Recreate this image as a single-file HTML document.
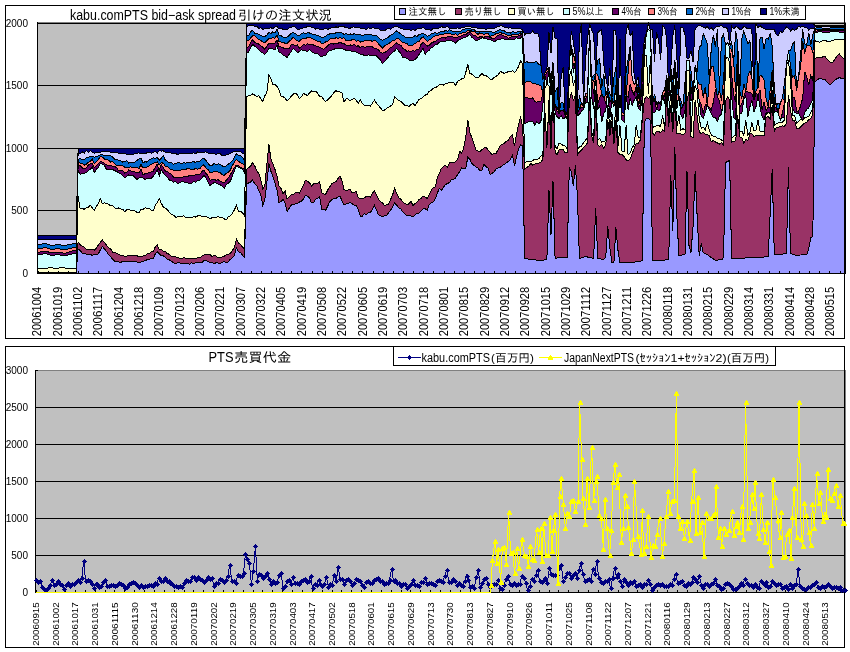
<!DOCTYPE html>
<html lang="ja">
<head>
<meta charset="utf-8">
<title>kabu.comPTS bid-ask spread / PTS売買代金</title>
<style>
html,body{margin:0;padding:0;background:#fff;}
body{width:850px;height:652px;overflow:hidden;font-family:"Liberation Sans","IPAGothic",sans-serif;}
svg{display:block;}
</style>
</head>
<body>
<svg width="850" height="652" viewBox="0 0 850 652" font-family="'Liberation Sans', 'IPAGothic', sans-serif" shape-rendering="crispEdges">
<rect width="850" height="652" fill="#fff"/>
<rect x="5.5" y="5.5" width="839" height="333" fill="#fff" stroke="#000"/>
<rect x="37.5" y="22.5" width="808" height="251" fill="#C0C0C0" stroke="#808080"/>
<line x1="37" x2="845" y1="210.5" y2="210.5" stroke="#000"/>
<line x1="37" x2="845" y1="148.5" y2="148.5" stroke="#000"/>
<line x1="37" x2="845" y1="85.5" y2="85.5" stroke="#000"/>
<line x1="37" x2="845" y1="23.5" y2="23.5" stroke="#000"/>
<path d="M37.5,273 39.5,273 41.6,273 43.6,273 45.6,273 47.6,273 49.7,273 51.7,273 53.7,273 55.8,273 57.8,273 59.8,273 61.9,273 63.9,273 65.9,273 67.9,273 70,273 72,273 74,273 76.1,273 78.1,249 80.1,250.3 82.2,253 84.2,253.4 86.2,254.2 88.2,254.3 90.3,254.4 92.3,255.5 94.3,254.4 96.4,254.9 98.4,253.8 100.4,249.7 102.4,246.6 104.5,249.1 106.5,251.3 108.5,254.7 110.6,256.6 112.6,259.3 114.6,261.3 116.7,261.9 118.7,261.8 120.7,262.7 122.7,261 124.8,261.5 126.8,261.7 128.8,261.6 130.9,261.2 132.9,261.5 134.9,262 137,261.9 139,262.5 141,261.9 143,261.2 145.1,260.7 147.1,259.7 149.1,259.6 151.2,258.3 153.2,258.5 155.2,254.1 157.2,251.6 159.3,254 161.3,255.6 163.3,255.9 165.4,257.5 167.4,259.3 169.4,259.9 171.5,261.2 173.5,262.9 175.5,263.9 177.5,262.7 179.6,262.8 181.6,263.3 183.6,263.6 185.7,263.2 187.7,263.8 189.7,264.1 191.8,262.7 193.8,264 195.8,262 197.8,262.7 199.9,262.3 201.9,262.7 203.9,260.8 206,260.6 208,261.5 210,262.4 212,262.5 214.1,263.9 216.1,262.6 218.1,263.1 220.2,263.3 222.2,262.4 224.2,261.7 226.3,262.6 228.3,261.7 230.3,259.3 232.3,258 234.4,255.2 236.4,247.9 238.4,251.7 240.5,252.7 242.5,255.2 244.5,257.4 246.6,184.4 248.6,183 250.6,182.1 252.6,180 254.7,183.7 256.7,185.7 258.7,190.2 260.8,195 262.8,205.4 264.8,200.3 266.9,182 268.9,163.5 270.9,171.2 272.9,176.9 275,183.2 277,190.1 279,202.6 281.1,201.6 283.1,199.2 285.1,203.5 287.1,211.3 289.2,208.3 291.2,205.1 293.2,204.2 295.3,204 297.3,203.6 299.3,202.1 301.4,201.2 303.4,198.9 305.4,195.5 307.4,196.3 309.5,197.7 311.5,203 313.5,202.9 315.6,199.2 317.6,198.4 319.6,196.5 321.7,209.3 323.7,209.7 325.7,210.1 327.7,206.1 329.8,201.6 331.8,199.9 333.8,198.2 335.9,198.4 337.9,196.9 339.9,196.1 341.9,200.4 344,204.9 346,204.1 348,203.7 350.1,202.1 352.1,203.8 354.1,205.3 356.2,205.5 358.2,209.6 360.2,216 362.2,216.1 364.3,213.8 366.3,214.6 368.3,213 370.4,212.5 372.4,209.4 374.4,205.3 376.5,210.1 378.5,214.8 380.5,215.7 382.5,216.5 384.6,215.7 386.6,215.3 388.6,212.8 390.7,210.1 392.7,206.6 394.7,202.9 396.7,205.1 398.8,208.1 400.8,209 402.8,211.8 404.9,214 406.9,215.7 408.9,215.6 411,216 413,216.6 415,215 417,213.4 419.1,213.1 421.1,210.9 423.1,208.8 425.2,208.8 427.2,210.3 429.2,204.6 431.3,202.6 433.3,201.8 435.3,198.6 437.3,193.1 439.4,188.4 441.4,190.5 443.4,187.2 445.5,184.6 447.5,183.3 449.5,182.7 451.5,179.5 453.6,179.2 455.6,178 457.6,174.4 459.7,171.5 461.7,167.9 463.7,169 465.8,168 467.8,157.3 469.8,159.1 471.8,163.6 473.9,165.2 475.9,167 477.9,168 480,170.8 482,170 484,164.4 486.1,166.6 488.1,168.2 490.1,174.2 492.1,173.5 494.2,171.7 496.2,169 498.2,168 500.3,167.3 502.3,165.7 504.3,164.3 506.3,162.8 508.4,161.4 510.4,159.4 512.4,155.2 514.5,165.6 516.5,157.4 518.5,149.3 520.6,144.6 522.6,145.7 524.6,258.5 526.6,258.8 528.7,259.2 530.7,259.5 532.7,259.7 534.8,259.9 536.8,260.1 538.8,260.3 540.9,260.5 542.9,260.2 544.9,259.8 546.9,259.5 549,190.5 551,234.5 553,181.5 555.1,258.5 557.1,258 559.1,257.5 561.1,257.5 563.2,257.5 565.2,257.5 567.2,257.5 569.3,167.5 571.3,171.5 573.3,185.5 575.4,165.5 577.4,195.5 579.4,258.5 581.4,257.8 583.5,257.2 585.5,256.5 587.5,257 589.6,257.5 591.6,258 593.6,258.5 595.7,208.5 597.7,258.5 599.7,258.8 601.7,259.2 603.8,259.5 605.8,256.5 607.8,226.5 609.9,248.5 611.9,262.5 613.9,262.5 615.9,227.5 618,250.5 620,262.5 622,262.5 624.1,262.5 626.1,262.5 628.1,262.5 630.2,262.5 632.2,262.3 634.2,262.1 636.2,261.9 638.3,261.7 640.3,261.5 642.3,260.5 644.4,122.5 646.4,118.5 648.4,118.5 650.5,120.5 652.5,260.5 654.5,260.5 656.5,260.5 658.6,260.5 660.6,260.5 662.6,260.2 664.7,260 666.7,259.8 668.7,259.5 670.8,175.5 672.8,230.5 674.8,147.5 676.8,215.5 678.9,255.5 680.9,255.2 682.9,254.8 685,254.5 687,171.5 689,245.5 691,252.5 693.1,225.5 695.1,171.5 697.1,215.5 699.2,255.5 701.2,243.5 703.2,252.5 705.3,253.5 707.3,254.5 709.3,256 711.3,257.5 713.4,259 715.4,260.5 717.4,260.2 719.5,259.8 721.5,259.5 723.5,258.5 725.6,162.5 727.6,161.5 729.6,160.5 731.6,258.5 733.7,258.5 735.7,258.5 737.7,258.5 739.8,258.5 741.8,258.3 743.8,258.1 745.8,257.9 747.9,257.7 749.9,257.5 751.9,257.5 754,257.5 756,257.5 758,257.5 760.1,257.5 762.1,257.2 764.1,257 766.1,256.8 768.2,256.5 770.2,213 772.2,169.5 774.3,254.5 776.3,254.5 778.3,254.5 780.4,254.5 782.4,254.2 784.4,253.8 786.4,253.5 788.5,167.5 790.5,253.5 792.5,254.2 794.6,254.8 796.6,255.5 798.6,255.2 800.6,255 802.7,254.8 804.7,254.5 806.7,254.5 808.8,248.5 810.8,237.5 812.8,236.5 814.9,81.8 816.9,80.2 818.9,78.6 820.9,78.8 823,79.2 825,79.5 827,81.9 829.1,84.4 831.1,84.1 833.1,81.6 835.2,79.8 837.2,78.6 839.2,77.6 841.2,78.2 843.3,78.9 845.3,79.5 845.3,273.5 843.3,273.5 841.2,273.5 839.2,273.5 837.2,273.5 835.2,273.5 833.1,273.5 831.1,273.5 829.1,273.5 827,273.5 825,273.5 823,273.5 820.9,273.5 818.9,273.5 816.9,273.5 814.9,273.5 812.8,273.5 810.8,273.5 808.8,273.5 806.7,273.5 804.7,273.5 802.7,273.5 800.6,273.5 798.6,273.5 796.6,273.5 794.6,273.5 792.5,273.5 790.5,273.5 788.5,273.5 786.4,273.5 784.4,273.5 782.4,273.5 780.4,273.5 778.3,273.5 776.3,273.5 774.3,273.5 772.2,273.5 770.2,273.5 768.2,273.5 766.1,273.5 764.1,273.5 762.1,273.5 760.1,273.5 758,273.5 756,273.5 754,273.5 751.9,273.5 749.9,273.5 747.9,273.5 745.8,273.5 743.8,273.5 741.8,273.5 739.8,273.5 737.7,273.5 735.7,273.5 733.7,273.5 731.6,273.5 729.6,273.5 727.6,273.5 725.6,273.5 723.5,273.5 721.5,273.5 719.5,273.5 717.4,273.5 715.4,273.5 713.4,273.5 711.3,273.5 709.3,273.5 707.3,273.5 705.3,273.5 703.2,273.5 701.2,273.5 699.2,273.5 697.1,273.5 695.1,273.5 693.1,273.5 691,273.5 689,273.5 687,273.5 685,273.5 682.9,273.5 680.9,273.5 678.9,273.5 676.8,273.5 674.8,273.5 672.8,273.5 670.8,273.5 668.7,273.5 666.7,273.5 664.7,273.5 662.6,273.5 660.6,273.5 658.6,273.5 656.5,273.5 654.5,273.5 652.5,273.5 650.5,273.5 648.4,273.5 646.4,273.5 644.4,273.5 642.3,273.5 640.3,273.5 638.3,273.5 636.2,273.5 634.2,273.5 632.2,273.5 630.2,273.5 628.1,273.5 626.1,273.5 624.1,273.5 622,273.5 620,273.5 618,273.5 615.9,273.5 613.9,273.5 611.9,273.5 609.9,273.5 607.8,273.5 605.8,273.5 603.8,273.5 601.7,273.5 599.7,273.5 597.7,273.5 595.7,273.5 593.6,273.5 591.6,273.5 589.6,273.5 587.5,273.5 585.5,273.5 583.5,273.5 581.4,273.5 579.4,273.5 577.4,273.5 575.4,273.5 573.3,273.5 571.3,273.5 569.3,273.5 567.2,273.5 565.2,273.5 563.2,273.5 561.1,273.5 559.1,273.5 557.1,273.5 555.1,273.5 553,273.5 551,273.5 549,273.5 546.9,273.5 544.9,273.5 542.9,273.5 540.9,273.5 538.8,273.5 536.8,273.5 534.8,273.5 532.7,273.5 530.7,273.5 528.7,273.5 526.6,273.5 524.6,273.5 522.6,273.5 520.6,273.5 518.5,273.5 516.5,273.5 514.5,273.5 512.4,273.5 510.4,273.5 508.4,273.5 506.3,273.5 504.3,273.5 502.3,273.5 500.3,273.5 498.2,273.5 496.2,273.5 494.2,273.5 492.1,273.5 490.1,273.5 488.1,273.5 486.1,273.5 484,273.5 482,273.5 480,273.5 477.9,273.5 475.9,273.5 473.9,273.5 471.8,273.5 469.8,273.5 467.8,273.5 465.8,273.5 463.7,273.5 461.7,273.5 459.7,273.5 457.6,273.5 455.6,273.5 453.6,273.5 451.5,273.5 449.5,273.5 447.5,273.5 445.5,273.5 443.4,273.5 441.4,273.5 439.4,273.5 437.3,273.5 435.3,273.5 433.3,273.5 431.3,273.5 429.2,273.5 427.2,273.5 425.2,273.5 423.1,273.5 421.1,273.5 419.1,273.5 417,273.5 415,273.5 413,273.5 411,273.5 408.9,273.5 406.9,273.5 404.9,273.5 402.8,273.5 400.8,273.5 398.8,273.5 396.7,273.5 394.7,273.5 392.7,273.5 390.7,273.5 388.6,273.5 386.6,273.5 384.6,273.5 382.5,273.5 380.5,273.5 378.5,273.5 376.5,273.5 374.4,273.5 372.4,273.5 370.4,273.5 368.3,273.5 366.3,273.5 364.3,273.5 362.2,273.5 360.2,273.5 358.2,273.5 356.2,273.5 354.1,273.5 352.1,273.5 350.1,273.5 348,273.5 346,273.5 344,273.5 341.9,273.5 339.9,273.5 337.9,273.5 335.9,273.5 333.8,273.5 331.8,273.5 329.8,273.5 327.7,273.5 325.7,273.5 323.7,273.5 321.7,273.5 319.6,273.5 317.6,273.5 315.6,273.5 313.5,273.5 311.5,273.5 309.5,273.5 307.4,273.5 305.4,273.5 303.4,273.5 301.4,273.5 299.3,273.5 297.3,273.5 295.3,273.5 293.2,273.5 291.2,273.5 289.2,273.5 287.1,273.5 285.1,273.5 283.1,273.5 281.1,273.5 279,273.5 277,273.5 275,273.5 272.9,273.5 270.9,273.5 268.9,273.5 266.9,273.5 264.8,273.5 262.8,273.5 260.8,273.5 258.7,273.5 256.7,273.5 254.7,273.5 252.6,273.5 250.6,273.5 248.6,273.5 246.6,273.5 244.5,273.5 242.5,273.5 240.5,273.5 238.4,273.5 236.4,273.5 234.4,273.5 232.3,273.5 230.3,273.5 228.3,273.5 226.3,273.5 224.2,273.5 222.2,273.5 220.2,273.5 218.1,273.5 216.1,273.5 214.1,273.5 212,273.5 210,273.5 208,273.5 206,273.5 203.9,273.5 201.9,273.5 199.9,273.5 197.8,273.5 195.8,273.5 193.8,273.5 191.8,273.5 189.7,273.5 187.7,273.5 185.7,273.5 183.6,273.5 181.6,273.5 179.6,273.5 177.5,273.5 175.5,273.5 173.5,273.5 171.5,273.5 169.4,273.5 167.4,273.5 165.4,273.5 163.3,273.5 161.3,273.5 159.3,273.5 157.2,273.5 155.2,273.5 153.2,273.5 151.2,273.5 149.1,273.5 147.1,273.5 145.1,273.5 143,273.5 141,273.5 139,273.5 137,273.5 134.9,273.5 132.9,273.5 130.9,273.5 128.8,273.5 126.8,273.5 124.8,273.5 122.7,273.5 120.7,273.5 118.7,273.5 116.7,273.5 114.6,273.5 112.6,273.5 110.6,273.5 108.5,273.5 106.5,273.5 104.5,273.5 102.4,273.5 100.4,273.5 98.4,273.5 96.4,273.5 94.3,273.5 92.3,273.5 90.3,273.5 88.2,273.5 86.2,273.5 84.2,273.5 82.2,273.5 80.1,273.5 78.1,273.5 76.1,273.5 74,273.5 72,273.5 70,273.5 67.9,273.5 65.9,273.5 63.9,273.5 61.9,273.5 59.8,273.5 57.8,273.5 55.8,273.5 53.7,273.5 51.7,273.5 49.7,273.5 47.6,273.5 45.6,273.5 43.6,273.5 41.6,273.5 39.5,273.5 37.5,273.5Z" fill="#9999FF" stroke="#000" stroke-width="1" stroke-linejoin="miter"/>
<path d="M37.5,272.5 39.5,272.5 41.6,272.5 43.6,272.5 45.6,272.5 47.6,272.5 49.7,272.5 51.7,272.5 53.7,272.5 55.8,272.5 57.8,272.5 59.8,272.5 61.9,272.5 63.9,272.5 65.9,272.5 67.9,272.5 70,272.5 72,272.5 74,272.5 76.1,272.5 78.1,241.8 80.1,244.7 82.2,246.1 84.2,247 86.2,249 88.2,249.2 90.3,249.2 92.3,249.2 94.3,250.3 96.4,247.9 98.4,245 100.4,242.3 102.4,240.1 104.5,242.4 106.5,245 108.5,247.9 110.6,248.8 112.6,252.1 114.6,252.2 116.7,253.7 118.7,254.3 120.7,255.5 122.7,255.8 124.8,256.1 126.8,256.1 128.8,255.1 130.9,255.2 132.9,255.8 134.9,256 137,255.6 139,257 141,256.1 143,256 145.1,255.6 147.1,254 149.1,253.7 151.2,252 153.2,251.8 155.2,247.1 157.2,244.9 159.3,249.5 161.3,249.2 163.3,251 165.4,251.2 167.4,253.9 169.4,254.1 171.5,256.5 173.5,256.9 175.5,256.5 177.5,257.7 179.6,258.1 181.6,259 183.6,257.6 185.7,258.4 187.7,258.2 189.7,258.6 191.8,258.4 193.8,258.3 195.8,258.3 197.8,257.6 199.9,257.9 201.9,256.2 203.9,255 206,254.3 208,254.7 210,254.5 212,256.7 214.1,255.6 216.1,256 218.1,258.1 220.2,257.5 222.2,257 224.2,256.2 226.3,254.7 228.3,254.4 230.3,253.5 232.3,250.5 234.4,247.6 236.4,239.2 238.4,242.9 240.5,244.5 242.5,247.3 244.5,248.6 246.6,169.4 248.6,167.6 250.6,166.2 252.6,162.5 254.7,165.7 256.7,170.8 258.7,173.4 260.8,179.7 262.8,188.7 264.8,186.3 266.9,164.1 268.9,144.5 270.9,158.8 272.9,163.9 275,169.4 277,176 279,186 281.1,188.5 283.1,194.2 285.1,190.8 287.1,199.2 289.2,197 291.2,194.6 293.2,194.5 295.3,192.8 297.3,192.2 299.3,193 301.4,189.3 303.4,185.6 305.4,180.2 307.4,181.2 309.5,182.6 311.5,186 313.5,183.8 315.6,183.4 317.6,183.1 319.6,181.6 321.7,192.6 323.7,194 325.7,194.3 327.7,190 329.8,186.9 331.8,183.9 333.8,182.2 335.9,181.8 337.9,178.8 339.9,175.9 341.9,180.5 344,189.4 346,191 348,189.8 350.1,189.5 352.1,192.7 354.1,192.7 356.2,191.3 358.2,197.7 360.2,198.9 362.2,199 364.3,197.6 366.3,196.7 368.3,196.5 370.4,197 372.4,193.3 374.4,190.6 376.5,194.7 378.5,199.4 380.5,201.7 382.5,203.1 384.6,205.4 386.6,204.9 388.6,204.2 390.7,199.3 392.7,194.6 394.7,188 396.7,193.8 398.8,197.6 400.8,199.4 402.8,202 404.9,203.4 406.9,204.8 408.9,203.8 411,201.5 413,205.6 415,203.4 417,202.2 419.1,199.3 421.1,198.4 423.1,196 425.2,197.1 427.2,198.4 429.2,194.4 431.3,190.1 433.3,187.8 435.3,186.7 437.3,178 439.4,173 441.4,168.5 443.4,166.3 445.5,165.2 447.5,167.4 449.5,162.5 451.5,162.3 453.6,162.5 455.6,161.8 457.6,159.1 459.7,151.4 461.7,153.3 463.7,147.9 465.8,137.2 467.8,120 469.8,132.3 471.8,137.5 473.9,143.2 475.9,150 477.9,151.1 480,151.9 482,149.4 484,148.2 486.1,147.2 488.1,149.8 490.1,152.4 492.1,154.5 494.2,153.1 496.2,153.1 498.2,149.3 500.3,145.8 502.3,144.2 504.3,143.3 506.3,141.4 508.4,140.4 510.4,136.6 512.4,134.9 514.5,146.4 516.5,134.5 518.5,124.6 520.6,116.4 522.6,127.2 524.6,169.5 526.6,167.5 528.7,166.4 530.7,163.4 532.7,165.3 534.8,164.1 536.8,163.1 538.8,163.1 540.9,162 542.9,159.3 544.9,110.5 546.9,147.6 549,100.5 551,148.7 553,95.5 555.1,152.5 557.1,155 559.1,149.7 561.1,149.3 563.2,149.9 565.2,152.9 567.2,152.7 569.3,100.5 571.3,92.5 573.3,100.5 575.4,95.5 577.4,155 579.4,151.8 581.4,150.4 583.5,147.5 585.5,145.4 587.5,142.7 589.6,98.5 591.6,135.5 593.6,143.3 595.7,105.5 597.7,144.7 599.7,146.4 601.7,144.1 603.8,148.2 605.8,144.8 607.8,120.5 609.9,135.7 611.9,121.2 613.9,144.3 615.9,120.5 618,152.6 620,154.4 622,154.4 624.1,156.7 626.1,159.8 628.1,161.1 630.2,159 632.2,153.5 634.2,148.5 636.2,143.3 638.3,143.2 640.3,139.9 642.3,119.7 644.4,99.4 646.4,96.6 648.4,98.7 650.5,95.8 652.5,133.3 654.5,134.9 656.5,131.3 658.6,131.2 660.6,132.9 662.6,129.8 664.7,131.7 666.7,94.6 668.7,126.5 670.8,105.5 672.8,131.9 674.8,100.5 676.8,133.8 678.9,134 680.9,133.9 682.9,135.1 685,133.3 687,100.5 689,92.3 691,136.7 693.1,137.7 695.1,100.5 697.1,115.5 699.2,131.7 701.2,133.6 703.2,132.5 705.3,134.1 707.3,134.5 709.3,135.6 711.3,142 713.4,140.4 715.4,142 717.4,142.9 719.5,144.1 721.5,142.5 723.5,145.5 725.6,100.5 727.6,96.5 729.6,100.5 731.6,142.2 733.7,141.3 735.7,140.9 737.7,115.5 739.8,137 741.8,137.6 743.8,142.9 745.8,139.5 747.9,140.2 749.9,133.8 751.9,133.8 754,136.7 756,135 758,135.2 760.1,135.7 762.1,135.7 764.1,135.3 766.1,117.6 768.2,116.5 770.2,118.9 772.2,105.5 774.3,131.5 776.3,127.3 778.3,127.3 780.4,126.2 782.4,125.9 784.4,126.5 786.4,123.3 788.5,95.5 790.5,110.5 792.5,120.7 794.6,120.1 796.6,128.2 798.6,128.8 800.6,126.9 802.7,124.7 804.7,123.1 806.7,122.2 808.8,119.6 810.8,118.4 812.8,114.1 814.9,58.9 816.9,57.3 818.9,57 820.9,58 823,56.8 825,56.4 827,59.2 829.1,61.3 831.1,62.8 833.1,61.8 835.2,58.8 837.2,55.9 839.2,53.8 841.2,56.3 843.3,58.4 845.3,57.5 845.3,79.5 843.3,78.9 841.2,78.2 839.2,77.6 837.2,78.6 835.2,79.8 833.1,81.6 831.1,84.1 829.1,84.4 827,81.9 825,79.5 823,79.2 820.9,78.8 818.9,78.6 816.9,80.2 814.9,81.8 812.8,236.5 810.8,237.5 808.8,248.5 806.7,254.5 804.7,254.5 802.7,254.8 800.6,255 798.6,255.2 796.6,255.5 794.6,254.8 792.5,254.2 790.5,253.5 788.5,167.5 786.4,253.5 784.4,253.8 782.4,254.2 780.4,254.5 778.3,254.5 776.3,254.5 774.3,254.5 772.2,169.5 770.2,213 768.2,256.5 766.1,256.8 764.1,257 762.1,257.2 760.1,257.5 758,257.5 756,257.5 754,257.5 751.9,257.5 749.9,257.5 747.9,257.7 745.8,257.9 743.8,258.1 741.8,258.3 739.8,258.5 737.7,258.5 735.7,258.5 733.7,258.5 731.6,258.5 729.6,160.5 727.6,161.5 725.6,162.5 723.5,258.5 721.5,259.5 719.5,259.8 717.4,260.2 715.4,260.5 713.4,259 711.3,257.5 709.3,256 707.3,254.5 705.3,253.5 703.2,252.5 701.2,243.5 699.2,255.5 697.1,215.5 695.1,171.5 693.1,225.5 691,252.5 689,245.5 687,171.5 685,254.5 682.9,254.8 680.9,255.2 678.9,255.5 676.8,215.5 674.8,147.5 672.8,230.5 670.8,175.5 668.7,259.5 666.7,259.8 664.7,260 662.6,260.2 660.6,260.5 658.6,260.5 656.5,260.5 654.5,260.5 652.5,260.5 650.5,120.5 648.4,118.5 646.4,118.5 644.4,122.5 642.3,260.5 640.3,261.5 638.3,261.7 636.2,261.9 634.2,262.1 632.2,262.3 630.2,262.5 628.1,262.5 626.1,262.5 624.1,262.5 622,262.5 620,262.5 618,250.5 615.9,227.5 613.9,262.5 611.9,262.5 609.9,248.5 607.8,226.5 605.8,256.5 603.8,259.5 601.7,259.2 599.7,258.8 597.7,258.5 595.7,208.5 593.6,258.5 591.6,258 589.6,257.5 587.5,257 585.5,256.5 583.5,257.2 581.4,257.8 579.4,258.5 577.4,195.5 575.4,165.5 573.3,185.5 571.3,171.5 569.3,167.5 567.2,257.5 565.2,257.5 563.2,257.5 561.1,257.5 559.1,257.5 557.1,258 555.1,258.5 553,181.5 551,234.5 549,190.5 546.9,259.5 544.9,259.8 542.9,260.2 540.9,260.5 538.8,260.3 536.8,260.1 534.8,259.9 532.7,259.7 530.7,259.5 528.7,259.2 526.6,258.8 524.6,258.5 522.6,145.7 520.6,144.6 518.5,149.3 516.5,157.4 514.5,165.6 512.4,155.2 510.4,159.4 508.4,161.4 506.3,162.8 504.3,164.3 502.3,165.7 500.3,167.3 498.2,168 496.2,169 494.2,171.7 492.1,173.5 490.1,174.2 488.1,168.2 486.1,166.6 484,164.4 482,170 480,170.8 477.9,168 475.9,167 473.9,165.2 471.8,163.6 469.8,159.1 467.8,157.3 465.8,168 463.7,169 461.7,167.9 459.7,171.5 457.6,174.4 455.6,178 453.6,179.2 451.5,179.5 449.5,182.7 447.5,183.3 445.5,184.6 443.4,187.2 441.4,190.5 439.4,188.4 437.3,193.1 435.3,198.6 433.3,201.8 431.3,202.6 429.2,204.6 427.2,210.3 425.2,208.8 423.1,208.8 421.1,210.9 419.1,213.1 417,213.4 415,215 413,216.6 411,216 408.9,215.6 406.9,215.7 404.9,214 402.8,211.8 400.8,209 398.8,208.1 396.7,205.1 394.7,202.9 392.7,206.6 390.7,210.1 388.6,212.8 386.6,215.3 384.6,215.7 382.5,216.5 380.5,215.7 378.5,214.8 376.5,210.1 374.4,205.3 372.4,209.4 370.4,212.5 368.3,213 366.3,214.6 364.3,213.8 362.2,216.1 360.2,216 358.2,209.6 356.2,205.5 354.1,205.3 352.1,203.8 350.1,202.1 348,203.7 346,204.1 344,204.9 341.9,200.4 339.9,196.1 337.9,196.9 335.9,198.4 333.8,198.2 331.8,199.9 329.8,201.6 327.7,206.1 325.7,210.1 323.7,209.7 321.7,209.3 319.6,196.5 317.6,198.4 315.6,199.2 313.5,202.9 311.5,203 309.5,197.7 307.4,196.3 305.4,195.5 303.4,198.9 301.4,201.2 299.3,202.1 297.3,203.6 295.3,204 293.2,204.2 291.2,205.1 289.2,208.3 287.1,211.3 285.1,203.5 283.1,199.2 281.1,201.6 279,202.6 277,190.1 275,183.2 272.9,176.9 270.9,171.2 268.9,163.5 266.9,182 264.8,200.3 262.8,205.4 260.8,195 258.7,190.2 256.7,185.7 254.7,183.7 252.6,180 250.6,182.1 248.6,183 246.6,184.4 244.5,257.4 242.5,255.2 240.5,252.7 238.4,251.7 236.4,247.9 234.4,255.2 232.3,258 230.3,259.3 228.3,261.7 226.3,262.6 224.2,261.7 222.2,262.4 220.2,263.3 218.1,263.1 216.1,262.6 214.1,263.9 212,262.5 210,262.4 208,261.5 206,260.6 203.9,260.8 201.9,262.7 199.9,262.3 197.8,262.7 195.8,262 193.8,264 191.8,262.7 189.7,264.1 187.7,263.8 185.7,263.2 183.6,263.6 181.6,263.3 179.6,262.8 177.5,262.7 175.5,263.9 173.5,262.9 171.5,261.2 169.4,259.9 167.4,259.3 165.4,257.5 163.3,255.9 161.3,255.6 159.3,254 157.2,251.6 155.2,254.1 153.2,258.5 151.2,258.3 149.1,259.6 147.1,259.7 145.1,260.7 143,261.2 141,261.9 139,262.5 137,261.9 134.9,262 132.9,261.5 130.9,261.2 128.8,261.6 126.8,261.7 124.8,261.5 122.7,261 120.7,262.7 118.7,261.8 116.7,261.9 114.6,261.3 112.6,259.3 110.6,256.6 108.5,254.7 106.5,251.3 104.5,249.1 102.4,246.6 100.4,249.7 98.4,253.8 96.4,254.9 94.3,254.4 92.3,255.5 90.3,254.4 88.2,254.3 86.2,254.2 84.2,253.4 82.2,253 80.1,250.3 78.1,249 76.1,273 74,273 72,273 70,273 67.9,273 65.9,273 63.9,273 61.9,273 59.8,273 57.8,273 55.8,273 53.7,273 51.7,273 49.7,273 47.6,273 45.6,273 43.6,273 41.6,273 39.5,273 37.5,273Z" fill="#993366" stroke="#000" stroke-width="1" stroke-linejoin="miter"/>
<path d="M37.5,268 39.5,268.1 41.6,268.3 43.6,268.4 45.6,268.4 47.6,268 49.7,267.6 51.7,267.8 53.7,268.1 55.8,268.5 57.8,268.2 59.8,267.9 61.9,267.5 63.9,267.8 65.9,268.2 67.9,268.5 70,268.4 72,268.2 74,268.1 76.1,268 78.1,196 80.1,208.3 82.2,208.6 84.2,209.2 86.2,207.8 88.2,207.5 90.3,205.1 92.3,208 94.3,210.7 96.4,206.4 98.4,203.4 100.4,198.6 102.4,203.6 104.5,202.9 106.5,203.8 108.5,204.1 110.6,205.9 112.6,205.6 114.6,207.8 116.7,208.7 118.7,207.9 120.7,208.9 122.7,209.2 124.8,211.8 126.8,209.8 128.8,209.1 130.9,210.4 132.9,210.1 134.9,211.1 137,212.2 139,212.5 141,209.3 143,209.3 145.1,207.9 147.1,208.1 149.1,208.1 151.2,210 153.2,210.9 155.2,205.6 157.2,202.4 159.3,198.7 161.3,203.3 163.3,207 165.4,208.2 167.4,209.6 169.4,212.2 171.5,214.2 173.5,215.1 175.5,217.2 177.5,216.9 179.6,216.8 181.6,216.2 183.6,215.9 185.7,217.4 187.7,217.2 189.7,217.9 191.8,218 193.8,216.1 195.8,217.2 197.8,215.7 199.9,215.6 201.9,216.4 203.9,216.2 206,216.4 208,217.6 210,218.7 212,217.8 214.1,218 216.1,217.3 218.1,216.8 220.2,217.4 222.2,217.4 224.2,218.8 226.3,219.9 228.3,216.7 230.3,216 232.3,213.4 234.4,210 236.4,205.2 238.4,211 240.5,211.3 242.5,212.6 244.5,215.7 246.6,96.2 248.6,95.9 250.6,95.3 252.6,94 254.7,95.1 256.7,96.3 258.7,95.7 260.8,98.5 262.8,101.8 264.8,95.8 266.9,92.4 268.9,75.3 270.9,78.3 272.9,84.8 275,84.7 277,86.5 279,89.8 281.1,96.3 283.1,96.8 285.1,98 287.1,101 289.2,99 291.2,96.4 293.2,94.1 295.3,93.3 297.3,94.4 299.3,98.5 301.4,96.7 303.4,93.6 305.4,94.4 307.4,95.4 309.5,93.1 311.5,91 313.5,91.4 315.6,91.2 317.6,93.3 319.6,96.3 321.7,96.9 323.7,99.5 325.7,101.4 327.7,99.9 329.8,97.5 331.8,95.6 333.8,92.6 335.9,90.7 337.9,91.7 339.9,92 341.9,92.9 344,102.1 346,98.8 348,98.8 350.1,100.8 352.1,99.4 354.1,98.3 356.2,100.3 358.2,103.3 360.2,99.8 362.2,103 364.3,105.4 366.3,106 368.3,105.3 370.4,106.3 372.4,103.1 374.4,100.2 376.5,103.3 378.5,105.7 380.5,108.1 382.5,110.4 384.6,110.1 386.6,108.3 388.6,107.1 390.7,105.9 392.7,104.4 394.7,96.9 396.7,98.4 398.8,100.8 400.8,101.2 402.8,103.4 404.9,105.4 406.9,105.2 408.9,107 411,104.5 413,103.7 415,105.6 417,102.4 419.1,99.3 421.1,98.5 423.1,97.1 425.2,95.1 427.2,94.4 429.2,91.2 431.3,90.3 433.3,88.2 435.3,87.6 437.3,86.6 439.4,84.9 441.4,84.4 443.4,85.2 445.5,83.4 447.5,83.4 449.5,82.5 451.5,82.8 453.6,82.8 455.6,85.2 457.6,81.4 459.7,80.2 461.7,78.8 463.7,79 465.8,72.3 467.8,64.3 469.8,73.3 471.8,74.1 473.9,76.1 475.9,77.4 477.9,78.1 480,75.6 482,73.6 484,75.3 486.1,75.7 488.1,77.2 490.1,79 492.1,79.3 494.2,77.4 496.2,76.3 498.2,74.9 500.3,71.4 502.3,72.5 504.3,73.4 506.3,72.5 508.4,71.7 510.4,71.6 512.4,70.7 514.5,72.7 516.5,70.1 518.5,66.5 520.6,60.9 522.6,64.2 524.6,162.9 526.6,161.4 528.7,161.2 530.7,161.6 532.7,160.5 534.8,159 536.8,159.2 538.8,158.8 540.9,155.9 542.9,154.8 544.9,88.5 546.9,84.3 549,85.5 551,143.6 553,80.5 555.1,147.5 557.1,148.2 559.1,143 561.1,143.9 563.2,145.7 565.2,146.1 567.2,148.7 569.3,75.5 571.3,70.5 573.3,85.5 575.4,78.5 577.4,150.2 579.4,147 581.4,146.5 583.5,142.7 585.5,140.2 587.5,137.6 589.6,88.5 591.6,131.1 593.6,138.4 595.7,90.5 597.7,139.6 599.7,138.6 601.7,142.1 603.8,141.7 605.8,140.2 607.8,105.5 609.9,129.3 611.9,112.5 613.9,138.2 615.9,100.5 618,146.3 620,125.5 622,151 624.1,151.2 626.1,125.5 628.1,155 630.2,152.9 632.2,147.6 634.2,144.6 636.2,125.5 638.3,137.3 640.3,137.3 642.3,116.6 644.4,55.9 646.4,55.1 648.4,93.6 650.5,56.1 652.5,127.5 654.5,126.5 656.5,125.8 658.6,125.6 660.6,126.5 662.6,115.5 664.7,128.7 666.7,85.5 668.7,119.1 670.8,90.5 672.8,126.2 674.8,85.5 676.8,127.6 678.9,115.5 680.9,130 682.9,128.8 685,129.5 687,70.8 689,70.5 691,132.4 693.1,98.1 695.1,85.5 697.1,90.5 699.2,118.5 701.2,128.4 703.2,127.3 705.3,129.9 707.3,122.5 709.3,129.9 711.3,135.1 713.4,136.2 715.4,136.3 717.4,138.6 719.5,138.4 721.5,140.1 723.5,140.6 725.6,58.6 727.6,57.3 729.6,62.5 731.6,138 733.7,136.2 735.7,135.5 737.7,59.6 739.8,132.1 741.8,131 743.8,135.2 745.8,120.5 747.9,134.7 749.9,132.4 751.9,122.5 754,130.6 756,129.9 758,120.5 760.1,131.8 762.1,131.5 764.1,130.9 766.1,114.2 768.2,112.6 770.2,113.5 772.2,90.5 774.3,125.7 776.3,123.4 778.3,122.9 780.4,122.8 782.4,122.2 784.4,120.2 786.4,64.7 788.5,60.9 790.5,80.5 792.5,115.3 794.6,115.2 796.6,123 798.6,121.8 800.6,119.3 802.7,120 804.7,117.8 806.7,117 808.8,116.9 810.8,112.3 812.8,109.3 814.9,40.8 816.9,41.5 818.9,42.1 820.9,41.9 823,40.6 825,40.4 827,41.2 829.1,42 831.1,41.1 833.1,40.2 835.2,39.4 837.2,39.1 839.2,39.4 841.2,39.6 843.3,39.8 845.3,40 845.3,57.5 843.3,58.4 841.2,56.3 839.2,53.8 837.2,55.9 835.2,58.8 833.1,61.8 831.1,62.8 829.1,61.3 827,59.2 825,56.4 823,56.8 820.9,58 818.9,57 816.9,57.3 814.9,58.9 812.8,114.1 810.8,118.4 808.8,119.6 806.7,122.2 804.7,123.1 802.7,124.7 800.6,126.9 798.6,128.8 796.6,128.2 794.6,120.1 792.5,120.7 790.5,110.5 788.5,95.5 786.4,123.3 784.4,126.5 782.4,125.9 780.4,126.2 778.3,127.3 776.3,127.3 774.3,131.5 772.2,105.5 770.2,118.9 768.2,116.5 766.1,117.6 764.1,135.3 762.1,135.7 760.1,135.7 758,135.2 756,135 754,136.7 751.9,133.8 749.9,133.8 747.9,140.2 745.8,139.5 743.8,142.9 741.8,137.6 739.8,137 737.7,115.5 735.7,140.9 733.7,141.3 731.6,142.2 729.6,100.5 727.6,96.5 725.6,100.5 723.5,145.5 721.5,142.5 719.5,144.1 717.4,142.9 715.4,142 713.4,140.4 711.3,142 709.3,135.6 707.3,134.5 705.3,134.1 703.2,132.5 701.2,133.6 699.2,131.7 697.1,115.5 695.1,100.5 693.1,137.7 691,136.7 689,92.3 687,100.5 685,133.3 682.9,135.1 680.9,133.9 678.9,134 676.8,133.8 674.8,100.5 672.8,131.9 670.8,105.5 668.7,126.5 666.7,94.6 664.7,131.7 662.6,129.8 660.6,132.9 658.6,131.2 656.5,131.3 654.5,134.9 652.5,133.3 650.5,95.8 648.4,98.7 646.4,96.6 644.4,99.4 642.3,119.7 640.3,139.9 638.3,143.2 636.2,143.3 634.2,148.5 632.2,153.5 630.2,159 628.1,161.1 626.1,159.8 624.1,156.7 622,154.4 620,154.4 618,152.6 615.9,120.5 613.9,144.3 611.9,121.2 609.9,135.7 607.8,120.5 605.8,144.8 603.8,148.2 601.7,144.1 599.7,146.4 597.7,144.7 595.7,105.5 593.6,143.3 591.6,135.5 589.6,98.5 587.5,142.7 585.5,145.4 583.5,147.5 581.4,150.4 579.4,151.8 577.4,155 575.4,95.5 573.3,100.5 571.3,92.5 569.3,100.5 567.2,152.7 565.2,152.9 563.2,149.9 561.1,149.3 559.1,149.7 557.1,155 555.1,152.5 553,95.5 551,148.7 549,100.5 546.9,147.6 544.9,110.5 542.9,159.3 540.9,162 538.8,163.1 536.8,163.1 534.8,164.1 532.7,165.3 530.7,163.4 528.7,166.4 526.6,167.5 524.6,169.5 522.6,127.2 520.6,116.4 518.5,124.6 516.5,134.5 514.5,146.4 512.4,134.9 510.4,136.6 508.4,140.4 506.3,141.4 504.3,143.3 502.3,144.2 500.3,145.8 498.2,149.3 496.2,153.1 494.2,153.1 492.1,154.5 490.1,152.4 488.1,149.8 486.1,147.2 484,148.2 482,149.4 480,151.9 477.9,151.1 475.9,150 473.9,143.2 471.8,137.5 469.8,132.3 467.8,120 465.8,137.2 463.7,147.9 461.7,153.3 459.7,151.4 457.6,159.1 455.6,161.8 453.6,162.5 451.5,162.3 449.5,162.5 447.5,167.4 445.5,165.2 443.4,166.3 441.4,168.5 439.4,173 437.3,178 435.3,186.7 433.3,187.8 431.3,190.1 429.2,194.4 427.2,198.4 425.2,197.1 423.1,196 421.1,198.4 419.1,199.3 417,202.2 415,203.4 413,205.6 411,201.5 408.9,203.8 406.9,204.8 404.9,203.4 402.8,202 400.8,199.4 398.8,197.6 396.7,193.8 394.7,188 392.7,194.6 390.7,199.3 388.6,204.2 386.6,204.9 384.6,205.4 382.5,203.1 380.5,201.7 378.5,199.4 376.5,194.7 374.4,190.6 372.4,193.3 370.4,197 368.3,196.5 366.3,196.7 364.3,197.6 362.2,199 360.2,198.9 358.2,197.7 356.2,191.3 354.1,192.7 352.1,192.7 350.1,189.5 348,189.8 346,191 344,189.4 341.9,180.5 339.9,175.9 337.9,178.8 335.9,181.8 333.8,182.2 331.8,183.9 329.8,186.9 327.7,190 325.7,194.3 323.7,194 321.7,192.6 319.6,181.6 317.6,183.1 315.6,183.4 313.5,183.8 311.5,186 309.5,182.6 307.4,181.2 305.4,180.2 303.4,185.6 301.4,189.3 299.3,193 297.3,192.2 295.3,192.8 293.2,194.5 291.2,194.6 289.2,197 287.1,199.2 285.1,190.8 283.1,194.2 281.1,188.5 279,186 277,176 275,169.4 272.9,163.9 270.9,158.8 268.9,144.5 266.9,164.1 264.8,186.3 262.8,188.7 260.8,179.7 258.7,173.4 256.7,170.8 254.7,165.7 252.6,162.5 250.6,166.2 248.6,167.6 246.6,169.4 244.5,248.6 242.5,247.3 240.5,244.5 238.4,242.9 236.4,239.2 234.4,247.6 232.3,250.5 230.3,253.5 228.3,254.4 226.3,254.7 224.2,256.2 222.2,257 220.2,257.5 218.1,258.1 216.1,256 214.1,255.6 212,256.7 210,254.5 208,254.7 206,254.3 203.9,255 201.9,256.2 199.9,257.9 197.8,257.6 195.8,258.3 193.8,258.3 191.8,258.4 189.7,258.6 187.7,258.2 185.7,258.4 183.6,257.6 181.6,259 179.6,258.1 177.5,257.7 175.5,256.5 173.5,256.9 171.5,256.5 169.4,254.1 167.4,253.9 165.4,251.2 163.3,251 161.3,249.2 159.3,249.5 157.2,244.9 155.2,247.1 153.2,251.8 151.2,252 149.1,253.7 147.1,254 145.1,255.6 143,256 141,256.1 139,257 137,255.6 134.9,256 132.9,255.8 130.9,255.2 128.8,255.1 126.8,256.1 124.8,256.1 122.7,255.8 120.7,255.5 118.7,254.3 116.7,253.7 114.6,252.2 112.6,252.1 110.6,248.8 108.5,247.9 106.5,245 104.5,242.4 102.4,240.1 100.4,242.3 98.4,245 96.4,247.9 94.3,250.3 92.3,249.2 90.3,249.2 88.2,249.2 86.2,249 84.2,247 82.2,246.1 80.1,244.7 78.1,241.8 76.1,272.5 74,272.5 72,272.5 70,272.5 67.9,272.5 65.9,272.5 63.9,272.5 61.9,272.5 59.8,272.5 57.8,272.5 55.8,272.5 53.7,272.5 51.7,272.5 49.7,272.5 47.6,272.5 45.6,272.5 43.6,272.5 41.6,272.5 39.5,272.5 37.5,272.5Z" fill="#FFFFCC" stroke="#000" stroke-width="1" stroke-linejoin="miter"/>
<path d="M37.5,255 39.5,254.7 41.6,254.2 43.6,253.8 45.6,253.7 47.6,254.3 49.7,254.8 51.7,255.4 53.7,255.2 55.8,254.9 57.8,254.5 59.8,254.9 61.9,255.3 63.9,255.8 65.9,255.7 67.9,255.1 70,254.5 72,254.1 74,253.7 76.1,253.5 78.1,169.8 80.1,174.1 82.2,173.9 84.2,173.5 86.2,172.6 88.2,170.6 90.3,169.2 92.3,166.9 94.3,172.7 96.4,169.2 98.4,167.6 100.4,163.1 102.4,164.1 104.5,165.3 106.5,169.6 108.5,169.4 110.6,169.7 112.6,169.3 114.6,170.7 116.7,171.4 118.7,172.7 120.7,174 122.7,175.4 124.8,177.6 126.8,176.4 128.8,174.7 130.9,175.9 132.9,175 134.9,177.5 137,179.4 139,177.9 141,176.9 143,178.1 145.1,179.5 147.1,178.7 149.1,178 151.2,178.4 153.2,176.2 155.2,173.5 157.2,169.6 159.3,175.8 161.3,169.4 163.3,172.9 165.4,175.3 167.4,177.4 169.4,180 171.5,180.8 173.5,182.2 175.5,181.7 177.5,183.6 179.6,182.7 181.6,181.4 183.6,181.7 185.7,182.7 187.7,183 189.7,184 191.8,183.2 193.8,181.3 195.8,182.2 197.8,180.4 199.9,180.4 201.9,178 203.9,175.3 206,177.7 208,182.1 210,185.5 212,183.8 214.1,182.6 216.1,183 218.1,184.1 220.2,184.8 222.2,186.4 224.2,188.2 226.3,184.4 228.3,183.1 230.3,181.3 232.3,176 234.4,170.7 236.4,166 238.4,167.1 240.5,168.4 242.5,168.3 244.5,173.6 246.6,52.3 248.6,52 250.6,48.1 252.6,44.3 254.7,46.2 256.7,47.4 258.7,49.9 260.8,51.7 262.8,52.8 264.8,54.6 266.9,51.9 268.9,48.7 270.9,48.3 272.9,49.1 275,49.9 277,45 279,52.1 281.1,53.1 283.1,55.1 285.1,55.9 287.1,57.5 289.2,54.3 291.2,51.5 293.2,48.4 295.3,50.1 297.3,52.5 299.3,51.7 301.4,49.7 303.4,50.5 305.4,50.7 307.4,51.6 309.5,49.3 311.5,51.8 313.5,52.7 315.6,53.7 317.6,53.7 319.6,55.8 321.7,56.6 323.7,55.9 325.7,55.5 327.7,52.2 329.8,50.4 331.8,50.1 333.8,49.5 335.9,47.9 337.9,48.3 339.9,48.1 341.9,48.9 344,49.1 346,50.3 348,50.4 350.1,50.9 352.1,51.2 354.1,51.9 356.2,52 358.2,53.3 360.2,54 362.2,54.3 364.3,55.5 366.3,55.8 368.3,54.7 370.4,55.6 372.4,55.4 374.4,55.7 376.5,56 378.5,58.2 380.5,60.2 382.5,63.5 384.6,61.7 386.6,59.1 388.6,56.7 390.7,54.3 392.7,52.1 394.7,50.9 396.7,48.4 398.8,51.1 400.8,53.4 402.8,57.3 404.9,57.5 406.9,58.2 408.9,60 411,60.1 413,60.7 415,59.4 417,57.6 419.1,54.3 421.1,51.3 423.1,48.5 425.2,54.2 427.2,51.6 429.2,50.2 431.3,47.9 433.3,46.9 435.3,44.9 437.3,44.1 439.4,42.4 441.4,41.3 443.4,41.5 445.5,41.2 447.5,40.1 449.5,40.9 451.5,40.6 453.6,41.6 455.6,43.2 457.6,40.9 459.7,39.4 461.7,38.9 463.7,37.2 465.8,37.3 467.8,35.9 469.8,34.7 471.8,37.2 473.9,38.7 475.9,40.8 477.9,40 480,39.2 482,37.4 484,38.5 486.1,38.9 488.1,39.3 490.1,39.8 492.1,40.6 494.2,42 496.2,40.6 498.2,39.2 500.3,39.2 502.3,38.5 504.3,39.1 506.3,39.7 508.4,39.5 510.4,39.8 512.4,39.3 514.5,39.8 516.5,37.6 518.5,38.7 520.6,38.1 522.6,35.5 524.6,123.7 526.6,122.4 528.7,121.8 530.7,121.9 532.7,121.1 534.8,125.1 536.8,121.9 538.8,123.6 540.9,121.6 542.9,104.4 544.9,75.5 546.9,84.3 549,70.5 551,95.3 553,62.5 555.1,113.4 557.1,116.8 559.1,118.5 561.1,115.7 563.2,118.8 565.2,117.5 567.2,118.3 569.3,62.5 571.3,45.5 573.3,72.5 575.4,62.5 577.4,115.6 579.4,114.5 581.4,111 583.5,109.4 585.5,101.8 587.5,102.4 589.6,30.5 591.6,96.4 593.6,108.8 595.7,75.5 597.7,109 599.7,105.5 601.7,122.1 603.8,113.1 605.8,110.6 607.8,90.5 609.9,118.1 611.9,100.5 613.9,106.7 615.9,85.5 618,121.6 620,95.5 622,119.9 624.1,121.8 626.1,95.5 628.1,109.7 630.2,97.9 632.2,105.7 634.2,99.9 636.2,97.1 638.3,108 640.3,110.3 642.3,98.6 644.4,55.9 646.4,33 648.4,29.7 650.5,30.7 652.5,112.8 654.5,112.6 656.5,109.4 658.6,110.5 660.6,109.3 662.6,95.5 664.7,104.2 666.7,75.5 668.7,100.6 670.8,70.5 672.8,107.7 674.8,60.5 676.8,109 678.9,95.5 680.9,114.6 682.9,118.9 685,110.3 687,60.5 689,60.5 691,101 693.1,98.1 695.1,65.5 697.1,80.5 699.2,100.5 701.2,116.2 703.2,118.3 705.3,112.6 707.3,105.5 709.3,109.8 711.3,113.3 713.4,117.5 715.4,117.2 717.4,121.3 719.5,115.9 721.5,114 723.5,102.4 725.6,45.5 727.6,42.5 729.6,47.5 731.6,95.8 733.7,117.7 735.7,119.3 737.7,50.5 739.8,113.7 741.8,113.3 743.8,99.4 745.8,95.5 747.9,116.7 749.9,106.8 751.9,100.5 754,111.7 756,106.6 758,95.5 760.1,107.4 762.1,116.7 764.1,119.5 766.1,112.7 768.2,112.6 770.2,112.5 772.2,70.5 774.3,112.6 776.3,111.1 778.3,113.7 780.4,119.7 782.4,117.4 784.4,118 786.4,64.7 788.5,50.5 790.5,65.5 792.5,108.6 794.6,112 796.6,113.6 798.6,113 800.6,116.9 802.7,120 804.7,112.8 806.7,109.2 808.8,107.8 810.8,103.6 812.8,99.2 814.9,33.2 816.9,32.3 818.9,31.5 820.9,31.8 823,32.1 825,32.4 827,32.4 829.1,32.1 831.1,31.9 833.1,31.6 835.2,31.6 837.2,31.8 839.2,32 841.2,32.2 843.3,32.3 845.3,32.5 845.3,40 843.3,39.8 841.2,39.6 839.2,39.4 837.2,39.1 835.2,39.4 833.1,40.2 831.1,41.1 829.1,42 827,41.2 825,40.4 823,40.6 820.9,41.9 818.9,42.1 816.9,41.5 814.9,40.8 812.8,109.3 810.8,112.3 808.8,116.9 806.7,117 804.7,117.8 802.7,120 800.6,119.3 798.6,121.8 796.6,123 794.6,115.2 792.5,115.3 790.5,80.5 788.5,60.9 786.4,64.7 784.4,120.2 782.4,122.2 780.4,122.8 778.3,122.9 776.3,123.4 774.3,125.7 772.2,90.5 770.2,113.5 768.2,112.6 766.1,114.2 764.1,130.9 762.1,131.5 760.1,131.8 758,120.5 756,129.9 754,130.6 751.9,122.5 749.9,132.4 747.9,134.7 745.8,120.5 743.8,135.2 741.8,131 739.8,132.1 737.7,59.6 735.7,135.5 733.7,136.2 731.6,138 729.6,62.5 727.6,57.3 725.6,58.6 723.5,140.6 721.5,140.1 719.5,138.4 717.4,138.6 715.4,136.3 713.4,136.2 711.3,135.1 709.3,129.9 707.3,122.5 705.3,129.9 703.2,127.3 701.2,128.4 699.2,118.5 697.1,90.5 695.1,85.5 693.1,98.1 691,132.4 689,70.5 687,70.8 685,129.5 682.9,128.8 680.9,130 678.9,115.5 676.8,127.6 674.8,85.5 672.8,126.2 670.8,90.5 668.7,119.1 666.7,85.5 664.7,128.7 662.6,115.5 660.6,126.5 658.6,125.6 656.5,125.8 654.5,126.5 652.5,127.5 650.5,56.1 648.4,93.6 646.4,55.1 644.4,55.9 642.3,116.6 640.3,137.3 638.3,137.3 636.2,125.5 634.2,144.6 632.2,147.6 630.2,152.9 628.1,155 626.1,125.5 624.1,151.2 622,151 620,125.5 618,146.3 615.9,100.5 613.9,138.2 611.9,112.5 609.9,129.3 607.8,105.5 605.8,140.2 603.8,141.7 601.7,142.1 599.7,138.6 597.7,139.6 595.7,90.5 593.6,138.4 591.6,131.1 589.6,88.5 587.5,137.6 585.5,140.2 583.5,142.7 581.4,146.5 579.4,147 577.4,150.2 575.4,78.5 573.3,85.5 571.3,70.5 569.3,75.5 567.2,148.7 565.2,146.1 563.2,145.7 561.1,143.9 559.1,143 557.1,148.2 555.1,147.5 553,80.5 551,143.6 549,85.5 546.9,84.3 544.9,88.5 542.9,154.8 540.9,155.9 538.8,158.8 536.8,159.2 534.8,159 532.7,160.5 530.7,161.6 528.7,161.2 526.6,161.4 524.6,162.9 522.6,64.2 520.6,60.9 518.5,66.5 516.5,70.1 514.5,72.7 512.4,70.7 510.4,71.6 508.4,71.7 506.3,72.5 504.3,73.4 502.3,72.5 500.3,71.4 498.2,74.9 496.2,76.3 494.2,77.4 492.1,79.3 490.1,79 488.1,77.2 486.1,75.7 484,75.3 482,73.6 480,75.6 477.9,78.1 475.9,77.4 473.9,76.1 471.8,74.1 469.8,73.3 467.8,64.3 465.8,72.3 463.7,79 461.7,78.8 459.7,80.2 457.6,81.4 455.6,85.2 453.6,82.8 451.5,82.8 449.5,82.5 447.5,83.4 445.5,83.4 443.4,85.2 441.4,84.4 439.4,84.9 437.3,86.6 435.3,87.6 433.3,88.2 431.3,90.3 429.2,91.2 427.2,94.4 425.2,95.1 423.1,97.1 421.1,98.5 419.1,99.3 417,102.4 415,105.6 413,103.7 411,104.5 408.9,107 406.9,105.2 404.9,105.4 402.8,103.4 400.8,101.2 398.8,100.8 396.7,98.4 394.7,96.9 392.7,104.4 390.7,105.9 388.6,107.1 386.6,108.3 384.6,110.1 382.5,110.4 380.5,108.1 378.5,105.7 376.5,103.3 374.4,100.2 372.4,103.1 370.4,106.3 368.3,105.3 366.3,106 364.3,105.4 362.2,103 360.2,99.8 358.2,103.3 356.2,100.3 354.1,98.3 352.1,99.4 350.1,100.8 348,98.8 346,98.8 344,102.1 341.9,92.9 339.9,92 337.9,91.7 335.9,90.7 333.8,92.6 331.8,95.6 329.8,97.5 327.7,99.9 325.7,101.4 323.7,99.5 321.7,96.9 319.6,96.3 317.6,93.3 315.6,91.2 313.5,91.4 311.5,91 309.5,93.1 307.4,95.4 305.4,94.4 303.4,93.6 301.4,96.7 299.3,98.5 297.3,94.4 295.3,93.3 293.2,94.1 291.2,96.4 289.2,99 287.1,101 285.1,98 283.1,96.8 281.1,96.3 279,89.8 277,86.5 275,84.7 272.9,84.8 270.9,78.3 268.9,75.3 266.9,92.4 264.8,95.8 262.8,101.8 260.8,98.5 258.7,95.7 256.7,96.3 254.7,95.1 252.6,94 250.6,95.3 248.6,95.9 246.6,96.2 244.5,215.7 242.5,212.6 240.5,211.3 238.4,211 236.4,205.2 234.4,210 232.3,213.4 230.3,216 228.3,216.7 226.3,219.9 224.2,218.8 222.2,217.4 220.2,217.4 218.1,216.8 216.1,217.3 214.1,218 212,217.8 210,218.7 208,217.6 206,216.4 203.9,216.2 201.9,216.4 199.9,215.6 197.8,215.7 195.8,217.2 193.8,216.1 191.8,218 189.7,217.9 187.7,217.2 185.7,217.4 183.6,215.9 181.6,216.2 179.6,216.8 177.5,216.9 175.5,217.2 173.5,215.1 171.5,214.2 169.4,212.2 167.4,209.6 165.4,208.2 163.3,207 161.3,203.3 159.3,198.7 157.2,202.4 155.2,205.6 153.2,210.9 151.2,210 149.1,208.1 147.1,208.1 145.1,207.9 143,209.3 141,209.3 139,212.5 137,212.2 134.9,211.1 132.9,210.1 130.9,210.4 128.8,209.1 126.8,209.8 124.8,211.8 122.7,209.2 120.7,208.9 118.7,207.9 116.7,208.7 114.6,207.8 112.6,205.6 110.6,205.9 108.5,204.1 106.5,203.8 104.5,202.9 102.4,203.6 100.4,198.6 98.4,203.4 96.4,206.4 94.3,210.7 92.3,208 90.3,205.1 88.2,207.5 86.2,207.8 84.2,209.2 82.2,208.6 80.1,208.3 78.1,196 76.1,268 74,268.1 72,268.2 70,268.4 67.9,268.5 65.9,268.2 63.9,267.8 61.9,267.5 59.8,267.9 57.8,268.2 55.8,268.5 53.7,268.1 51.7,267.8 49.7,267.6 47.6,268 45.6,268.4 43.6,268.4 41.6,268.3 39.5,268.1 37.5,268Z" fill="#CCFFFF" stroke="#000" stroke-width="1" stroke-linejoin="miter"/>
<path d="M37.5,252.5 39.5,252.2 41.6,251.7 43.6,251.3 45.6,251.2 47.6,251.8 49.7,252.3 51.7,252.9 53.7,252.7 55.8,252.4 57.8,252 59.8,252.4 61.9,252.8 63.9,253.3 65.9,253.1 67.9,252.3 70,251.5 72,251.1 74,250.7 76.1,250.5 78.1,165.8 80.1,165.3 82.2,167.8 84.2,168.9 86.2,167.9 88.2,165.3 90.3,163.8 92.3,163.2 94.3,167.9 96.4,165.3 98.4,163.9 100.4,161.5 102.4,162 104.5,163.5 106.5,165 108.5,165.4 110.6,165.4 112.6,166.5 114.6,166.5 116.7,167.8 118.7,170.9 120.7,170.2 122.7,170.6 124.8,173.2 126.8,172.5 128.8,169.8 130.9,171 132.9,171.4 134.9,172 137,172.4 139,173 141,169.2 143,174.8 145.1,173.7 147.1,173.3 149.1,172.6 151.2,171.9 153.2,171.1 155.2,167.5 157.2,164.3 159.3,170.5 161.3,164.7 163.3,167.6 165.4,171 167.4,171.6 169.4,173.6 171.5,174.2 173.5,177.2 175.5,177.5 177.5,177.1 179.6,177.3 181.6,177.8 183.6,176.9 185.7,176.1 187.7,176.5 189.7,175.1 191.8,175.5 193.8,175.8 195.8,174.2 197.8,174.6 199.9,174.5 201.9,171.3 203.9,170.2 206,173.5 208,175.8 210,180.1 212,179.9 214.1,179.3 216.1,180.3 218.1,179.7 220.2,181.2 222.2,182.2 224.2,182.8 226.3,180.3 228.3,177.9 230.3,174.5 232.3,171.5 234.4,167.5 236.4,165.1 238.4,165.2 240.5,167.3 242.5,168.3 244.5,169.1 246.6,47.1 248.6,47 250.6,42.7 252.6,39.4 254.7,42.5 256.7,43.1 258.7,44.1 260.8,45.8 262.8,47.1 264.8,49.4 266.9,46 268.9,43.3 270.9,43.5 272.9,43.8 275,42.9 277,40.5 279,46.4 281.1,46.9 283.1,47.8 285.1,48.7 287.1,48.9 289.2,48.2 291.2,44.7 293.2,44.6 295.3,45.8 297.3,45.1 299.3,48.2 301.4,46.5 303.4,44.7 305.4,45.2 307.4,43.9 309.5,44.2 311.5,44.1 313.5,45 315.6,46 317.6,46.1 319.6,47.6 321.7,48.3 323.7,49.2 325.7,47.6 327.7,45.8 329.8,44.1 331.8,43.5 333.8,44.1 335.9,43.6 337.9,43.2 339.9,42.6 341.9,43.1 344,43.4 346,45.2 348,45.9 350.1,44.8 352.1,45.7 354.1,43.8 356.2,46.2 358.2,45.9 360.2,47.4 362.2,46.1 364.3,47.3 366.3,47 368.3,46 370.4,46.2 372.4,46.9 374.4,48.5 376.5,48.8 378.5,50 380.5,52.4 382.5,53.1 384.6,52.7 386.6,51.2 388.6,49.5 390.7,47.4 392.7,46.6 394.7,44.1 396.7,42.8 398.8,44.6 400.8,45.3 402.8,48.5 404.9,49.4 406.9,51.3 408.9,50.9 411,51.5 413,50.6 415,51.2 417,49.1 419.1,49.2 421.1,44.2 423.1,42.3 425.2,44.1 427.2,46.1 429.2,45.4 431.3,43 433.3,42.1 435.3,41.4 437.3,39.7 439.4,38.7 441.4,38 443.4,37.4 445.5,38 447.5,36.5 449.5,36.8 451.5,36.2 453.6,37.3 455.6,37.3 457.6,37.2 459.7,36.2 461.7,35.8 463.7,34.6 465.8,34.9 467.8,32.9 469.8,31.8 471.8,33.9 473.9,35.5 475.9,36 477.9,37.7 480,36.8 482,36.5 484,37.4 486.1,36.1 488.1,36.6 490.1,37.2 492.1,38.3 494.2,38.8 496.2,36.5 498.2,35.6 500.3,34.2 502.3,35.1 504.3,36.2 506.3,36.4 508.4,38.1 510.4,37.5 512.4,36.4 514.5,36.1 516.5,36.2 518.5,36 520.6,34.9 522.6,34.2 524.6,98.1 526.6,97.3 528.7,98.4 530.7,98.3 532.7,97.9 534.8,101.1 536.8,102.3 538.8,101.1 540.9,101.9 542.9,92.4 544.9,75.5 546.9,72.4 549,69.4 551,87.1 553,62.5 555.1,105.8 557.1,111.3 559.1,113.4 561.1,110.5 563.2,110 565.2,115.1 567.2,118.3 569.3,62.5 571.3,45.5 573.3,65.5 575.4,62.5 577.4,113.4 579.4,109.3 581.4,107.8 583.5,107.4 585.5,98.7 587.5,95.7 589.6,30.5 591.6,78.8 593.6,93.7 595.7,75.5 597.7,103.5 599.7,97.8 601.7,94.4 603.8,97.7 605.8,103.5 607.8,90.5 609.9,102 611.9,100.5 613.9,106.7 615.9,85.5 618,119.5 620,95.5 622,115.8 624.1,115.8 626.1,95.5 628.1,97.1 630.2,83.9 632.2,91.1 634.2,94.8 636.2,86.8 638.3,103.2 640.3,107.6 642.3,77.7 644.4,55.9 646.4,33 648.4,29.7 650.5,30.7 652.5,103.2 654.5,98.8 656.5,109.4 658.6,101.7 660.6,104.5 662.6,95.5 664.7,96.9 666.7,75.5 668.7,90.9 670.8,70.5 672.8,101.1 674.8,60.5 676.8,106.6 678.9,95.5 680.9,109.2 682.9,106.6 685,102.4 687,60.5 689,60.5 691,90.4 693.1,97.8 695.1,65.5 697.1,80.5 699.2,100.5 701.2,104.7 703.2,113.8 705.3,104.4 707.3,105.5 709.3,107.2 711.3,110 713.4,102.1 715.4,89.3 717.4,96.4 719.5,101.1 721.5,111.3 723.5,102.4 725.6,45.5 727.6,42.5 729.6,47.5 731.6,74.2 733.7,94.7 735.7,102.2 737.7,50.5 739.8,106.7 741.8,103.9 743.8,97 745.8,91.1 747.9,91.8 749.9,92.6 751.9,93.6 754,100.3 756,93 758,95.5 760.1,89.9 762.1,110.1 764.1,101.8 766.1,110.5 768.2,106.9 770.2,108.1 772.2,70.5 774.3,106.8 776.3,108 778.3,113.7 780.4,119.7 782.4,113.3 784.4,103.1 786.4,64.7 788.5,50.5 790.5,65.5 792.5,97.2 794.6,97.5 796.6,111.1 798.6,111.4 800.6,106 802.7,97.9 804.7,71.7 806.7,77.1 808.8,84.7 810.8,75.3 812.8,80.5 814.9,31.7 816.9,31.1 818.9,30.5 820.9,30.6 823,30.8 825,30.9 827,30.9 829.1,30.8 831.1,30.7 833.1,30.6 835.2,30.6 837.2,30.6 839.2,30.7 841.2,30.8 843.3,30.9 845.3,31 845.3,32.5 843.3,32.3 841.2,32.2 839.2,32 837.2,31.8 835.2,31.6 833.1,31.6 831.1,31.9 829.1,32.1 827,32.4 825,32.4 823,32.1 820.9,31.8 818.9,31.5 816.9,32.3 814.9,33.2 812.8,99.2 810.8,103.6 808.8,107.8 806.7,109.2 804.7,112.8 802.7,120 800.6,116.9 798.6,113 796.6,113.6 794.6,112 792.5,108.6 790.5,65.5 788.5,50.5 786.4,64.7 784.4,118 782.4,117.4 780.4,119.7 778.3,113.7 776.3,111.1 774.3,112.6 772.2,70.5 770.2,112.5 768.2,112.6 766.1,112.7 764.1,119.5 762.1,116.7 760.1,107.4 758,95.5 756,106.6 754,111.7 751.9,100.5 749.9,106.8 747.9,116.7 745.8,95.5 743.8,99.4 741.8,113.3 739.8,113.7 737.7,50.5 735.7,119.3 733.7,117.7 731.6,95.8 729.6,47.5 727.6,42.5 725.6,45.5 723.5,102.4 721.5,114 719.5,115.9 717.4,121.3 715.4,117.2 713.4,117.5 711.3,113.3 709.3,109.8 707.3,105.5 705.3,112.6 703.2,118.3 701.2,116.2 699.2,100.5 697.1,80.5 695.1,65.5 693.1,98.1 691,101 689,60.5 687,60.5 685,110.3 682.9,118.9 680.9,114.6 678.9,95.5 676.8,109 674.8,60.5 672.8,107.7 670.8,70.5 668.7,100.6 666.7,75.5 664.7,104.2 662.6,95.5 660.6,109.3 658.6,110.5 656.5,109.4 654.5,112.6 652.5,112.8 650.5,30.7 648.4,29.7 646.4,33 644.4,55.9 642.3,98.6 640.3,110.3 638.3,108 636.2,97.1 634.2,99.9 632.2,105.7 630.2,97.9 628.1,109.7 626.1,95.5 624.1,121.8 622,119.9 620,95.5 618,121.6 615.9,85.5 613.9,106.7 611.9,100.5 609.9,118.1 607.8,90.5 605.8,110.6 603.8,113.1 601.7,122.1 599.7,105.5 597.7,109 595.7,75.5 593.6,108.8 591.6,96.4 589.6,30.5 587.5,102.4 585.5,101.8 583.5,109.4 581.4,111 579.4,114.5 577.4,115.6 575.4,62.5 573.3,72.5 571.3,45.5 569.3,62.5 567.2,118.3 565.2,117.5 563.2,118.8 561.1,115.7 559.1,118.5 557.1,116.8 555.1,113.4 553,62.5 551,95.3 549,70.5 546.9,84.3 544.9,75.5 542.9,104.4 540.9,121.6 538.8,123.6 536.8,121.9 534.8,125.1 532.7,121.1 530.7,121.9 528.7,121.8 526.6,122.4 524.6,123.7 522.6,35.5 520.6,38.1 518.5,38.7 516.5,37.6 514.5,39.8 512.4,39.3 510.4,39.8 508.4,39.5 506.3,39.7 504.3,39.1 502.3,38.5 500.3,39.2 498.2,39.2 496.2,40.6 494.2,42 492.1,40.6 490.1,39.8 488.1,39.3 486.1,38.9 484,38.5 482,37.4 480,39.2 477.9,40 475.9,40.8 473.9,38.7 471.8,37.2 469.8,34.7 467.8,35.9 465.8,37.3 463.7,37.2 461.7,38.9 459.7,39.4 457.6,40.9 455.6,43.2 453.6,41.6 451.5,40.6 449.5,40.9 447.5,40.1 445.5,41.2 443.4,41.5 441.4,41.3 439.4,42.4 437.3,44.1 435.3,44.9 433.3,46.9 431.3,47.9 429.2,50.2 427.2,51.6 425.2,54.2 423.1,48.5 421.1,51.3 419.1,54.3 417,57.6 415,59.4 413,60.7 411,60.1 408.9,60 406.9,58.2 404.9,57.5 402.8,57.3 400.8,53.4 398.8,51.1 396.7,48.4 394.7,50.9 392.7,52.1 390.7,54.3 388.6,56.7 386.6,59.1 384.6,61.7 382.5,63.5 380.5,60.2 378.5,58.2 376.5,56 374.4,55.7 372.4,55.4 370.4,55.6 368.3,54.7 366.3,55.8 364.3,55.5 362.2,54.3 360.2,54 358.2,53.3 356.2,52 354.1,51.9 352.1,51.2 350.1,50.9 348,50.4 346,50.3 344,49.1 341.9,48.9 339.9,48.1 337.9,48.3 335.9,47.9 333.8,49.5 331.8,50.1 329.8,50.4 327.7,52.2 325.7,55.5 323.7,55.9 321.7,56.6 319.6,55.8 317.6,53.7 315.6,53.7 313.5,52.7 311.5,51.8 309.5,49.3 307.4,51.6 305.4,50.7 303.4,50.5 301.4,49.7 299.3,51.7 297.3,52.5 295.3,50.1 293.2,48.4 291.2,51.5 289.2,54.3 287.1,57.5 285.1,55.9 283.1,55.1 281.1,53.1 279,52.1 277,45 275,49.9 272.9,49.1 270.9,48.3 268.9,48.7 266.9,51.9 264.8,54.6 262.8,52.8 260.8,51.7 258.7,49.9 256.7,47.4 254.7,46.2 252.6,44.3 250.6,48.1 248.6,52 246.6,52.3 244.5,173.6 242.5,168.3 240.5,168.4 238.4,167.1 236.4,166 234.4,170.7 232.3,176 230.3,181.3 228.3,183.1 226.3,184.4 224.2,188.2 222.2,186.4 220.2,184.8 218.1,184.1 216.1,183 214.1,182.6 212,183.8 210,185.5 208,182.1 206,177.7 203.9,175.3 201.9,178 199.9,180.4 197.8,180.4 195.8,182.2 193.8,181.3 191.8,183.2 189.7,184 187.7,183 185.7,182.7 183.6,181.7 181.6,181.4 179.6,182.7 177.5,183.6 175.5,181.7 173.5,182.2 171.5,180.8 169.4,180 167.4,177.4 165.4,175.3 163.3,172.9 161.3,169.4 159.3,175.8 157.2,169.6 155.2,173.5 153.2,176.2 151.2,178.4 149.1,178 147.1,178.7 145.1,179.5 143,178.1 141,176.9 139,177.9 137,179.4 134.9,177.5 132.9,175 130.9,175.9 128.8,174.7 126.8,176.4 124.8,177.6 122.7,175.4 120.7,174 118.7,172.7 116.7,171.4 114.6,170.7 112.6,169.3 110.6,169.7 108.5,169.4 106.5,169.6 104.5,165.3 102.4,164.1 100.4,163.1 98.4,167.6 96.4,169.2 94.3,172.7 92.3,166.9 90.3,169.2 88.2,170.6 86.2,172.6 84.2,173.5 82.2,173.9 80.1,174.1 78.1,169.8 76.1,253.5 74,253.7 72,254.1 70,254.5 67.9,255.1 65.9,255.7 63.9,255.8 61.9,255.3 59.8,254.9 57.8,254.5 55.8,254.9 53.7,255.2 51.7,255.4 49.7,254.8 47.6,254.3 45.6,253.7 43.6,253.8 41.6,254.2 39.5,254.7 37.5,255Z" fill="#660066" stroke="#000" stroke-width="1" stroke-linejoin="miter"/>
<path d="M37.5,249 39.5,248.7 41.6,248.2 43.6,247.8 45.6,247.7 47.6,248.3 49.7,248.8 51.7,249.4 53.7,249.2 55.8,248.9 57.8,248.5 59.8,248.9 61.9,249.3 63.9,249.8 65.9,249.7 67.9,249.1 70,248.5 72,248.1 74,247.7 76.1,247.5 78.1,162 80.1,162.9 82.2,163.6 84.2,165.1 86.2,164.2 88.2,162.3 90.3,161.4 92.3,159.1 94.3,163.4 96.4,161.7 98.4,159.2 100.4,156.6 102.4,157.1 104.5,159.2 106.5,159.6 108.5,160.2 110.6,162.3 112.6,161.5 114.6,163.4 116.7,165.4 118.7,165.7 120.7,165.9 122.7,166 124.8,167.1 126.8,167.2 128.8,167.6 130.9,166.7 132.9,168.1 134.9,167.3 137,167.5 139,168.5 141,164.5 143,168.2 145.1,167 147.1,167 149.1,165.9 151.2,164.3 153.2,163.3 155.2,162.3 157.2,161.9 159.3,164.9 161.3,162.5 163.3,163.3 165.4,166.3 167.4,166.2 169.4,168.6 171.5,169.6 173.5,170.3 175.5,170.3 177.5,170.5 179.6,170.6 181.6,169.5 183.6,169.6 185.7,169.5 187.7,168.2 189.7,168.7 191.8,169.7 193.8,169.3 195.8,168.4 197.8,169.2 199.9,168.5 201.9,166 203.9,164.8 206,167.9 208,169.6 210,172.9 212,172.2 214.1,171.7 216.1,171.5 218.1,172.1 220.2,172.9 222.2,174.7 224.2,175.5 226.3,173.4 228.3,172.2 230.3,170.3 232.3,165.5 234.4,162.3 236.4,159.2 238.4,161.2 240.5,162.8 242.5,163.9 244.5,164.3 246.6,40.1 248.6,40.3 250.6,38.1 252.6,35.9 254.7,35.9 256.7,37.7 258.7,39.3 260.8,40.5 262.8,41.9 264.8,43 266.9,40.5 268.9,38.5 270.9,38.7 272.9,37.6 275,38.4 277,34.8 279,41.6 281.1,42 283.1,42.3 285.1,43.3 287.1,43.5 289.2,41.4 291.2,39.7 293.2,37.1 295.3,39.4 297.3,40.6 299.3,41.5 301.4,39.1 303.4,38.9 305.4,38.7 307.4,37.5 309.5,37.1 311.5,38.2 313.5,39.1 315.6,40.2 317.6,41.6 319.6,41.1 321.7,43.5 323.7,43.2 325.7,41.9 327.7,41.2 329.8,39.1 331.8,38.8 333.8,39 335.9,37.7 337.9,38.2 339.9,37.8 341.9,38.2 344,37.8 346,40.7 348,40.3 350.1,40.9 352.1,39.5 354.1,38.9 356.2,41.5 358.2,40.1 360.2,42.2 362.2,41.2 364.3,41 366.3,40.7 368.3,41 370.4,40.2 372.4,41.7 374.4,40.2 376.5,41.2 378.5,43.8 380.5,46.2 382.5,48.1 384.6,45.8 386.6,44.7 388.6,43.7 390.7,42.2 392.7,40.4 394.7,40.3 396.7,38.4 398.8,38.5 400.8,41.1 402.8,42.7 404.9,43 406.9,43.5 408.9,45.8 411,46 413,45 415,43.5 417,42.1 419.1,41.4 421.1,38.4 423.1,36.8 425.2,39.5 427.2,41.3 429.2,40.1 431.3,38.6 433.3,36.5 435.3,35.9 437.3,35.8 439.4,34.9 441.4,34.5 443.4,34.1 445.5,33.7 447.5,33.3 449.5,33.6 451.5,34.3 453.6,34.9 455.6,33.9 457.6,35.2 459.7,33.6 461.7,33.3 463.7,32.2 465.8,32.2 467.8,30.6 469.8,30.8 471.8,31.4 473.9,31.3 475.9,32.8 477.9,34.2 480,33.5 482,33.6 484,34.4 486.1,33.7 488.1,33.8 490.1,36.3 492.1,35.5 494.2,34.9 496.2,33.6 498.2,33.6 500.3,32 502.3,33.6 504.3,33.8 506.3,34.5 508.4,35.5 510.4,35.9 512.4,34.1 514.5,34.4 516.5,34.2 518.5,34.5 520.6,33.1 522.6,33.7 524.6,83.2 526.6,81.6 528.7,81 530.7,81.4 532.7,83.7 534.8,83 536.8,84.6 538.8,84.8 540.9,85.8 542.9,92.4 544.9,73 546.9,69.1 549,68.8 551,79 553,62.5 555.1,105.8 557.1,107.4 559.1,113.4 561.1,110.4 563.2,110 565.2,115.1 567.2,113.3 569.3,62.5 571.3,45.5 573.3,54.7 575.4,62.5 577.4,113.4 579.4,109.3 581.4,103.3 583.5,106.8 585.5,93.9 587.5,92.5 589.6,30.5 591.6,78.8 593.6,81.6 595.7,73 597.7,74.9 599.7,82 601.7,93.8 603.8,97.7 605.8,95.1 607.8,90.5 609.9,102 611.9,98.1 613.9,103.1 615.9,85.5 618,119.5 620,95.5 622,112.2 624.1,114.2 626.1,95.5 628.1,72.6 630.2,46.3 632.2,78.9 634.2,84.6 636.2,82.4 638.3,95.7 640.3,104.8 642.3,77.7 644.4,49.3 646.4,33 648.4,29.7 650.5,30.7 652.5,102.8 654.5,98.8 656.5,104 658.6,101.7 660.6,104.3 662.6,92.3 664.7,90.6 666.7,75.5 668.7,90.9 670.8,70.5 672.8,89.8 674.8,60.5 676.8,94.6 678.9,95.5 680.9,108.9 682.9,106.6 685,102.4 687,60.5 689,60.5 691,87.1 693.1,94.5 695.1,65.5 697.1,80.5 699.2,84.1 701.2,84.4 703.2,97.7 705.3,86.9 707.3,105.5 709.3,80.4 711.3,66.9 713.4,66.7 715.4,83.8 717.4,96.4 719.5,89.9 721.5,100.6 723.5,80.4 725.6,44.6 727.6,42.5 729.6,47.5 731.6,49.9 733.7,62.3 735.7,91.7 737.7,50.5 739.8,91.5 741.8,98.9 743.8,83.6 745.8,91.1 747.9,76.3 749.9,71 751.9,77.7 754,100.3 756,90.7 758,87.8 760.1,75.2 762.1,76.4 764.1,80.2 766.1,98.5 768.2,106.9 770.2,89.2 772.2,70.5 774.3,101 776.3,105.6 778.3,111.3 780.4,102.9 782.4,98.2 784.4,100.2 786.4,64.7 788.5,50.5 790.5,65.5 792.5,77.5 794.6,75.6 796.6,90.6 798.6,76.4 800.6,67.5 802.7,41.2 804.7,53.8 806.7,45.2 808.8,45.6 810.8,46.3 812.8,52.7 814.9,30.2 816.9,29.6 818.9,29 820.9,29.3 823,29.6 825,29.9 827,29.9 829.1,29.8 831.1,29.7 833.1,29.6 835.2,29.5 837.2,29.5 839.2,29.5 841.2,29.5 843.3,29.5 845.3,29.5 845.3,31 843.3,30.9 841.2,30.8 839.2,30.7 837.2,30.6 835.2,30.6 833.1,30.6 831.1,30.7 829.1,30.8 827,30.9 825,30.9 823,30.8 820.9,30.6 818.9,30.5 816.9,31.1 814.9,31.7 812.8,80.5 810.8,75.3 808.8,84.7 806.7,77.1 804.7,71.7 802.7,97.9 800.6,106 798.6,111.4 796.6,111.1 794.6,97.5 792.5,97.2 790.5,65.5 788.5,50.5 786.4,64.7 784.4,103.1 782.4,113.3 780.4,119.7 778.3,113.7 776.3,108 774.3,106.8 772.2,70.5 770.2,108.1 768.2,106.9 766.1,110.5 764.1,101.8 762.1,110.1 760.1,89.9 758,95.5 756,93 754,100.3 751.9,93.6 749.9,92.6 747.9,91.8 745.8,91.1 743.8,97 741.8,103.9 739.8,106.7 737.7,50.5 735.7,102.2 733.7,94.7 731.6,74.2 729.6,47.5 727.6,42.5 725.6,45.5 723.5,102.4 721.5,111.3 719.5,101.1 717.4,96.4 715.4,89.3 713.4,102.1 711.3,110 709.3,107.2 707.3,105.5 705.3,104.4 703.2,113.8 701.2,104.7 699.2,100.5 697.1,80.5 695.1,65.5 693.1,97.8 691,90.4 689,60.5 687,60.5 685,102.4 682.9,106.6 680.9,109.2 678.9,95.5 676.8,106.6 674.8,60.5 672.8,101.1 670.8,70.5 668.7,90.9 666.7,75.5 664.7,96.9 662.6,95.5 660.6,104.5 658.6,101.7 656.5,109.4 654.5,98.8 652.5,103.2 650.5,30.7 648.4,29.7 646.4,33 644.4,55.9 642.3,77.7 640.3,107.6 638.3,103.2 636.2,86.8 634.2,94.8 632.2,91.1 630.2,83.9 628.1,97.1 626.1,95.5 624.1,115.8 622,115.8 620,95.5 618,119.5 615.9,85.5 613.9,106.7 611.9,100.5 609.9,102 607.8,90.5 605.8,103.5 603.8,97.7 601.7,94.4 599.7,97.8 597.7,103.5 595.7,75.5 593.6,93.7 591.6,78.8 589.6,30.5 587.5,95.7 585.5,98.7 583.5,107.4 581.4,107.8 579.4,109.3 577.4,113.4 575.4,62.5 573.3,65.5 571.3,45.5 569.3,62.5 567.2,118.3 565.2,115.1 563.2,110 561.1,110.5 559.1,113.4 557.1,111.3 555.1,105.8 553,62.5 551,87.1 549,69.4 546.9,72.4 544.9,75.5 542.9,92.4 540.9,101.9 538.8,101.1 536.8,102.3 534.8,101.1 532.7,97.9 530.7,98.3 528.7,98.4 526.6,97.3 524.6,98.1 522.6,34.2 520.6,34.9 518.5,36 516.5,36.2 514.5,36.1 512.4,36.4 510.4,37.5 508.4,38.1 506.3,36.4 504.3,36.2 502.3,35.1 500.3,34.2 498.2,35.6 496.2,36.5 494.2,38.8 492.1,38.3 490.1,37.2 488.1,36.6 486.1,36.1 484,37.4 482,36.5 480,36.8 477.9,37.7 475.9,36 473.9,35.5 471.8,33.9 469.8,31.8 467.8,32.9 465.8,34.9 463.7,34.6 461.7,35.8 459.7,36.2 457.6,37.2 455.6,37.3 453.6,37.3 451.5,36.2 449.5,36.8 447.5,36.5 445.5,38 443.4,37.4 441.4,38 439.4,38.7 437.3,39.7 435.3,41.4 433.3,42.1 431.3,43 429.2,45.4 427.2,46.1 425.2,44.1 423.1,42.3 421.1,44.2 419.1,49.2 417,49.1 415,51.2 413,50.6 411,51.5 408.9,50.9 406.9,51.3 404.9,49.4 402.8,48.5 400.8,45.3 398.8,44.6 396.7,42.8 394.7,44.1 392.7,46.6 390.7,47.4 388.6,49.5 386.6,51.2 384.6,52.7 382.5,53.1 380.5,52.4 378.5,50 376.5,48.8 374.4,48.5 372.4,46.9 370.4,46.2 368.3,46 366.3,47 364.3,47.3 362.2,46.1 360.2,47.4 358.2,45.9 356.2,46.2 354.1,43.8 352.1,45.7 350.1,44.8 348,45.9 346,45.2 344,43.4 341.9,43.1 339.9,42.6 337.9,43.2 335.9,43.6 333.8,44.1 331.8,43.5 329.8,44.1 327.7,45.8 325.7,47.6 323.7,49.2 321.7,48.3 319.6,47.6 317.6,46.1 315.6,46 313.5,45 311.5,44.1 309.5,44.2 307.4,43.9 305.4,45.2 303.4,44.7 301.4,46.5 299.3,48.2 297.3,45.1 295.3,45.8 293.2,44.6 291.2,44.7 289.2,48.2 287.1,48.9 285.1,48.7 283.1,47.8 281.1,46.9 279,46.4 277,40.5 275,42.9 272.9,43.8 270.9,43.5 268.9,43.3 266.9,46 264.8,49.4 262.8,47.1 260.8,45.8 258.7,44.1 256.7,43.1 254.7,42.5 252.6,39.4 250.6,42.7 248.6,47 246.6,47.1 244.5,169.1 242.5,168.3 240.5,167.3 238.4,165.2 236.4,165.1 234.4,167.5 232.3,171.5 230.3,174.5 228.3,177.9 226.3,180.3 224.2,182.8 222.2,182.2 220.2,181.2 218.1,179.7 216.1,180.3 214.1,179.3 212,179.9 210,180.1 208,175.8 206,173.5 203.9,170.2 201.9,171.3 199.9,174.5 197.8,174.6 195.8,174.2 193.8,175.8 191.8,175.5 189.7,175.1 187.7,176.5 185.7,176.1 183.6,176.9 181.6,177.8 179.6,177.3 177.5,177.1 175.5,177.5 173.5,177.2 171.5,174.2 169.4,173.6 167.4,171.6 165.4,171 163.3,167.6 161.3,164.7 159.3,170.5 157.2,164.3 155.2,167.5 153.2,171.1 151.2,171.9 149.1,172.6 147.1,173.3 145.1,173.7 143,174.8 141,169.2 139,173 137,172.4 134.9,172 132.9,171.4 130.9,171 128.8,169.8 126.8,172.5 124.8,173.2 122.7,170.6 120.7,170.2 118.7,170.9 116.7,167.8 114.6,166.5 112.6,166.5 110.6,165.4 108.5,165.4 106.5,165 104.5,163.5 102.4,162 100.4,161.5 98.4,163.9 96.4,165.3 94.3,167.9 92.3,163.2 90.3,163.8 88.2,165.3 86.2,167.9 84.2,168.9 82.2,167.8 80.1,165.3 78.1,165.8 76.1,250.5 74,250.7 72,251.1 70,251.5 67.9,252.3 65.9,253.1 63.9,253.3 61.9,252.8 59.8,252.4 57.8,252 55.8,252.4 53.7,252.7 51.7,252.9 49.7,252.3 47.6,251.8 45.6,251.2 43.6,251.3 41.6,251.7 39.5,252.2 37.5,252.5Z" fill="#FF8080" stroke="#000" stroke-width="1" stroke-linejoin="miter"/>
<path d="M37.5,244.5 39.5,244.3 41.6,244 43.6,243.7 45.6,243.7 47.6,244.3 49.7,244.8 51.7,245.4 53.7,245.2 55.8,244.9 57.8,244.5 59.8,244.8 61.9,245.1 63.9,245.3 65.9,245.3 67.9,244.9 70,244.5 72,244.1 74,243.7 76.1,243.5 78.1,159.5 80.1,158.4 82.2,159.4 84.2,159.5 86.2,158 88.2,157.4 90.3,156.2 92.3,156.2 94.3,157.1 96.4,156.8 98.4,156 100.4,154.7 102.4,154.9 104.5,155.5 106.5,155.7 108.5,155.6 110.6,155.7 112.6,157.1 114.6,159.2 116.7,159.1 118.7,160.6 120.7,160.9 122.7,162.2 124.8,161.5 126.8,160.5 128.8,163.1 130.9,162.3 132.9,162.4 134.9,162.3 137,160.3 139,158.9 141,158.3 143,162.8 145.1,161.6 147.1,162.2 149.1,160 151.2,159.1 153.2,157.7 155.2,158.6 157.2,157.5 159.3,160.3 161.3,158 163.3,155.5 165.4,160.3 167.4,161.3 169.4,162.9 171.5,162.8 173.5,164.2 175.5,163.5 177.5,162.8 179.6,163 181.6,163.6 183.6,162.5 185.7,163.3 187.7,162.2 189.7,162.2 191.8,162 193.8,161.9 195.8,162.2 197.8,161 199.9,161.1 201.9,159.2 203.9,158.2 206,160.3 208,163.2 210,165.7 212,165.6 214.1,163.2 216.1,164.6 218.1,163.9 220.2,164.1 222.2,165.8 224.2,167.1 226.3,165.8 228.3,164.1 230.3,162.6 232.3,161 234.4,157.2 236.4,154 238.4,155.1 240.5,155.8 242.5,157.6 244.5,160.4 246.6,35.7 248.6,35.5 250.6,31.7 252.6,30.3 254.7,33 256.7,33 258.7,34.4 260.8,35.6 262.8,36.2 264.8,36.7 266.9,35 268.9,32.2 270.9,33.7 272.9,31.7 275,33.2 277,29.5 279,35.1 281.1,35.8 283.1,37.2 285.1,37.5 287.1,37 289.2,35.4 291.2,33.2 293.2,32.5 295.3,33.7 297.3,35.1 299.3,35.7 301.4,33.8 303.4,32.7 305.4,33.5 307.4,32.9 309.5,33 311.5,33.5 313.5,34.7 315.6,34.9 317.6,35.6 319.6,36.1 321.7,37.2 323.7,37.1 325.7,36 327.7,34.8 329.8,33.9 331.8,33.1 333.8,33.8 335.9,32.8 337.9,32.8 339.9,32.1 341.9,32.9 344,34.4 346,33.4 348,35.1 350.1,33.9 352.1,34.5 354.1,33.8 356.2,34.6 358.2,35 360.2,34.8 362.2,35.8 364.3,34.8 366.3,34.2 368.3,34.6 370.4,34.1 372.4,35.3 374.4,35.6 376.5,35.6 378.5,37.8 380.5,39.3 382.5,40.2 384.6,39.5 386.6,38.1 388.6,36.9 390.7,35 392.7,34.3 394.7,32.4 396.7,30.7 398.8,32.6 400.8,34 402.8,35.3 404.9,36.9 406.9,37.3 408.9,37.6 411,37.8 413,37 415,35.6 417,36.7 419.1,34.4 421.1,34 423.1,33.4 425.2,34.4 427.2,36.3 429.2,35.8 431.3,33.5 433.3,33.1 435.3,32.9 437.3,33.2 439.4,32.5 441.4,31.3 443.4,31.5 445.5,30.5 447.5,31.3 449.5,29.7 451.5,30.7 453.6,31.6 455.6,31.4 457.6,31.6 459.7,32 461.7,30.1 463.7,29.5 465.8,28.8 467.8,28.4 469.8,28 471.8,30.1 473.9,29.5 475.9,31.2 477.9,31.4 480,32.2 482,31.2 484,32 486.1,31.3 488.1,31.1 490.1,31.5 492.1,31.9 494.2,32.8 496.2,31.2 498.2,30.3 500.3,29.7 502.3,30.8 504.3,30.9 506.3,32.1 508.4,32.4 510.4,33 512.4,31.7 514.5,32.1 516.5,32.4 518.5,31.2 520.6,32.1 522.6,31.3 524.6,62.8 526.6,61.5 528.7,62.8 530.7,62.9 532.7,63 534.8,62.1 536.8,61.4 538.8,64.8 540.9,64.9 542.9,79.6 544.9,73 546.9,69.1 549,66.9 551,79 553,62.5 555.1,91.4 557.1,87.9 559.1,113.4 561.1,102.2 563.2,103.1 565.2,115.1 567.2,112 569.3,62.5 571.3,45.5 573.3,54.7 575.4,60 577.4,113.4 579.4,95.5 581.4,103.3 583.5,102.8 585.5,93.9 587.5,92.5 589.6,30.5 591.6,78.8 593.6,75.3 595.7,73 597.7,60.4 599.7,58.9 601.7,87.9 603.8,74.3 605.8,95.1 607.8,88 609.9,93.5 611.9,98 613.9,77.4 615.9,67 618,119.5 620,94.8 622,112.2 624.1,114.2 626.1,71.2 628.1,59.3 630.2,46.3 632.2,78.6 634.2,84.6 636.2,82.2 638.3,86.8 640.3,104.8 642.3,77.7 644.4,49.3 646.4,33 648.4,29.7 650.5,30.7 652.5,102.8 654.5,93.8 656.5,104 658.6,101.7 660.6,102.8 662.6,92.3 664.7,89.7 666.7,75.5 668.7,90.9 670.8,68 672.8,79.7 674.8,60.5 676.8,79.5 678.9,95.5 680.9,100.9 682.9,106.6 685,82.1 687,60.5 689,60.5 691,70.6 693.1,92.6 695.1,65.5 697.1,72.2 699.2,47.5 701.2,45.2 703.2,33.5 705.3,38.6 707.3,43.5 709.3,80.4 711.3,47.8 713.4,34.9 715.4,46.8 717.4,29.3 719.5,89.9 721.5,38.5 723.5,34.2 725.6,44.6 727.6,42.5 729.6,47.5 731.6,40.7 733.7,62.3 735.7,31 737.7,43.7 739.8,91.5 741.8,38.5 743.8,31.3 745.8,37.7 747.9,43.7 749.9,40.5 751.9,77.7 754,100.3 756,32.3 758,87.8 760.1,37.2 762.1,37.6 764.1,49 766.1,38.5 768.2,39.1 770.2,33 772.2,46.2 774.3,87.9 776.3,105.6 778.3,103.3 780.4,102.9 782.4,98.2 784.4,83.6 786.4,64.7 788.5,50.5 790.5,50.8 792.5,44 794.6,42 796.6,90.6 798.6,76.4 800.6,54.6 802.7,29.4 804.7,44 806.7,45.2 808.8,32.6 810.8,45.3 812.8,35.1 814.9,28.3 816.9,27.9 818.9,27.5 820.9,27.8 823,28.1 825,28.4 827,28.4 829.1,28.1 831.1,27.9 833.1,27.6 835.2,27.6 837.2,27.6 839.2,27.7 841.2,27.8 843.3,27.9 845.3,28 845.3,29.5 843.3,29.5 841.2,29.5 839.2,29.5 837.2,29.5 835.2,29.5 833.1,29.6 831.1,29.7 829.1,29.8 827,29.9 825,29.9 823,29.6 820.9,29.3 818.9,29 816.9,29.6 814.9,30.2 812.8,52.7 810.8,46.3 808.8,45.6 806.7,45.2 804.7,53.8 802.7,41.2 800.6,67.5 798.6,76.4 796.6,90.6 794.6,75.6 792.5,77.5 790.5,65.5 788.5,50.5 786.4,64.7 784.4,100.2 782.4,98.2 780.4,102.9 778.3,111.3 776.3,105.6 774.3,101 772.2,70.5 770.2,89.2 768.2,106.9 766.1,98.5 764.1,80.2 762.1,76.4 760.1,75.2 758,87.8 756,90.7 754,100.3 751.9,77.7 749.9,71 747.9,76.3 745.8,91.1 743.8,83.6 741.8,98.9 739.8,91.5 737.7,50.5 735.7,91.7 733.7,62.3 731.6,49.9 729.6,47.5 727.6,42.5 725.6,44.6 723.5,80.4 721.5,100.6 719.5,89.9 717.4,96.4 715.4,83.8 713.4,66.7 711.3,66.9 709.3,80.4 707.3,105.5 705.3,86.9 703.2,97.7 701.2,84.4 699.2,84.1 697.1,80.5 695.1,65.5 693.1,94.5 691,87.1 689,60.5 687,60.5 685,102.4 682.9,106.6 680.9,108.9 678.9,95.5 676.8,94.6 674.8,60.5 672.8,89.8 670.8,70.5 668.7,90.9 666.7,75.5 664.7,90.6 662.6,92.3 660.6,104.3 658.6,101.7 656.5,104 654.5,98.8 652.5,102.8 650.5,30.7 648.4,29.7 646.4,33 644.4,49.3 642.3,77.7 640.3,104.8 638.3,95.7 636.2,82.4 634.2,84.6 632.2,78.9 630.2,46.3 628.1,72.6 626.1,95.5 624.1,114.2 622,112.2 620,95.5 618,119.5 615.9,85.5 613.9,103.1 611.9,98.1 609.9,102 607.8,90.5 605.8,95.1 603.8,97.7 601.7,93.8 599.7,82 597.7,74.9 595.7,73 593.6,81.6 591.6,78.8 589.6,30.5 587.5,92.5 585.5,93.9 583.5,106.8 581.4,103.3 579.4,109.3 577.4,113.4 575.4,62.5 573.3,54.7 571.3,45.5 569.3,62.5 567.2,113.3 565.2,115.1 563.2,110 561.1,110.4 559.1,113.4 557.1,107.4 555.1,105.8 553,62.5 551,79 549,68.8 546.9,69.1 544.9,73 542.9,92.4 540.9,85.8 538.8,84.8 536.8,84.6 534.8,83 532.7,83.7 530.7,81.4 528.7,81 526.6,81.6 524.6,83.2 522.6,33.7 520.6,33.1 518.5,34.5 516.5,34.2 514.5,34.4 512.4,34.1 510.4,35.9 508.4,35.5 506.3,34.5 504.3,33.8 502.3,33.6 500.3,32 498.2,33.6 496.2,33.6 494.2,34.9 492.1,35.5 490.1,36.3 488.1,33.8 486.1,33.7 484,34.4 482,33.6 480,33.5 477.9,34.2 475.9,32.8 473.9,31.3 471.8,31.4 469.8,30.8 467.8,30.6 465.8,32.2 463.7,32.2 461.7,33.3 459.7,33.6 457.6,35.2 455.6,33.9 453.6,34.9 451.5,34.3 449.5,33.6 447.5,33.3 445.5,33.7 443.4,34.1 441.4,34.5 439.4,34.9 437.3,35.8 435.3,35.9 433.3,36.5 431.3,38.6 429.2,40.1 427.2,41.3 425.2,39.5 423.1,36.8 421.1,38.4 419.1,41.4 417,42.1 415,43.5 413,45 411,46 408.9,45.8 406.9,43.5 404.9,43 402.8,42.7 400.8,41.1 398.8,38.5 396.7,38.4 394.7,40.3 392.7,40.4 390.7,42.2 388.6,43.7 386.6,44.7 384.6,45.8 382.5,48.1 380.5,46.2 378.5,43.8 376.5,41.2 374.4,40.2 372.4,41.7 370.4,40.2 368.3,41 366.3,40.7 364.3,41 362.2,41.2 360.2,42.2 358.2,40.1 356.2,41.5 354.1,38.9 352.1,39.5 350.1,40.9 348,40.3 346,40.7 344,37.8 341.9,38.2 339.9,37.8 337.9,38.2 335.9,37.7 333.8,39 331.8,38.8 329.8,39.1 327.7,41.2 325.7,41.9 323.7,43.2 321.7,43.5 319.6,41.1 317.6,41.6 315.6,40.2 313.5,39.1 311.5,38.2 309.5,37.1 307.4,37.5 305.4,38.7 303.4,38.9 301.4,39.1 299.3,41.5 297.3,40.6 295.3,39.4 293.2,37.1 291.2,39.7 289.2,41.4 287.1,43.5 285.1,43.3 283.1,42.3 281.1,42 279,41.6 277,34.8 275,38.4 272.9,37.6 270.9,38.7 268.9,38.5 266.9,40.5 264.8,43 262.8,41.9 260.8,40.5 258.7,39.3 256.7,37.7 254.7,35.9 252.6,35.9 250.6,38.1 248.6,40.3 246.6,40.1 244.5,164.3 242.5,163.9 240.5,162.8 238.4,161.2 236.4,159.2 234.4,162.3 232.3,165.5 230.3,170.3 228.3,172.2 226.3,173.4 224.2,175.5 222.2,174.7 220.2,172.9 218.1,172.1 216.1,171.5 214.1,171.7 212,172.2 210,172.9 208,169.6 206,167.9 203.9,164.8 201.9,166 199.9,168.5 197.8,169.2 195.8,168.4 193.8,169.3 191.8,169.7 189.7,168.7 187.7,168.2 185.7,169.5 183.6,169.6 181.6,169.5 179.6,170.6 177.5,170.5 175.5,170.3 173.5,170.3 171.5,169.6 169.4,168.6 167.4,166.2 165.4,166.3 163.3,163.3 161.3,162.5 159.3,164.9 157.2,161.9 155.2,162.3 153.2,163.3 151.2,164.3 149.1,165.9 147.1,167 145.1,167 143,168.2 141,164.5 139,168.5 137,167.5 134.9,167.3 132.9,168.1 130.9,166.7 128.8,167.6 126.8,167.2 124.8,167.1 122.7,166 120.7,165.9 118.7,165.7 116.7,165.4 114.6,163.4 112.6,161.5 110.6,162.3 108.5,160.2 106.5,159.6 104.5,159.2 102.4,157.1 100.4,156.6 98.4,159.2 96.4,161.7 94.3,163.4 92.3,159.1 90.3,161.4 88.2,162.3 86.2,164.2 84.2,165.1 82.2,163.6 80.1,162.9 78.1,162 76.1,247.5 74,247.7 72,248.1 70,248.5 67.9,249.1 65.9,249.7 63.9,249.8 61.9,249.3 59.8,248.9 57.8,248.5 55.8,248.9 53.7,249.2 51.7,249.4 49.7,248.8 47.6,248.3 45.6,247.7 43.6,247.8 41.6,248.2 39.5,248.7 37.5,249Z" fill="#0066CC" stroke="#000" stroke-width="1" stroke-linejoin="miter"/>
<path d="M37.5,239.5 39.5,239.4 41.6,239.2 43.6,239.1 45.6,239.1 47.6,239.4 49.7,239.7 51.7,240 53.7,239.9 55.8,239.7 57.8,239.5 59.8,239.6 61.9,239.8 63.9,239.9 65.9,239.9 67.9,239.7 70,239.5 72,239.3 74,239.1 76.1,239 78.1,152.2 80.1,153.9 82.2,151.8 84.2,153.1 86.2,150.5 88.2,152.5 90.3,150.7 92.3,152.2 94.3,153.1 96.4,152.4 98.4,152.9 100.4,152.1 102.4,151.3 104.5,151.5 106.5,151.6 108.5,151.3 110.6,152.4 112.6,152.9 114.6,152.4 116.7,152.5 118.7,153.5 120.7,153 122.7,153.9 124.8,153.7 126.8,154.4 128.8,154.2 130.9,154.8 132.9,154.2 134.9,153.8 137,153.2 139,152.9 141,153.8 143,154 145.1,153.6 147.1,152.8 149.1,152.4 151.2,153.2 153.2,152.6 155.2,151.4 157.2,153.2 159.3,150.7 161.3,151.1 163.3,150.9 165.4,152.1 167.4,152.1 169.4,152.7 171.5,153.2 173.5,153.9 175.5,153.2 177.5,154.7 179.6,153.6 181.6,153.2 183.6,153.3 185.7,153.1 187.7,153.9 189.7,153.3 191.8,153.3 193.8,152.8 195.8,154 197.8,151.8 199.9,152.5 201.9,152.6 203.9,152.3 206,151.9 208,153 210,153.4 212,153.8 214.1,153.5 216.1,154.4 218.1,153.7 220.2,153.4 222.2,155.7 224.2,155.8 226.3,154.8 228.3,154.2 230.3,153.4 232.3,152.3 234.4,151.4 236.4,151.5 238.4,151.2 240.5,151.4 242.5,153.5 244.5,153.6 246.6,26.6 248.6,25.7 250.6,25.9 252.6,25.2 254.7,26.4 256.7,26.1 258.7,28.5 260.8,27.6 262.8,29.3 264.8,28.8 266.9,28.7 268.9,28.5 270.9,27.8 272.9,28.5 275,27.1 277,26.3 279,29.2 281.1,28 283.1,29.6 285.1,29 287.1,29.4 289.2,28 291.2,27.2 293.2,26.4 295.3,27.2 297.3,29.1 299.3,29.1 301.4,28.7 303.4,27.7 305.4,27.8 307.4,26.5 309.5,26.4 311.5,27.2 313.5,27.6 315.6,29.1 317.6,28.6 319.6,29.2 321.7,29.1 323.7,29.3 325.7,28.3 327.7,29.4 329.8,28.2 331.8,27.8 333.8,27.5 335.9,26.9 337.9,27.3 339.9,26.1 341.9,26.3 344,26.7 346,27.9 348,28 350.1,28.3 352.1,27.2 354.1,26.9 356.2,27.8 358.2,27.8 360.2,28.1 362.2,28.9 364.3,28.7 366.3,29.7 368.3,27.6 370.4,28.6 372.4,27.7 374.4,28 376.5,29 378.5,28.6 380.5,30.7 382.5,30.5 384.6,30.7 386.6,29 388.6,28.6 390.7,29.2 392.7,27.3 394.7,26.8 396.7,26.5 398.8,27.3 400.8,28.2 402.8,28.9 404.9,29.3 406.9,29.4 408.9,29.6 411,30.5 413,29.7 415,30.3 417,28.9 419.1,28.2 421.1,28.2 423.1,27.5 425.2,29.2 427.2,29.6 429.2,29.6 431.3,30.4 433.3,28.1 435.3,28.6 437.3,28.8 439.4,28 441.4,26.9 443.4,27.1 445.5,27.2 447.5,26.4 449.5,28.4 451.5,28.7 453.6,28.4 455.6,28.5 457.6,27.7 459.7,28.5 461.7,27.8 463.7,27.4 465.8,26.9 467.8,26.3 469.8,26.6 471.8,27.5 473.9,27.5 475.9,27.3 477.9,28.8 480,28.6 482,28.4 484,28.7 486.1,29.5 488.1,28.3 490.1,28.6 492.1,28 494.2,28.2 496.2,27.3 498.2,26.6 500.3,25.8 502.3,26 504.3,27.4 506.3,27.4 508.4,28.2 510.4,27.8 512.4,28.3 514.5,28.7 516.5,28.4 518.5,29 520.6,28.9 522.6,29.5 524.6,34.9 526.6,33.1 528.7,33.6 530.7,33.5 532.7,31 534.8,33.9 536.8,33.2 538.8,34.3 540.9,64 542.9,79.6 544.9,73 546.9,69.1 549,32.4 551,53.4 553,26.6 555.1,38 557.1,39 559.1,113.4 561.1,77.6 563.2,67.2 565.2,115.1 567.2,112 569.3,60 571.3,31 573.3,41.4 575.4,57.2 577.4,113.4 579.4,36.9 581.4,23.5 583.5,102.8 585.5,60.7 587.5,38.8 589.6,23.5 591.6,29.9 593.6,34.3 595.7,73 597.7,32.8 599.7,31 601.7,29.3 603.8,64.3 605.8,78.1 607.8,88 609.9,67.9 611.9,98 613.9,30.3 615.9,30.4 618,119.5 620,38.7 622,112.2 624.1,114.2 626.1,30.2 628.1,24.8 630.2,35.8 632.2,32.8 634.2,77.5 636.2,82.2 638.3,76.8 640.3,104.7 642.3,62.2 644.4,38.2 646.4,33 648.4,23.5 650.5,30.2 652.5,29.4 654.5,62.2 656.5,32 658.6,39.8 660.6,60 662.6,26.1 664.7,27.6 666.7,38.8 668.7,90.9 670.8,68 672.8,36.3 674.8,25.3 676.8,56.6 678.9,93 680.9,27.4 682.9,27.7 685,34.9 687,58 689,58 691,50.7 693.1,62.2 695.1,28.5 697.1,27.1 699.2,25.1 701.2,26.2 703.2,27.2 705.3,28.3 707.3,26.3 709.3,29.3 711.3,27.9 713.4,29.9 715.4,27.2 717.4,26.8 719.5,26.5 721.5,25.2 723.5,27.3 725.6,27.5 727.6,28.6 729.6,45 731.6,26.3 733.7,28.9 735.7,26.5 737.7,27.3 739.8,29.3 741.8,29.3 743.8,26.5 745.8,27.2 747.9,29.1 749.9,28.4 751.9,29.9 754,100.3 756,24.6 758,27.4 760.1,25.7 762.1,27.5 764.1,28.5 766.1,29.4 768.2,30 770.2,29 772.2,29.5 774.3,29.8 776.3,34.7 778.3,35.6 780.4,31.3 782.4,32.6 784.4,29.8 786.4,27 788.5,28.1 790.5,30.9 792.5,29 794.6,30.2 796.6,29 798.6,26.3 800.6,27.1 802.7,26.3 804.7,27.7 806.7,27.4 808.8,30.4 810.8,28.2 812.8,29 814.9,26.9 816.9,26.7 818.9,26.5 820.9,26.6 823,26.8 825,26.9 827,26.9 829.1,26.8 831.1,26.7 833.1,26.6 835.2,26.5 837.2,26.5 839.2,26.5 841.2,26.5 843.3,26.5 845.3,26.5 845.3,28 843.3,27.9 841.2,27.8 839.2,27.7 837.2,27.6 835.2,27.6 833.1,27.6 831.1,27.9 829.1,28.1 827,28.4 825,28.4 823,28.1 820.9,27.8 818.9,27.5 816.9,27.9 814.9,28.3 812.8,35.1 810.8,45.3 808.8,32.6 806.7,45.2 804.7,44 802.7,29.4 800.6,54.6 798.6,76.4 796.6,90.6 794.6,42 792.5,44 790.5,50.8 788.5,50.5 786.4,64.7 784.4,83.6 782.4,98.2 780.4,102.9 778.3,103.3 776.3,105.6 774.3,87.9 772.2,46.2 770.2,33 768.2,39.1 766.1,38.5 764.1,49 762.1,37.6 760.1,37.2 758,87.8 756,32.3 754,100.3 751.9,77.7 749.9,40.5 747.9,43.7 745.8,37.7 743.8,31.3 741.8,38.5 739.8,91.5 737.7,43.7 735.7,31 733.7,62.3 731.6,40.7 729.6,47.5 727.6,42.5 725.6,44.6 723.5,34.2 721.5,38.5 719.5,89.9 717.4,29.3 715.4,46.8 713.4,34.9 711.3,47.8 709.3,80.4 707.3,43.5 705.3,38.6 703.2,33.5 701.2,45.2 699.2,47.5 697.1,72.2 695.1,65.5 693.1,92.6 691,70.6 689,60.5 687,60.5 685,82.1 682.9,106.6 680.9,100.9 678.9,95.5 676.8,79.5 674.8,60.5 672.8,79.7 670.8,68 668.7,90.9 666.7,75.5 664.7,89.7 662.6,92.3 660.6,102.8 658.6,101.7 656.5,104 654.5,93.8 652.5,102.8 650.5,30.7 648.4,29.7 646.4,33 644.4,49.3 642.3,77.7 640.3,104.8 638.3,86.8 636.2,82.2 634.2,84.6 632.2,78.6 630.2,46.3 628.1,59.3 626.1,71.2 624.1,114.2 622,112.2 620,94.8 618,119.5 615.9,67 613.9,77.4 611.9,98 609.9,93.5 607.8,88 605.8,95.1 603.8,74.3 601.7,87.9 599.7,58.9 597.7,60.4 595.7,73 593.6,75.3 591.6,78.8 589.6,30.5 587.5,92.5 585.5,93.9 583.5,102.8 581.4,103.3 579.4,95.5 577.4,113.4 575.4,60 573.3,54.7 571.3,45.5 569.3,62.5 567.2,112 565.2,115.1 563.2,103.1 561.1,102.2 559.1,113.4 557.1,87.9 555.1,91.4 553,62.5 551,79 549,66.9 546.9,69.1 544.9,73 542.9,79.6 540.9,64.9 538.8,64.8 536.8,61.4 534.8,62.1 532.7,63 530.7,62.9 528.7,62.8 526.6,61.5 524.6,62.8 522.6,31.3 520.6,32.1 518.5,31.2 516.5,32.4 514.5,32.1 512.4,31.7 510.4,33 508.4,32.4 506.3,32.1 504.3,30.9 502.3,30.8 500.3,29.7 498.2,30.3 496.2,31.2 494.2,32.8 492.1,31.9 490.1,31.5 488.1,31.1 486.1,31.3 484,32 482,31.2 480,32.2 477.9,31.4 475.9,31.2 473.9,29.5 471.8,30.1 469.8,28 467.8,28.4 465.8,28.8 463.7,29.5 461.7,30.1 459.7,32 457.6,31.6 455.6,31.4 453.6,31.6 451.5,30.7 449.5,29.7 447.5,31.3 445.5,30.5 443.4,31.5 441.4,31.3 439.4,32.5 437.3,33.2 435.3,32.9 433.3,33.1 431.3,33.5 429.2,35.8 427.2,36.3 425.2,34.4 423.1,33.4 421.1,34 419.1,34.4 417,36.7 415,35.6 413,37 411,37.8 408.9,37.6 406.9,37.3 404.9,36.9 402.8,35.3 400.8,34 398.8,32.6 396.7,30.7 394.7,32.4 392.7,34.3 390.7,35 388.6,36.9 386.6,38.1 384.6,39.5 382.5,40.2 380.5,39.3 378.5,37.8 376.5,35.6 374.4,35.6 372.4,35.3 370.4,34.1 368.3,34.6 366.3,34.2 364.3,34.8 362.2,35.8 360.2,34.8 358.2,35 356.2,34.6 354.1,33.8 352.1,34.5 350.1,33.9 348,35.1 346,33.4 344,34.4 341.9,32.9 339.9,32.1 337.9,32.8 335.9,32.8 333.8,33.8 331.8,33.1 329.8,33.9 327.7,34.8 325.7,36 323.7,37.1 321.7,37.2 319.6,36.1 317.6,35.6 315.6,34.9 313.5,34.7 311.5,33.5 309.5,33 307.4,32.9 305.4,33.5 303.4,32.7 301.4,33.8 299.3,35.7 297.3,35.1 295.3,33.7 293.2,32.5 291.2,33.2 289.2,35.4 287.1,37 285.1,37.5 283.1,37.2 281.1,35.8 279,35.1 277,29.5 275,33.2 272.9,31.7 270.9,33.7 268.9,32.2 266.9,35 264.8,36.7 262.8,36.2 260.8,35.6 258.7,34.4 256.7,33 254.7,33 252.6,30.3 250.6,31.7 248.6,35.5 246.6,35.7 244.5,160.4 242.5,157.6 240.5,155.8 238.4,155.1 236.4,154 234.4,157.2 232.3,161 230.3,162.6 228.3,164.1 226.3,165.8 224.2,167.1 222.2,165.8 220.2,164.1 218.1,163.9 216.1,164.6 214.1,163.2 212,165.6 210,165.7 208,163.2 206,160.3 203.9,158.2 201.9,159.2 199.9,161.1 197.8,161 195.8,162.2 193.8,161.9 191.8,162 189.7,162.2 187.7,162.2 185.7,163.3 183.6,162.5 181.6,163.6 179.6,163 177.5,162.8 175.5,163.5 173.5,164.2 171.5,162.8 169.4,162.9 167.4,161.3 165.4,160.3 163.3,155.5 161.3,158 159.3,160.3 157.2,157.5 155.2,158.6 153.2,157.7 151.2,159.1 149.1,160 147.1,162.2 145.1,161.6 143,162.8 141,158.3 139,158.9 137,160.3 134.9,162.3 132.9,162.4 130.9,162.3 128.8,163.1 126.8,160.5 124.8,161.5 122.7,162.2 120.7,160.9 118.7,160.6 116.7,159.1 114.6,159.2 112.6,157.1 110.6,155.7 108.5,155.6 106.5,155.7 104.5,155.5 102.4,154.9 100.4,154.7 98.4,156 96.4,156.8 94.3,157.1 92.3,156.2 90.3,156.2 88.2,157.4 86.2,158 84.2,159.5 82.2,159.4 80.1,158.4 78.1,159.5 76.1,243.5 74,243.7 72,244.1 70,244.5 67.9,244.9 65.9,245.3 63.9,245.3 61.9,245.1 59.8,244.8 57.8,244.5 55.8,244.9 53.7,245.2 51.7,245.4 49.7,244.8 47.6,244.3 45.6,243.7 43.6,243.7 41.6,244 39.5,244.3 37.5,244.5Z" fill="#CCCCFF" stroke="#000" stroke-width="1" stroke-linejoin="miter"/>
<path d="M37.5,235.5 39.5,235.5 41.6,235.5 43.6,235.5 45.6,235.5 47.6,235.5 49.7,235.5 51.7,235.5 53.7,235.5 55.8,235.5 57.8,235.5 59.8,235.5 61.9,235.5 63.9,235.5 65.9,235.5 67.9,235.5 70,235.5 72,235.5 74,235.5 76.1,235.5 78.1,148.5 80.1,148.5 82.2,148.5 84.2,148.5 86.2,148.5 88.2,148.5 90.3,148.5 92.3,148.5 94.3,148.5 96.4,148.5 98.4,148.5 100.4,148.5 102.4,148.5 104.5,148.5 106.5,148.5 108.5,148.5 110.6,148.5 112.6,148.5 114.6,148.5 116.7,148.5 118.7,148.5 120.7,148.5 122.7,148.5 124.8,148.5 126.8,148.5 128.8,148.5 130.9,148.5 132.9,148.5 134.9,148.5 137,148.5 139,148.5 141,148.5 143,148.5 145.1,148.5 147.1,148.5 149.1,148.5 151.2,148.5 153.2,148.5 155.2,148.5 157.2,148.5 159.3,148.5 161.3,148.5 163.3,148.5 165.4,148.5 167.4,148.5 169.4,148.5 171.5,148.5 173.5,148.5 175.5,148.5 177.5,148.5 179.6,148.5 181.6,148.5 183.6,148.5 185.7,148.5 187.7,148.5 189.7,148.5 191.8,148.5 193.8,148.5 195.8,148.5 197.8,148.5 199.9,148.5 201.9,148.5 203.9,148.5 206,148.5 208,148.5 210,148.5 212,148.5 214.1,148.5 216.1,148.5 218.1,148.5 220.2,148.5 222.2,148.5 224.2,148.5 226.3,148.5 228.3,148.5 230.3,148.5 232.3,148.5 234.4,148.5 236.4,148.5 238.4,148.5 240.5,148.5 242.5,148.5 244.5,148.5 246.6,23.5 248.6,23.5 250.6,23.5 252.6,23.5 254.7,23.5 256.7,23.5 258.7,23.5 260.8,23.5 262.8,23.5 264.8,23.5 266.9,23.5 268.9,23.5 270.9,23.5 272.9,23.5 275,23.5 277,23.5 279,23.5 281.1,23.5 283.1,23.5 285.1,23.5 287.1,23.5 289.2,23.5 291.2,23.5 293.2,23.5 295.3,23.5 297.3,23.5 299.3,23.5 301.4,23.5 303.4,23.5 305.4,23.5 307.4,23.5 309.5,23.5 311.5,23.5 313.5,23.5 315.6,23.5 317.6,23.5 319.6,23.5 321.7,23.5 323.7,23.5 325.7,23.5 327.7,23.5 329.8,23.5 331.8,23.5 333.8,23.5 335.9,23.5 337.9,23.5 339.9,23.5 341.9,23.5 344,23.5 346,23.5 348,23.5 350.1,23.5 352.1,23.5 354.1,23.5 356.2,23.5 358.2,23.5 360.2,23.5 362.2,23.5 364.3,23.5 366.3,23.5 368.3,23.5 370.4,23.5 372.4,23.5 374.4,23.5 376.5,23.5 378.5,23.5 380.5,23.5 382.5,23.5 384.6,23.5 386.6,23.5 388.6,23.5 390.7,23.5 392.7,23.5 394.7,23.5 396.7,23.5 398.8,23.5 400.8,23.5 402.8,23.5 404.9,23.5 406.9,23.5 408.9,23.5 411,23.5 413,23.5 415,23.5 417,23.5 419.1,23.5 421.1,23.5 423.1,23.5 425.2,23.5 427.2,23.5 429.2,23.5 431.3,23.5 433.3,23.5 435.3,23.5 437.3,23.5 439.4,23.5 441.4,23.5 443.4,23.5 445.5,23.5 447.5,23.5 449.5,23.5 451.5,23.5 453.6,23.5 455.6,23.5 457.6,23.5 459.7,23.5 461.7,23.5 463.7,23.5 465.8,23.5 467.8,23.5 469.8,23.5 471.8,23.5 473.9,23.5 475.9,23.5 477.9,23.5 480,23.5 482,23.5 484,23.5 486.1,23.5 488.1,23.5 490.1,23.5 492.1,23.5 494.2,23.5 496.2,23.5 498.2,23.5 500.3,23.5 502.3,23.5 504.3,23.5 506.3,23.5 508.4,23.5 510.4,23.5 512.4,23.5 514.5,23.5 516.5,23.5 518.5,23.5 520.6,23.5 522.6,23.5 524.6,23.5 526.6,23.5 528.7,23.5 530.7,23.5 532.7,23.5 534.8,23.5 536.8,23.5 538.8,23.5 540.9,23.5 542.9,23.5 544.9,23.5 546.9,23.5 549,23.5 551,23.5 553,23.5 555.1,23.5 557.1,23.5 559.1,23.5 561.1,23.5 563.2,23.5 565.2,23.5 567.2,23.5 569.3,23.5 571.3,23.5 573.3,23.5 575.4,23.5 577.4,23.5 579.4,23.5 581.4,23.5 583.5,23.5 585.5,23.5 587.5,23.5 589.6,23.5 591.6,23.5 593.6,23.5 595.7,23.5 597.7,23.5 599.7,23.5 601.7,23.5 603.8,23.5 605.8,23.5 607.8,23.5 609.9,23.5 611.9,23.5 613.9,23.5 615.9,23.5 618,23.5 620,23.5 622,23.5 624.1,23.5 626.1,23.5 628.1,23.5 630.2,23.5 632.2,23.5 634.2,23.5 636.2,23.5 638.3,23.5 640.3,23.5 642.3,23.5 644.4,23.5 646.4,23.5 648.4,23.5 650.5,23.5 652.5,23.5 654.5,23.5 656.5,23.5 658.6,23.5 660.6,23.5 662.6,23.5 664.7,23.5 666.7,23.5 668.7,23.5 670.8,23.5 672.8,23.5 674.8,23.5 676.8,23.5 678.9,23.5 680.9,23.5 682.9,23.5 685,23.5 687,23.5 689,23.5 691,23.5 693.1,23.5 695.1,23.5 697.1,23.5 699.2,23.5 701.2,23.5 703.2,23.5 705.3,23.5 707.3,23.5 709.3,23.5 711.3,23.5 713.4,23.5 715.4,23.5 717.4,23.5 719.5,23.5 721.5,23.5 723.5,23.5 725.6,23.5 727.6,23.5 729.6,23.5 731.6,23.5 733.7,23.5 735.7,23.5 737.7,23.5 739.8,23.5 741.8,23.5 743.8,23.5 745.8,23.5 747.9,23.5 749.9,23.5 751.9,23.5 754,23.5 756,23.5 758,23.5 760.1,23.5 762.1,23.5 764.1,23.5 766.1,23.5 768.2,23.5 770.2,23.5 772.2,23.5 774.3,23.5 776.3,23.5 778.3,23.5 780.4,23.5 782.4,23.5 784.4,23.5 786.4,23.5 788.5,23.5 790.5,23.5 792.5,23.5 794.6,23.5 796.6,23.5 798.6,23.5 800.6,23.5 802.7,23.5 804.7,23.5 806.7,23.5 808.8,23.5 810.8,23.5 812.8,23.5 814.9,25.5 816.9,25.5 818.9,25.5 820.9,25.5 823,25.5 825,25.5 827,25.5 829.1,25.5 831.1,25.5 833.1,25.5 835.2,25.5 837.2,25.5 839.2,25.5 841.2,25.5 843.3,25.5 845.3,25.5 845.3,26.5 843.3,26.5 841.2,26.5 839.2,26.5 837.2,26.5 835.2,26.5 833.1,26.6 831.1,26.7 829.1,26.8 827,26.9 825,26.9 823,26.8 820.9,26.6 818.9,26.5 816.9,26.7 814.9,26.9 812.8,29 810.8,28.2 808.8,30.4 806.7,27.4 804.7,27.7 802.7,26.3 800.6,27.1 798.6,26.3 796.6,29 794.6,30.2 792.5,29 790.5,30.9 788.5,28.1 786.4,27 784.4,29.8 782.4,32.6 780.4,31.3 778.3,35.6 776.3,34.7 774.3,29.8 772.2,29.5 770.2,29 768.2,30 766.1,29.4 764.1,28.5 762.1,27.5 760.1,25.7 758,27.4 756,24.6 754,100.3 751.9,29.9 749.9,28.4 747.9,29.1 745.8,27.2 743.8,26.5 741.8,29.3 739.8,29.3 737.7,27.3 735.7,26.5 733.7,28.9 731.6,26.3 729.6,45 727.6,28.6 725.6,27.5 723.5,27.3 721.5,25.2 719.5,26.5 717.4,26.8 715.4,27.2 713.4,29.9 711.3,27.9 709.3,29.3 707.3,26.3 705.3,28.3 703.2,27.2 701.2,26.2 699.2,25.1 697.1,27.1 695.1,28.5 693.1,62.2 691,50.7 689,58 687,58 685,34.9 682.9,27.7 680.9,27.4 678.9,93 676.8,56.6 674.8,25.3 672.8,36.3 670.8,68 668.7,90.9 666.7,38.8 664.7,27.6 662.6,26.1 660.6,60 658.6,39.8 656.5,32 654.5,62.2 652.5,29.4 650.5,30.2 648.4,23.5 646.4,33 644.4,38.2 642.3,62.2 640.3,104.7 638.3,76.8 636.2,82.2 634.2,77.5 632.2,32.8 630.2,35.8 628.1,24.8 626.1,30.2 624.1,114.2 622,112.2 620,38.7 618,119.5 615.9,30.4 613.9,30.3 611.9,98 609.9,67.9 607.8,88 605.8,78.1 603.8,64.3 601.7,29.3 599.7,31 597.7,32.8 595.7,73 593.6,34.3 591.6,29.9 589.6,23.5 587.5,38.8 585.5,60.7 583.5,102.8 581.4,23.5 579.4,36.9 577.4,113.4 575.4,57.2 573.3,41.4 571.3,31 569.3,60 567.2,112 565.2,115.1 563.2,67.2 561.1,77.6 559.1,113.4 557.1,39 555.1,38 553,26.6 551,53.4 549,32.4 546.9,69.1 544.9,73 542.9,79.6 540.9,64 538.8,34.3 536.8,33.2 534.8,33.9 532.7,31 530.7,33.5 528.7,33.6 526.6,33.1 524.6,34.9 522.6,29.5 520.6,28.9 518.5,29 516.5,28.4 514.5,28.7 512.4,28.3 510.4,27.8 508.4,28.2 506.3,27.4 504.3,27.4 502.3,26 500.3,25.8 498.2,26.6 496.2,27.3 494.2,28.2 492.1,28 490.1,28.6 488.1,28.3 486.1,29.5 484,28.7 482,28.4 480,28.6 477.9,28.8 475.9,27.3 473.9,27.5 471.8,27.5 469.8,26.6 467.8,26.3 465.8,26.9 463.7,27.4 461.7,27.8 459.7,28.5 457.6,27.7 455.6,28.5 453.6,28.4 451.5,28.7 449.5,28.4 447.5,26.4 445.5,27.2 443.4,27.1 441.4,26.9 439.4,28 437.3,28.8 435.3,28.6 433.3,28.1 431.3,30.4 429.2,29.6 427.2,29.6 425.2,29.2 423.1,27.5 421.1,28.2 419.1,28.2 417,28.9 415,30.3 413,29.7 411,30.5 408.9,29.6 406.9,29.4 404.9,29.3 402.8,28.9 400.8,28.2 398.8,27.3 396.7,26.5 394.7,26.8 392.7,27.3 390.7,29.2 388.6,28.6 386.6,29 384.6,30.7 382.5,30.5 380.5,30.7 378.5,28.6 376.5,29 374.4,28 372.4,27.7 370.4,28.6 368.3,27.6 366.3,29.7 364.3,28.7 362.2,28.9 360.2,28.1 358.2,27.8 356.2,27.8 354.1,26.9 352.1,27.2 350.1,28.3 348,28 346,27.9 344,26.7 341.9,26.3 339.9,26.1 337.9,27.3 335.9,26.9 333.8,27.5 331.8,27.8 329.8,28.2 327.7,29.4 325.7,28.3 323.7,29.3 321.7,29.1 319.6,29.2 317.6,28.6 315.6,29.1 313.5,27.6 311.5,27.2 309.5,26.4 307.4,26.5 305.4,27.8 303.4,27.7 301.4,28.7 299.3,29.1 297.3,29.1 295.3,27.2 293.2,26.4 291.2,27.2 289.2,28 287.1,29.4 285.1,29 283.1,29.6 281.1,28 279,29.2 277,26.3 275,27.1 272.9,28.5 270.9,27.8 268.9,28.5 266.9,28.7 264.8,28.8 262.8,29.3 260.8,27.6 258.7,28.5 256.7,26.1 254.7,26.4 252.6,25.2 250.6,25.9 248.6,25.7 246.6,26.6 244.5,153.6 242.5,153.5 240.5,151.4 238.4,151.2 236.4,151.5 234.4,151.4 232.3,152.3 230.3,153.4 228.3,154.2 226.3,154.8 224.2,155.8 222.2,155.7 220.2,153.4 218.1,153.7 216.1,154.4 214.1,153.5 212,153.8 210,153.4 208,153 206,151.9 203.9,152.3 201.9,152.6 199.9,152.5 197.8,151.8 195.8,154 193.8,152.8 191.8,153.3 189.7,153.3 187.7,153.9 185.7,153.1 183.6,153.3 181.6,153.2 179.6,153.6 177.5,154.7 175.5,153.2 173.5,153.9 171.5,153.2 169.4,152.7 167.4,152.1 165.4,152.1 163.3,150.9 161.3,151.1 159.3,150.7 157.2,153.2 155.2,151.4 153.2,152.6 151.2,153.2 149.1,152.4 147.1,152.8 145.1,153.6 143,154 141,153.8 139,152.9 137,153.2 134.9,153.8 132.9,154.2 130.9,154.8 128.8,154.2 126.8,154.4 124.8,153.7 122.7,153.9 120.7,153 118.7,153.5 116.7,152.5 114.6,152.4 112.6,152.9 110.6,152.4 108.5,151.3 106.5,151.6 104.5,151.5 102.4,151.3 100.4,152.1 98.4,152.9 96.4,152.4 94.3,153.1 92.3,152.2 90.3,150.7 88.2,152.5 86.2,150.5 84.2,153.1 82.2,151.8 80.1,153.9 78.1,152.2 76.1,239 74,239.1 72,239.3 70,239.5 67.9,239.7 65.9,239.9 63.9,239.9 61.9,239.8 59.8,239.6 57.8,239.5 55.8,239.7 53.7,239.9 51.7,240 49.7,239.7 47.6,239.4 45.6,239.1 43.6,239.1 41.6,239.2 39.5,239.4 37.5,239.5Z" fill="#000080" stroke="#000" stroke-width="1" stroke-linejoin="miter"/>
<line x1="37.5" x2="37.5" y1="22" y2="274" stroke="#000"/>
<line x1="37" x2="846" y1="273.5" y2="273.5" stroke="#000"/>
<line x1="845" x2="845" y1="23" y2="274" stroke="#000" stroke-width="2"/>
<line x1="844.5" x2="844.5" y1="5" y2="339" stroke="#000"/>
<path d="M38.5,271v3M48.5,271v3M58.5,271v3M68.5,271v3M78.5,271v3M88.5,271v3M98.5,271v3M109.5,271v3M119.5,271v3M129.5,271v3M139.5,271v3M149.5,271v3M159.5,271v3M169.5,271v3M180.5,271v3M190.5,271v3M200.5,271v3M210.5,271v3M220.5,271v3M230.5,271v3M241.5,271v3M251.5,271v3M261.5,271v3M271.5,271v3M281.5,271v3M291.5,271v3M301.5,271v3M312.5,271v3M322.5,271v3M332.5,271v3M342.5,271v3M352.5,271v3M362.5,271v3M373.5,271v3M383.5,271v3M393.5,271v3M403.5,271v3M413.5,271v3M423.5,271v3M433.5,271v3M444.5,271v3M454.5,271v3M464.5,271v3M474.5,271v3M484.5,271v3M494.5,271v3M505.5,271v3M515.5,271v3M525.5,271v3M535.5,271v3M545.5,271v3M555.5,271v3M565.5,271v3M576.5,271v3M586.5,271v3M596.5,271v3M606.5,271v3M616.5,271v3M626.5,271v3M637.5,271v3M647.5,271v3M657.5,271v3M667.5,271v3M677.5,271v3M687.5,271v3M697.5,271v3M708.5,271v3M718.5,271v3M728.5,271v3M738.5,271v3M748.5,271v3M758.5,271v3M769.5,271v3M779.5,271v3M789.5,271v3M799.5,271v3M809.5,271v3M819.5,271v3M829.5,271v3M840.5,271v3" stroke="#000" fill="none"/>
<text x="28" y="276.5" font-size="10" text-anchor="end">0</text>
<text x="28" y="214" font-size="10" text-anchor="end">500</text>
<text x="28" y="151.5" font-size="10" text-anchor="end">1000</text>
<text x="28" y="89" font-size="10" text-anchor="end">1500</text>
<text x="28" y="26.5" font-size="10" text-anchor="end">2000</text>
<text transform="translate(41.3,336.3) rotate(-90)" font-size="12.3" textLength="49.5" lengthAdjust="spacingAndGlyphs">20061004</text>
<text transform="translate(61.6,336.3) rotate(-90)" font-size="12.3" textLength="49.5" lengthAdjust="spacingAndGlyphs">20061019</text>
<text transform="translate(82,336.3) rotate(-90)" font-size="12.3" textLength="49.5" lengthAdjust="spacingAndGlyphs">20061102</text>
<text transform="translate(102.3,336.3) rotate(-90)" font-size="12.3" textLength="49.5" lengthAdjust="spacingAndGlyphs">20061117</text>
<text transform="translate(122.6,336.3) rotate(-90)" font-size="12.3" textLength="49.5" lengthAdjust="spacingAndGlyphs">20061204</text>
<text transform="translate(142.9,336.3) rotate(-90)" font-size="12.3" textLength="49.5" lengthAdjust="spacingAndGlyphs">20061218</text>
<text transform="translate(163.3,336.3) rotate(-90)" font-size="12.3" textLength="49.5" lengthAdjust="spacingAndGlyphs">20070109</text>
<text transform="translate(183.6,336.3) rotate(-90)" font-size="12.3" textLength="49.5" lengthAdjust="spacingAndGlyphs">20070123</text>
<text transform="translate(203.9,336.3) rotate(-90)" font-size="12.3" textLength="49.5" lengthAdjust="spacingAndGlyphs">20070206</text>
<text transform="translate(224.3,336.3) rotate(-90)" font-size="12.3" textLength="49.5" lengthAdjust="spacingAndGlyphs">20070221</text>
<text transform="translate(244.6,336.3) rotate(-90)" font-size="12.3" textLength="49.5" lengthAdjust="spacingAndGlyphs">20070307</text>
<text transform="translate(264.9,336.3) rotate(-90)" font-size="12.3" textLength="49.5" lengthAdjust="spacingAndGlyphs">20070322</text>
<text transform="translate(285.3,336.3) rotate(-90)" font-size="12.3" textLength="49.5" lengthAdjust="spacingAndGlyphs">20070405</text>
<text transform="translate(305.6,336.3) rotate(-90)" font-size="12.3" textLength="49.5" lengthAdjust="spacingAndGlyphs">20070419</text>
<text transform="translate(325.9,336.3) rotate(-90)" font-size="12.3" textLength="49.5" lengthAdjust="spacingAndGlyphs">20070508</text>
<text transform="translate(346.2,336.3) rotate(-90)" font-size="12.3" textLength="49.5" lengthAdjust="spacingAndGlyphs">20070522</text>
<text transform="translate(366.6,336.3) rotate(-90)" font-size="12.3" textLength="49.5" lengthAdjust="spacingAndGlyphs">20070605</text>
<text transform="translate(386.9,336.3) rotate(-90)" font-size="12.3" textLength="49.5" lengthAdjust="spacingAndGlyphs">20070619</text>
<text transform="translate(407.2,336.3) rotate(-90)" font-size="12.3" textLength="49.5" lengthAdjust="spacingAndGlyphs">20070703</text>
<text transform="translate(427.6,336.3) rotate(-90)" font-size="12.3" textLength="49.5" lengthAdjust="spacingAndGlyphs">20070718</text>
<text transform="translate(447.9,336.3) rotate(-90)" font-size="12.3" textLength="49.5" lengthAdjust="spacingAndGlyphs">20070801</text>
<text transform="translate(468.2,336.3) rotate(-90)" font-size="12.3" textLength="49.5" lengthAdjust="spacingAndGlyphs">20070815</text>
<text transform="translate(488.6,336.3) rotate(-90)" font-size="12.3" textLength="49.5" lengthAdjust="spacingAndGlyphs">20070829</text>
<text transform="translate(508.9,336.3) rotate(-90)" font-size="12.3" textLength="49.5" lengthAdjust="spacingAndGlyphs">20070912</text>
<text transform="translate(529.2,336.3) rotate(-90)" font-size="12.3" textLength="49.5" lengthAdjust="spacingAndGlyphs">20070928</text>
<text transform="translate(549.5,336.3) rotate(-90)" font-size="12.3" textLength="49.5" lengthAdjust="spacingAndGlyphs">20071015</text>
<text transform="translate(569.9,336.3) rotate(-90)" font-size="12.3" textLength="49.5" lengthAdjust="spacingAndGlyphs">20071029</text>
<text transform="translate(590.2,336.3) rotate(-90)" font-size="12.3" textLength="49.5" lengthAdjust="spacingAndGlyphs">20071112</text>
<text transform="translate(610.5,336.3) rotate(-90)" font-size="12.3" textLength="49.5" lengthAdjust="spacingAndGlyphs">20071127</text>
<text transform="translate(630.9,336.3) rotate(-90)" font-size="12.3" textLength="49.5" lengthAdjust="spacingAndGlyphs">20071211</text>
<text transform="translate(651.2,336.3) rotate(-90)" font-size="12.3" textLength="49.5" lengthAdjust="spacingAndGlyphs">20071226</text>
<text transform="translate(671.5,336.3) rotate(-90)" font-size="12.3" textLength="49.5" lengthAdjust="spacingAndGlyphs">20080118</text>
<text transform="translate(691.9,336.3) rotate(-90)" font-size="12.3" textLength="49.5" lengthAdjust="spacingAndGlyphs">20080131</text>
<text transform="translate(712.2,336.3) rotate(-90)" font-size="12.3" textLength="49.5" lengthAdjust="spacingAndGlyphs">20080215</text>
<text transform="translate(732.5,336.3) rotate(-90)" font-size="12.3" textLength="49.5" lengthAdjust="spacingAndGlyphs">20080229</text>
<text transform="translate(752.9,336.3) rotate(-90)" font-size="12.3" textLength="49.5" lengthAdjust="spacingAndGlyphs">20080314</text>
<text transform="translate(773.2,336.3) rotate(-90)" font-size="12.3" textLength="49.5" lengthAdjust="spacingAndGlyphs">20080331</text>
<text transform="translate(793.5,336.3) rotate(-90)" font-size="12.3" textLength="49.5" lengthAdjust="spacingAndGlyphs">20080414</text>
<text transform="translate(813.8,336.3) rotate(-90)" font-size="12.3" textLength="49.5" lengthAdjust="spacingAndGlyphs">20080428</text>
<text transform="translate(834.2,336.3) rotate(-90)" font-size="12.3" textLength="49.5" lengthAdjust="spacingAndGlyphs">20080515</text>
<text y="20" font-size="13.3"><tspan x="70" font-size="14" textLength="166" lengthAdjust="spacingAndGlyphs">kabu.comPTS bid−ask spread</tspan><tspan x="238" textLength="94" lengthAdjust="spacingAndGlyphs">引けの注文状況</tspan></text>
<rect x="394.5" y="5.5" width="411" height="14" fill="#fff" stroke="#000"/>
<rect x="399.5" y="8.5" width="6" height="6" fill="#9999FF" stroke="#000"/>
<text x="408.5" y="14.8" font-size="10" textLength="38" lengthAdjust="spacingAndGlyphs">注文無し</text>
<rect x="455.5" y="8.5" width="6" height="6" fill="#993366" stroke="#000"/>
<text x="464.5" y="14.8" font-size="10" textLength="37" lengthAdjust="spacingAndGlyphs">売り無し</text>
<rect x="508.5" y="8.5" width="6" height="6" fill="#FFFFCC" stroke="#000"/>
<text x="517.5" y="14.8" font-size="10" textLength="37" lengthAdjust="spacingAndGlyphs">買い無し</text>
<rect x="563.5" y="8.5" width="6" height="6" fill="#CCFFFF" stroke="#000"/>
<text x="572.5" y="14.8" font-size="10" textLength="31" lengthAdjust="spacingAndGlyphs">5%以上</text>
<rect x="612.5" y="8.5" width="6" height="6" fill="#660066" stroke="#000"/>
<text x="621.5" y="14.8" font-size="10" textLength="20" lengthAdjust="spacingAndGlyphs">4%台</text>
<rect x="648.5" y="8.5" width="6" height="6" fill="#FF8080" stroke="#000"/>
<text x="657.5" y="14.8" font-size="10" textLength="20" lengthAdjust="spacingAndGlyphs">3%台</text>
<rect x="686.5" y="8.5" width="6" height="6" fill="#0066CC" stroke="#000"/>
<text x="695.5" y="14.8" font-size="10" textLength="20" lengthAdjust="spacingAndGlyphs">2%台</text>
<rect x="722.5" y="8.5" width="6" height="6" fill="#CCCCFF" stroke="#000"/>
<text x="731.5" y="14.8" font-size="10" textLength="20" lengthAdjust="spacingAndGlyphs">1%台</text>
<rect x="760.5" y="8.5" width="6" height="6" fill="#000080" stroke="#000"/>
<text x="769.5" y="14.8" font-size="10" textLength="30" lengthAdjust="spacingAndGlyphs">1%未満</text>
<rect x="5.5" y="346.5" width="839" height="301" fill="#fff" stroke="#000"/>
<rect x="35.5" y="370.5" width="810" height="222" fill="#C0C0C0" stroke="#808080"/>
<line x1="36" x2="845" y1="555.5" y2="555.5" stroke="#000"/>
<line x1="36" x2="845" y1="518.5" y2="518.5" stroke="#000"/>
<line x1="36" x2="845" y1="481.5" y2="481.5" stroke="#000"/>
<line x1="36" x2="845" y1="444.5" y2="444.5" stroke="#000"/>
<line x1="36" x2="845" y1="407.5" y2="407.5" stroke="#000"/>
<line x1="35.5" x2="35.5" y1="370" y2="593" stroke="#000"/>
<line x1="35" x2="846" y1="592.5" y2="592.5" stroke="#000"/>
<line x1="844.5" x2="844.5" y1="346" y2="648" stroke="#000"/>
<line x1="35" x2="38" y1="370.5" y2="370.5" stroke="#000"/>
<path d="M36.5,590v3M45.5,590v3M55.5,590v3M65.5,590v3M75.5,590v3M85.5,590v3M95.5,590v3M105.5,590v3M114.5,590v3M124.5,590v3M134.5,590v3M144.5,590v3M154.5,590v3M164.5,590v3M174.5,590v3M184.5,590v3M193.5,590v3M203.5,590v3M213.5,590v3M223.5,590v3M233.5,590v3M243.5,590v3M253.5,590v3M262.5,590v3M272.5,590v3M282.5,590v3M292.5,590v3M302.5,590v3M312.5,590v3M322.5,590v3M332.5,590v3M341.5,590v3M351.5,590v3M361.5,590v3M371.5,590v3M381.5,590v3M391.5,590v3M401.5,590v3M410.5,590v3M420.5,590v3M430.5,590v3M440.5,590v3M450.5,590v3M460.5,590v3M470.5,590v3M480.5,590v3M489.5,590v3M499.5,590v3M509.5,590v3M519.5,590v3M529.5,590v3M539.5,590v3M549.5,590v3M558.5,590v3M568.5,590v3M578.5,590v3M588.5,590v3M598.5,590v3M608.5,590v3M618.5,590v3M628.5,590v3M637.5,590v3M647.5,590v3M657.5,590v3M667.5,590v3M677.5,590v3M687.5,590v3M697.5,590v3M706.5,590v3M716.5,590v3M726.5,590v3M736.5,590v3M746.5,590v3M756.5,590v3M766.5,590v3M776.5,590v3M785.5,590v3M795.5,590v3M805.5,590v3M815.5,590v3M825.5,590v3M835.5,590v3M845.5,590v3" stroke="#000" fill="none"/>
<text x="28" y="596" font-size="10" text-anchor="end">0</text>
<text x="28" y="559" font-size="10" text-anchor="end">500</text>
<text x="28" y="522" font-size="10" text-anchor="end">1000</text>
<text x="28" y="485" font-size="10" text-anchor="end">1500</text>
<text x="28" y="448" font-size="10" text-anchor="end">2000</text>
<text x="28" y="411" font-size="10" text-anchor="end">2500</text>
<text x="28" y="374" font-size="10" text-anchor="end">3000</text>
<text transform="translate(38.9,645.8) rotate(-90)" font-size="9" textLength="43.5" lengthAdjust="spacingAndGlyphs">20060915</text>
<text transform="translate(58.6,645.8) rotate(-90)" font-size="9" textLength="43.5" lengthAdjust="spacingAndGlyphs">20061002</text>
<text transform="translate(78.4,645.8) rotate(-90)" font-size="9" textLength="43.5" lengthAdjust="spacingAndGlyphs">20061017</text>
<text transform="translate(98.1,645.8) rotate(-90)" font-size="9" textLength="43.5" lengthAdjust="spacingAndGlyphs">20061031</text>
<text transform="translate(117.8,645.8) rotate(-90)" font-size="9" textLength="43.5" lengthAdjust="spacingAndGlyphs">20061115</text>
<text transform="translate(137.6,645.8) rotate(-90)" font-size="9" textLength="43.5" lengthAdjust="spacingAndGlyphs">20061130</text>
<text transform="translate(157.3,645.8) rotate(-90)" font-size="9" textLength="43.5" lengthAdjust="spacingAndGlyphs">20061214</text>
<text transform="translate(177,645.8) rotate(-90)" font-size="9" textLength="43.5" lengthAdjust="spacingAndGlyphs">20061228</text>
<text transform="translate(196.8,645.8) rotate(-90)" font-size="9" textLength="43.5" lengthAdjust="spacingAndGlyphs">20070119</text>
<text transform="translate(216.5,645.8) rotate(-90)" font-size="9" textLength="43.5" lengthAdjust="spacingAndGlyphs">20070202</text>
<text transform="translate(236.2,645.8) rotate(-90)" font-size="9" textLength="43.5" lengthAdjust="spacingAndGlyphs">20070219</text>
<text transform="translate(256,645.8) rotate(-90)" font-size="9" textLength="43.5" lengthAdjust="spacingAndGlyphs">20070305</text>
<text transform="translate(275.7,645.8) rotate(-90)" font-size="9" textLength="43.5" lengthAdjust="spacingAndGlyphs">20070319</text>
<text transform="translate(295.5,645.8) rotate(-90)" font-size="9" textLength="43.5" lengthAdjust="spacingAndGlyphs">20070403</text>
<text transform="translate(315.2,645.8) rotate(-90)" font-size="9" textLength="43.5" lengthAdjust="spacingAndGlyphs">20070417</text>
<text transform="translate(334.9,645.8) rotate(-90)" font-size="9" textLength="43.5" lengthAdjust="spacingAndGlyphs">20070502</text>
<text transform="translate(354.7,645.8) rotate(-90)" font-size="9" textLength="43.5" lengthAdjust="spacingAndGlyphs">20070518</text>
<text transform="translate(374.4,645.8) rotate(-90)" font-size="9" textLength="43.5" lengthAdjust="spacingAndGlyphs">20070601</text>
<text transform="translate(394.1,645.8) rotate(-90)" font-size="9" textLength="43.5" lengthAdjust="spacingAndGlyphs">20070615</text>
<text transform="translate(413.9,645.8) rotate(-90)" font-size="9" textLength="43.5" lengthAdjust="spacingAndGlyphs">20070629</text>
<text transform="translate(433.6,645.8) rotate(-90)" font-size="9" textLength="43.5" lengthAdjust="spacingAndGlyphs">20070713</text>
<text transform="translate(453.3,645.8) rotate(-90)" font-size="9" textLength="43.5" lengthAdjust="spacingAndGlyphs">20070730</text>
<text transform="translate(473.1,645.8) rotate(-90)" font-size="9" textLength="43.5" lengthAdjust="spacingAndGlyphs">20070813</text>
<text transform="translate(492.8,645.8) rotate(-90)" font-size="9" textLength="43.5" lengthAdjust="spacingAndGlyphs">20070827</text>
<text transform="translate(512.5,645.8) rotate(-90)" font-size="9" textLength="43.5" lengthAdjust="spacingAndGlyphs">20070910</text>
<text transform="translate(532.3,645.8) rotate(-90)" font-size="9" textLength="43.5" lengthAdjust="spacingAndGlyphs">20070926</text>
<text transform="translate(552,645.8) rotate(-90)" font-size="9" textLength="43.5" lengthAdjust="spacingAndGlyphs">20071011</text>
<text transform="translate(571.7,645.8) rotate(-90)" font-size="9" textLength="43.5" lengthAdjust="spacingAndGlyphs">20071025</text>
<text transform="translate(591.5,645.8) rotate(-90)" font-size="9" textLength="43.5" lengthAdjust="spacingAndGlyphs">20071108</text>
<text transform="translate(611.2,645.8) rotate(-90)" font-size="9" textLength="43.5" lengthAdjust="spacingAndGlyphs">20071122</text>
<text transform="translate(630.9,645.8) rotate(-90)" font-size="9" textLength="43.5" lengthAdjust="spacingAndGlyphs">20071207</text>
<text transform="translate(650.7,645.8) rotate(-90)" font-size="9" textLength="43.5" lengthAdjust="spacingAndGlyphs">20071221</text>
<text transform="translate(670.4,645.8) rotate(-90)" font-size="9" textLength="43.5" lengthAdjust="spacingAndGlyphs">20080116</text>
<text transform="translate(690.2,645.8) rotate(-90)" font-size="9" textLength="43.5" lengthAdjust="spacingAndGlyphs">20080129</text>
<text transform="translate(709.9,645.8) rotate(-90)" font-size="9" textLength="43.5" lengthAdjust="spacingAndGlyphs">20080213</text>
<text transform="translate(729.6,645.8) rotate(-90)" font-size="9" textLength="43.5" lengthAdjust="spacingAndGlyphs">20080227</text>
<text transform="translate(749.4,645.8) rotate(-90)" font-size="9" textLength="43.5" lengthAdjust="spacingAndGlyphs">20080312</text>
<text transform="translate(769.1,645.8) rotate(-90)" font-size="9" textLength="43.5" lengthAdjust="spacingAndGlyphs">20080327</text>
<text transform="translate(788.8,645.8) rotate(-90)" font-size="9" textLength="43.5" lengthAdjust="spacingAndGlyphs">20080410</text>
<text transform="translate(808.6,645.8) rotate(-90)" font-size="9" textLength="43.5" lengthAdjust="spacingAndGlyphs">20080424</text>
<text transform="translate(828.3,645.8) rotate(-90)" font-size="9" textLength="43.5" lengthAdjust="spacingAndGlyphs">20080513</text>
<text y="362" font-size="13.3"><tspan x="208.5" font-size="14" textLength="25" lengthAdjust="spacingAndGlyphs">PTS</tspan><tspan x="234" textLength="57.5" lengthAdjust="spacingAndGlyphs">売買代金</tspan></text>
<g shape-rendering="crispEdges">
<polyline fill="none" stroke="#000080" stroke-width="1" shape-rendering="crispEdges" points="36.3,580.2 38.3,582 40.2,581 42.2,587 44.2,589.3 46.2,589.8 48.1,588.3 50.1,584.7 52.1,580.3 54.1,584.7 56,583.8 58,581.4 60,584.5 62,585 63.9,588.8 65.9,585.4 67.9,583.3 69.8,586.3 71.8,583.9 73.8,583.6 75.8,582 77.7,579.9 79.7,581.7 81.7,578.4 83.7,561.2 85.6,581.3 87.6,580.1 89.6,580.7 91.6,584.5 93.5,588 95.5,584.2 97.5,584.3 99.5,586.9 101.4,585.6 103.4,582.4 105.4,580.1 107.3,585.7 109.3,585.8 111.3,585.4 113.3,584.9 115.2,586 117.2,585.1 119.2,582.9 121.2,583.5 123.1,584.8 125.1,587.7 127.1,587.4 129.1,584.5 131,582.9 133,582.2 135,582.8 136.9,584.6 138.9,586.6 140.9,585.1 142.9,586.6 144.8,585.8 146.8,586.2 148.8,585.1 150.8,585.4 152.7,585.9 154.7,583.4 156.7,583.8 158.7,578.3 160.6,580.6 162.6,580.8 164.6,578.1 166.6,581 168.5,580.8 170.5,583.2 172.5,583.8 174.4,586.1 176.4,586.1 178.4,586.6 180.4,586.2 182.3,587.4 184.3,582.7 186.3,580.4 188.3,581.3 190.2,581.4 192.2,577.2 194.2,577.3 196.2,579.8 198.1,576.6 200.1,579.1 202.1,580.3 204,582.2 206,580 208,576.9 210,579 211.9,577.6 213.9,586 215.9,582.9 217.9,582.6 219.8,579.1 221.8,579.7 223.8,581.9 225.8,579.6 227.7,576.4 229.7,565 231.7,580.6 233.6,580.8 235.6,583.4 237.6,575.3 239.6,576.4 241.5,576 243.5,573.2 245.5,553.6 247.5,559 249.4,563 251.4,584.3 253.4,570.9 255.4,546.4 257.3,580.7 259.3,573.5 261.3,575 263.3,578.1 265.2,576.2 267.2,573.4 269.2,578.6 271.1,583.9 273.1,580.7 275.1,582.9 277.1,582.3 279,575 281,573 283,587.7 285,586.4 286.9,581.3 288.9,580.4 290.9,584 292.9,577.1 294.8,583.1 296.8,583.2 298.8,584.3 300.7,580.9 302.7,579.9 304.7,579.3 306.7,582 308.6,581.3 310.6,576 312.6,588.1 314.6,584.2 316.5,585.1 318.5,580 320.5,583.7 322.5,585.6 324.4,584 326.4,577 328.4,586.6 330.4,584.1 332.3,585.1 334.3,574.6 336.3,580.7 338.2,567 340.2,578.7 342.2,579.4 344.2,584.2 346.1,580.4 348.1,578.6 350.1,580.8 352.1,584.5 354,582.6 356,578.9 358,579.9 360,581 361.9,585 363.9,586.7 365.9,581.6 367.8,580.7 369.8,583 371.8,582.6 373.8,579.6 375.7,579 377.7,577.7 379.7,580.7 381.7,581.1 383.6,584.2 385.6,582.6 387.6,583 389.6,579.8 391.5,569 393.5,581.2 395.5,579.8 397.5,583.1 399.4,583.4 401.4,585.6 403.4,583.9 405.3,584.5 407.3,588.1 409.3,585.5 411.3,584.1 413.2,580 415.2,585.5 417.2,585 419.2,586 421.1,582 423.1,581.7 425.1,577.6 427.1,583.8 429,583.1 431,582.7 433,584.1 434.9,585.2 436.9,581 438.9,579.5 440.9,581.2 442.8,582 444.8,576 446.8,570 448.8,581.8 450.7,582.2 452.7,579.4 454.7,581.5 456.7,585.4 458.6,583.4 460.6,584.7 462.6,585.8 464.5,581.2 466.5,575.6 468.5,579.8 470.5,587.4 472.4,585.7 474.4,587.8 476.4,577 478.4,570 480.3,587.3 482.3,583.5 484.3,579.1 486.3,578.4 488.2,584.4 490.2,587.4 492.2,585.3 494.2,583.7 496.1,583.7 498.1,579.6 500.1,587.6 502,589 504,585 506,579.4 508,576 509.9,584.3 511.9,585 513.9,582.9 515.9,585.1 517.8,583.7 519.8,583.8 521.8,576 523.8,578 525.7,583.1 527.7,590.2 529.7,585.7 531.6,578.9 533.6,581.1 535.6,575 537.6,570 539.5,580.6 541.5,582.5 543.5,580.5 545.5,577.9 547.4,582.7 549.4,568 551.4,573.8 553.4,575.3 555.3,574.8 557.3,575.3 559.3,567.7 561.3,565 563.2,580.7 565.2,577 567.2,573.2 569.1,572.9 571.1,577.9 573.1,574.8 575.1,573 577,578 579,570 581,563 583,573.9 584.9,581 586.9,579.6 588.9,578.5 590.9,580.8 592.8,569 594.8,574 596.8,561 598.7,577.9 600.7,581.9 602.7,582.7 604.7,581 606.6,581.3 608.6,579.2 610.6,588.2 612.6,578.5 614.5,568 616.5,577.3 618.5,574 620.5,580.5 622.4,586 624.4,578.8 626.4,581.8 628.3,585.2 630.3,582.1 632.3,583.1 634.3,581.4 636.2,585.7 638.2,584.7 640.2,584.3 642.2,586.7 644.1,584.3 646.1,584.2 648.1,579.6 650.1,584.1 652,589.7 654,586.7 656,585.3 658,584.2 659.9,584.7 661.9,584.5 663.9,585.7 665.8,585.6 667.8,586.5 669.8,583.9 671.8,584.8 673.7,578.5 675.7,573.6 677.7,583.2 679.7,581.6 681.6,580.9 683.6,585 685.6,586.2 687.6,582.9 689.5,584.2 691.5,582.3 693.5,576.9 695.4,579.1 697.4,582.1 699.4,576.5 701.4,585.1 703.3,588.3 705.3,584.1 707.3,583.7 709.3,586 711.2,584.3 713.2,583.3 715.2,578.9 717.2,585.2 719.1,585.6 721.1,589.2 723.1,588 725.1,583.8 727,582.9 729,584.3 731,585.6 732.9,589 734.9,589.2 736.9,587.7 738.9,585.8 740.8,583.2 742.8,584.5 744.8,579 746.8,583.5 748.7,585.3 750.7,584.6 752.7,586.9 754.7,583.7 756.6,587 758.6,587.6 760.6,581.2 762.5,582.8 764.5,584.5 766.5,581.8 768.5,586.7 770.4,586.5 772.4,581.5 774.4,583.1 776.4,584.9 778.3,583.5 780.3,584 782.3,587.7 784.3,587.5 786.2,585.9 788.2,588.9 790.2,584.3 792.2,587.8 794.1,584.5 796.1,584.5 798.1,569.4 800,585.7 802,588.5 804,588.6 806,589.4 807.9,587 809.9,586.5 811.9,585.3 813.9,584.2 815.8,581.8 817.8,587.5 819.8,588 821.8,585.9 823.7,586.6 825.7,586.1 827.7,584.4 829.6,586.3 831.6,587.8 833.6,586.9 835.6,586.8 837.5,588.5 839.5,587 841.5,589.6 843.5,590 845.4,589.7"/>
<path fill="#000080" d="M36.5,577.9l2.6,2.6l-2.6,2.6l-2.6,-2.6zM38.5,579.9l2.6,2.6l-2.6,2.6l-2.6,-2.6zM40.5,578.9l2.6,2.6l-2.6,2.6l-2.6,-2.6zM42.5,584.9l2.6,2.6l-2.6,2.6l-2.6,-2.6zM44.5,586.9l2.6,2.6l-2.6,2.6l-2.6,-2.6zM46.5,587.9l2.6,2.6l-2.6,2.6l-2.6,-2.6zM48.5,585.9l2.6,2.6l-2.6,2.6l-2.6,-2.6zM50.5,582.9l2.6,2.6l-2.6,2.6l-2.6,-2.6zM52.5,577.9l2.6,2.6l-2.6,2.6l-2.6,-2.6zM54.5,582.9l2.6,2.6l-2.6,2.6l-2.6,-2.6zM56.5,581.9l2.6,2.6l-2.6,2.6l-2.6,-2.6zM58.5,578.9l2.6,2.6l-2.6,2.6l-2.6,-2.6zM60.5,581.9l2.6,2.6l-2.6,2.6l-2.6,-2.6zM62.5,582.9l2.6,2.6l-2.6,2.6l-2.6,-2.6zM64.5,586.9l2.6,2.6l-2.6,2.6l-2.6,-2.6zM66.5,582.9l2.6,2.6l-2.6,2.6l-2.6,-2.6zM68.5,580.9l2.6,2.6l-2.6,2.6l-2.6,-2.6zM70.5,583.9l2.6,2.6l-2.6,2.6l-2.6,-2.6zM72.5,581.9l2.6,2.6l-2.6,2.6l-2.6,-2.6zM74.5,581.9l2.6,2.6l-2.6,2.6l-2.6,-2.6zM76.5,579.9l2.6,2.6l-2.6,2.6l-2.6,-2.6zM78.5,577.9l2.6,2.6l-2.6,2.6l-2.6,-2.6zM80.5,579.9l2.6,2.6l-2.6,2.6l-2.6,-2.6zM82.5,575.9l2.6,2.6l-2.6,2.6l-2.6,-2.6zM84.5,558.9l2.6,2.6l-2.6,2.6l-2.6,-2.6zM86.5,578.9l2.6,2.6l-2.6,2.6l-2.6,-2.6zM88.5,577.9l2.6,2.6l-2.6,2.6l-2.6,-2.6zM90.5,578.9l2.6,2.6l-2.6,2.6l-2.6,-2.6zM92.5,581.9l2.6,2.6l-2.6,2.6l-2.6,-2.6zM94.5,585.9l2.6,2.6l-2.6,2.6l-2.6,-2.6zM96.5,581.9l2.6,2.6l-2.6,2.6l-2.6,-2.6zM97.5,581.9l2.6,2.6l-2.6,2.6l-2.6,-2.6zM99.5,584.9l2.6,2.6l-2.6,2.6l-2.6,-2.6zM101.5,583.9l2.6,2.6l-2.6,2.6l-2.6,-2.6zM103.5,579.9l2.6,2.6l-2.6,2.6l-2.6,-2.6zM105.5,577.9l2.6,2.6l-2.6,2.6l-2.6,-2.6zM107.5,583.9l2.6,2.6l-2.6,2.6l-2.6,-2.6zM109.5,583.9l2.6,2.6l-2.6,2.6l-2.6,-2.6zM111.5,582.9l2.6,2.6l-2.6,2.6l-2.6,-2.6zM113.5,582.9l2.6,2.6l-2.6,2.6l-2.6,-2.6zM115.5,583.9l2.6,2.6l-2.6,2.6l-2.6,-2.6zM117.5,582.9l2.6,2.6l-2.6,2.6l-2.6,-2.6zM119.5,580.9l2.6,2.6l-2.6,2.6l-2.6,-2.6zM121.5,581.9l2.6,2.6l-2.6,2.6l-2.6,-2.6zM123.5,582.9l2.6,2.6l-2.6,2.6l-2.6,-2.6zM125.5,585.9l2.6,2.6l-2.6,2.6l-2.6,-2.6zM127.5,584.9l2.6,2.6l-2.6,2.6l-2.6,-2.6zM129.5,581.9l2.6,2.6l-2.6,2.6l-2.6,-2.6zM131.5,580.9l2.6,2.6l-2.6,2.6l-2.6,-2.6zM133.5,579.9l2.6,2.6l-2.6,2.6l-2.6,-2.6zM135.5,580.9l2.6,2.6l-2.6,2.6l-2.6,-2.6zM137.5,582.9l2.6,2.6l-2.6,2.6l-2.6,-2.6zM139.5,584.9l2.6,2.6l-2.6,2.6l-2.6,-2.6zM141.5,582.9l2.6,2.6l-2.6,2.6l-2.6,-2.6zM143.5,584.9l2.6,2.6l-2.6,2.6l-2.6,-2.6zM145.5,583.9l2.6,2.6l-2.6,2.6l-2.6,-2.6zM147.5,583.9l2.6,2.6l-2.6,2.6l-2.6,-2.6zM149.5,582.9l2.6,2.6l-2.6,2.6l-2.6,-2.6zM151.5,582.9l2.6,2.6l-2.6,2.6l-2.6,-2.6zM153.5,583.9l2.6,2.6l-2.6,2.6l-2.6,-2.6zM155.5,580.9l2.6,2.6l-2.6,2.6l-2.6,-2.6zM157.5,581.9l2.6,2.6l-2.6,2.6l-2.6,-2.6zM159.5,575.9l2.6,2.6l-2.6,2.6l-2.6,-2.6zM161.5,578.9l2.6,2.6l-2.6,2.6l-2.6,-2.6zM163.5,578.9l2.6,2.6l-2.6,2.6l-2.6,-2.6zM165.5,575.9l2.6,2.6l-2.6,2.6l-2.6,-2.6zM167.5,578.9l2.6,2.6l-2.6,2.6l-2.6,-2.6zM169.5,578.9l2.6,2.6l-2.6,2.6l-2.6,-2.6zM170.5,580.9l2.6,2.6l-2.6,2.6l-2.6,-2.6zM172.5,581.9l2.6,2.6l-2.6,2.6l-2.6,-2.6zM174.5,583.9l2.6,2.6l-2.6,2.6l-2.6,-2.6zM176.5,583.9l2.6,2.6l-2.6,2.6l-2.6,-2.6zM178.5,584.9l2.6,2.6l-2.6,2.6l-2.6,-2.6zM180.5,583.9l2.6,2.6l-2.6,2.6l-2.6,-2.6zM182.5,584.9l2.6,2.6l-2.6,2.6l-2.6,-2.6zM184.5,580.9l2.6,2.6l-2.6,2.6l-2.6,-2.6zM186.5,577.9l2.6,2.6l-2.6,2.6l-2.6,-2.6zM188.5,578.9l2.6,2.6l-2.6,2.6l-2.6,-2.6zM190.5,578.9l2.6,2.6l-2.6,2.6l-2.6,-2.6zM192.5,574.9l2.6,2.6l-2.6,2.6l-2.6,-2.6zM194.5,574.9l2.6,2.6l-2.6,2.6l-2.6,-2.6zM196.5,577.9l2.6,2.6l-2.6,2.6l-2.6,-2.6zM198.5,574.9l2.6,2.6l-2.6,2.6l-2.6,-2.6zM200.5,576.9l2.6,2.6l-2.6,2.6l-2.6,-2.6zM202.5,577.9l2.6,2.6l-2.6,2.6l-2.6,-2.6zM204.5,579.9l2.6,2.6l-2.6,2.6l-2.6,-2.6zM206.5,577.9l2.6,2.6l-2.6,2.6l-2.6,-2.6zM208.5,574.9l2.6,2.6l-2.6,2.6l-2.6,-2.6zM210.5,576.9l2.6,2.6l-2.6,2.6l-2.6,-2.6zM212.5,575.9l2.6,2.6l-2.6,2.6l-2.6,-2.6zM214.5,583.9l2.6,2.6l-2.6,2.6l-2.6,-2.6zM216.5,580.9l2.6,2.6l-2.6,2.6l-2.6,-2.6zM218.5,580.9l2.6,2.6l-2.6,2.6l-2.6,-2.6zM220.5,576.9l2.6,2.6l-2.6,2.6l-2.6,-2.6zM222.5,577.9l2.6,2.6l-2.6,2.6l-2.6,-2.6zM224.5,579.9l2.6,2.6l-2.6,2.6l-2.6,-2.6zM226.5,577.9l2.6,2.6l-2.6,2.6l-2.6,-2.6zM228.5,573.9l2.6,2.6l-2.6,2.6l-2.6,-2.6zM230.5,562.9l2.6,2.6l-2.6,2.6l-2.6,-2.6zM232.5,578.9l2.6,2.6l-2.6,2.6l-2.6,-2.6zM234.5,578.9l2.6,2.6l-2.6,2.6l-2.6,-2.6zM236.5,580.9l2.6,2.6l-2.6,2.6l-2.6,-2.6zM238.5,572.9l2.6,2.6l-2.6,2.6l-2.6,-2.6zM240.5,573.9l2.6,2.6l-2.6,2.6l-2.6,-2.6zM242.5,573.9l2.6,2.6l-2.6,2.6l-2.6,-2.6zM244.5,570.9l2.6,2.6l-2.6,2.6l-2.6,-2.6zM245.5,551.9l2.6,2.6l-2.6,2.6l-2.6,-2.6zM247.5,556.9l2.6,2.6l-2.6,2.6l-2.6,-2.6zM249.5,560.9l2.6,2.6l-2.6,2.6l-2.6,-2.6zM251.5,581.9l2.6,2.6l-2.6,2.6l-2.6,-2.6zM253.5,568.9l2.6,2.6l-2.6,2.6l-2.6,-2.6zM255.5,543.9l2.6,2.6l-2.6,2.6l-2.6,-2.6zM257.5,578.9l2.6,2.6l-2.6,2.6l-2.6,-2.6zM259.5,571.9l2.6,2.6l-2.6,2.6l-2.6,-2.6zM261.5,572.9l2.6,2.6l-2.6,2.6l-2.6,-2.6zM263.5,575.9l2.6,2.6l-2.6,2.6l-2.6,-2.6zM265.5,573.9l2.6,2.6l-2.6,2.6l-2.6,-2.6zM267.5,570.9l2.6,2.6l-2.6,2.6l-2.6,-2.6zM269.5,576.9l2.6,2.6l-2.6,2.6l-2.6,-2.6zM271.5,581.9l2.6,2.6l-2.6,2.6l-2.6,-2.6zM273.5,578.9l2.6,2.6l-2.6,2.6l-2.6,-2.6zM275.5,580.9l2.6,2.6l-2.6,2.6l-2.6,-2.6zM277.5,579.9l2.6,2.6l-2.6,2.6l-2.6,-2.6zM279.5,572.9l2.6,2.6l-2.6,2.6l-2.6,-2.6zM281.5,570.9l2.6,2.6l-2.6,2.6l-2.6,-2.6zM283.5,585.9l2.6,2.6l-2.6,2.6l-2.6,-2.6zM285.5,583.9l2.6,2.6l-2.6,2.6l-2.6,-2.6zM287.5,578.9l2.6,2.6l-2.6,2.6l-2.6,-2.6zM289.5,577.9l2.6,2.6l-2.6,2.6l-2.6,-2.6zM291.5,581.9l2.6,2.6l-2.6,2.6l-2.6,-2.6zM293.5,574.9l2.6,2.6l-2.6,2.6l-2.6,-2.6zM295.5,580.9l2.6,2.6l-2.6,2.6l-2.6,-2.6zM297.5,580.9l2.6,2.6l-2.6,2.6l-2.6,-2.6zM299.5,581.9l2.6,2.6l-2.6,2.6l-2.6,-2.6zM301.5,578.9l2.6,2.6l-2.6,2.6l-2.6,-2.6zM303.5,577.9l2.6,2.6l-2.6,2.6l-2.6,-2.6zM305.5,576.9l2.6,2.6l-2.6,2.6l-2.6,-2.6zM307.5,579.9l2.6,2.6l-2.6,2.6l-2.6,-2.6zM309.5,578.9l2.6,2.6l-2.6,2.6l-2.6,-2.6zM311.5,573.9l2.6,2.6l-2.6,2.6l-2.6,-2.6zM313.5,585.9l2.6,2.6l-2.6,2.6l-2.6,-2.6zM315.5,581.9l2.6,2.6l-2.6,2.6l-2.6,-2.6zM317.5,582.9l2.6,2.6l-2.6,2.6l-2.6,-2.6zM319.5,577.9l2.6,2.6l-2.6,2.6l-2.6,-2.6zM320.5,581.9l2.6,2.6l-2.6,2.6l-2.6,-2.6zM322.5,583.9l2.6,2.6l-2.6,2.6l-2.6,-2.6zM324.5,581.9l2.6,2.6l-2.6,2.6l-2.6,-2.6zM326.5,574.9l2.6,2.6l-2.6,2.6l-2.6,-2.6zM328.5,584.9l2.6,2.6l-2.6,2.6l-2.6,-2.6zM330.5,581.9l2.6,2.6l-2.6,2.6l-2.6,-2.6zM332.5,582.9l2.6,2.6l-2.6,2.6l-2.6,-2.6zM334.5,572.9l2.6,2.6l-2.6,2.6l-2.6,-2.6zM336.5,578.9l2.6,2.6l-2.6,2.6l-2.6,-2.6zM338.5,564.9l2.6,2.6l-2.6,2.6l-2.6,-2.6zM340.5,576.9l2.6,2.6l-2.6,2.6l-2.6,-2.6zM342.5,576.9l2.6,2.6l-2.6,2.6l-2.6,-2.6zM344.5,581.9l2.6,2.6l-2.6,2.6l-2.6,-2.6zM346.5,577.9l2.6,2.6l-2.6,2.6l-2.6,-2.6zM348.5,576.9l2.6,2.6l-2.6,2.6l-2.6,-2.6zM350.5,578.9l2.6,2.6l-2.6,2.6l-2.6,-2.6zM352.5,582.9l2.6,2.6l-2.6,2.6l-2.6,-2.6zM354.5,580.9l2.6,2.6l-2.6,2.6l-2.6,-2.6zM356.5,576.9l2.6,2.6l-2.6,2.6l-2.6,-2.6zM358.5,577.9l2.6,2.6l-2.6,2.6l-2.6,-2.6zM360.5,578.9l2.6,2.6l-2.6,2.6l-2.6,-2.6zM362.5,582.9l2.6,2.6l-2.6,2.6l-2.6,-2.6zM364.5,584.9l2.6,2.6l-2.6,2.6l-2.6,-2.6zM366.5,579.9l2.6,2.6l-2.6,2.6l-2.6,-2.6zM368.5,578.9l2.6,2.6l-2.6,2.6l-2.6,-2.6zM370.5,580.9l2.6,2.6l-2.6,2.6l-2.6,-2.6zM372.5,580.9l2.6,2.6l-2.6,2.6l-2.6,-2.6zM374.5,577.9l2.6,2.6l-2.6,2.6l-2.6,-2.6zM376.5,576.9l2.6,2.6l-2.6,2.6l-2.6,-2.6zM378.5,575.9l2.6,2.6l-2.6,2.6l-2.6,-2.6zM380.5,578.9l2.6,2.6l-2.6,2.6l-2.6,-2.6zM382.5,578.9l2.6,2.6l-2.6,2.6l-2.6,-2.6zM384.5,581.9l2.6,2.6l-2.6,2.6l-2.6,-2.6zM386.5,580.9l2.6,2.6l-2.6,2.6l-2.6,-2.6zM388.5,580.9l2.6,2.6l-2.6,2.6l-2.6,-2.6zM390.5,577.9l2.6,2.6l-2.6,2.6l-2.6,-2.6zM392.5,566.9l2.6,2.6l-2.6,2.6l-2.6,-2.6zM394.5,578.9l2.6,2.6l-2.6,2.6l-2.6,-2.6zM395.5,577.9l2.6,2.6l-2.6,2.6l-2.6,-2.6zM397.5,580.9l2.6,2.6l-2.6,2.6l-2.6,-2.6zM399.5,580.9l2.6,2.6l-2.6,2.6l-2.6,-2.6zM401.5,583.9l2.6,2.6l-2.6,2.6l-2.6,-2.6zM403.5,581.9l2.6,2.6l-2.6,2.6l-2.6,-2.6zM405.5,581.9l2.6,2.6l-2.6,2.6l-2.6,-2.6zM407.5,585.9l2.6,2.6l-2.6,2.6l-2.6,-2.6zM409.5,583.9l2.6,2.6l-2.6,2.6l-2.6,-2.6zM411.5,581.9l2.6,2.6l-2.6,2.6l-2.6,-2.6zM413.5,577.9l2.6,2.6l-2.6,2.6l-2.6,-2.6zM415.5,582.9l2.6,2.6l-2.6,2.6l-2.6,-2.6zM417.5,582.9l2.6,2.6l-2.6,2.6l-2.6,-2.6zM419.5,583.9l2.6,2.6l-2.6,2.6l-2.6,-2.6zM421.5,579.9l2.6,2.6l-2.6,2.6l-2.6,-2.6zM423.5,579.9l2.6,2.6l-2.6,2.6l-2.6,-2.6zM425.5,575.9l2.6,2.6l-2.6,2.6l-2.6,-2.6zM427.5,581.9l2.6,2.6l-2.6,2.6l-2.6,-2.6zM429.5,580.9l2.6,2.6l-2.6,2.6l-2.6,-2.6zM431.5,580.9l2.6,2.6l-2.6,2.6l-2.6,-2.6zM433.5,581.9l2.6,2.6l-2.6,2.6l-2.6,-2.6zM435.5,582.9l2.6,2.6l-2.6,2.6l-2.6,-2.6zM437.5,578.9l2.6,2.6l-2.6,2.6l-2.6,-2.6zM439.5,577.9l2.6,2.6l-2.6,2.6l-2.6,-2.6zM441.5,578.9l2.6,2.6l-2.6,2.6l-2.6,-2.6zM443.5,579.9l2.6,2.6l-2.6,2.6l-2.6,-2.6zM445.5,573.9l2.6,2.6l-2.6,2.6l-2.6,-2.6zM447.5,567.9l2.6,2.6l-2.6,2.6l-2.6,-2.6zM449.5,579.9l2.6,2.6l-2.6,2.6l-2.6,-2.6zM451.5,579.9l2.6,2.6l-2.6,2.6l-2.6,-2.6zM453.5,576.9l2.6,2.6l-2.6,2.6l-2.6,-2.6zM455.5,578.9l2.6,2.6l-2.6,2.6l-2.6,-2.6zM457.5,582.9l2.6,2.6l-2.6,2.6l-2.6,-2.6zM459.5,580.9l2.6,2.6l-2.6,2.6l-2.6,-2.6zM461.5,582.9l2.6,2.6l-2.6,2.6l-2.6,-2.6zM463.5,583.9l2.6,2.6l-2.6,2.6l-2.6,-2.6zM465.5,578.9l2.6,2.6l-2.6,2.6l-2.6,-2.6zM467.5,573.9l2.6,2.6l-2.6,2.6l-2.6,-2.6zM468.5,577.9l2.6,2.6l-2.6,2.6l-2.6,-2.6zM470.5,584.9l2.6,2.6l-2.6,2.6l-2.6,-2.6zM472.5,583.9l2.6,2.6l-2.6,2.6l-2.6,-2.6zM474.5,585.9l2.6,2.6l-2.6,2.6l-2.6,-2.6zM476.5,574.9l2.6,2.6l-2.6,2.6l-2.6,-2.6zM478.5,567.9l2.6,2.6l-2.6,2.6l-2.6,-2.6zM480.5,584.9l2.6,2.6l-2.6,2.6l-2.6,-2.6zM482.5,580.9l2.6,2.6l-2.6,2.6l-2.6,-2.6zM484.5,576.9l2.6,2.6l-2.6,2.6l-2.6,-2.6zM486.5,575.9l2.6,2.6l-2.6,2.6l-2.6,-2.6zM488.5,581.9l2.6,2.6l-2.6,2.6l-2.6,-2.6zM490.5,584.9l2.6,2.6l-2.6,2.6l-2.6,-2.6zM492.5,582.9l2.6,2.6l-2.6,2.6l-2.6,-2.6zM494.5,581.9l2.6,2.6l-2.6,2.6l-2.6,-2.6zM496.5,581.9l2.6,2.6l-2.6,2.6l-2.6,-2.6zM498.5,577.9l2.6,2.6l-2.6,2.6l-2.6,-2.6zM500.5,585.9l2.6,2.6l-2.6,2.6l-2.6,-2.6zM502.5,586.9l2.6,2.6l-2.6,2.6l-2.6,-2.6zM504.5,582.9l2.6,2.6l-2.6,2.6l-2.6,-2.6zM506.5,576.9l2.6,2.6l-2.6,2.6l-2.6,-2.6zM508.5,573.9l2.6,2.6l-2.6,2.6l-2.6,-2.6zM510.5,581.9l2.6,2.6l-2.6,2.6l-2.6,-2.6zM512.5,582.9l2.6,2.6l-2.6,2.6l-2.6,-2.6zM514.5,580.9l2.6,2.6l-2.6,2.6l-2.6,-2.6zM516.5,582.9l2.6,2.6l-2.6,2.6l-2.6,-2.6zM518.5,581.9l2.6,2.6l-2.6,2.6l-2.6,-2.6zM520.5,581.9l2.6,2.6l-2.6,2.6l-2.6,-2.6zM522.5,573.9l2.6,2.6l-2.6,2.6l-2.6,-2.6zM524.5,575.9l2.6,2.6l-2.6,2.6l-2.6,-2.6zM526.5,580.9l2.6,2.6l-2.6,2.6l-2.6,-2.6zM528.5,587.9l2.6,2.6l-2.6,2.6l-2.6,-2.6zM530.5,583.9l2.6,2.6l-2.6,2.6l-2.6,-2.6zM532.5,576.9l2.6,2.6l-2.6,2.6l-2.6,-2.6zM534.5,578.9l2.6,2.6l-2.6,2.6l-2.6,-2.6zM536.5,572.9l2.6,2.6l-2.6,2.6l-2.6,-2.6zM538.5,567.9l2.6,2.6l-2.6,2.6l-2.6,-2.6zM540.5,578.9l2.6,2.6l-2.6,2.6l-2.6,-2.6zM542.5,579.9l2.6,2.6l-2.6,2.6l-2.6,-2.6zM543.5,578.9l2.6,2.6l-2.6,2.6l-2.6,-2.6zM545.5,575.9l2.6,2.6l-2.6,2.6l-2.6,-2.6zM547.5,580.9l2.6,2.6l-2.6,2.6l-2.6,-2.6zM549.5,565.9l2.6,2.6l-2.6,2.6l-2.6,-2.6zM551.5,571.9l2.6,2.6l-2.6,2.6l-2.6,-2.6zM553.5,572.9l2.6,2.6l-2.6,2.6l-2.6,-2.6zM555.5,572.9l2.6,2.6l-2.6,2.6l-2.6,-2.6zM557.5,572.9l2.6,2.6l-2.6,2.6l-2.6,-2.6zM559.5,565.9l2.6,2.6l-2.6,2.6l-2.6,-2.6zM561.5,562.9l2.6,2.6l-2.6,2.6l-2.6,-2.6zM563.5,578.9l2.6,2.6l-2.6,2.6l-2.6,-2.6zM565.5,574.9l2.6,2.6l-2.6,2.6l-2.6,-2.6zM567.5,570.9l2.6,2.6l-2.6,2.6l-2.6,-2.6zM569.5,570.9l2.6,2.6l-2.6,2.6l-2.6,-2.6zM571.5,575.9l2.6,2.6l-2.6,2.6l-2.6,-2.6zM573.5,572.9l2.6,2.6l-2.6,2.6l-2.6,-2.6zM575.5,570.9l2.6,2.6l-2.6,2.6l-2.6,-2.6zM577.5,575.9l2.6,2.6l-2.6,2.6l-2.6,-2.6zM579.5,567.9l2.6,2.6l-2.6,2.6l-2.6,-2.6zM581.5,560.9l2.6,2.6l-2.6,2.6l-2.6,-2.6zM583.5,571.9l2.6,2.6l-2.6,2.6l-2.6,-2.6zM585.5,578.9l2.6,2.6l-2.6,2.6l-2.6,-2.6zM587.5,577.9l2.6,2.6l-2.6,2.6l-2.6,-2.6zM589.5,576.9l2.6,2.6l-2.6,2.6l-2.6,-2.6zM591.5,578.9l2.6,2.6l-2.6,2.6l-2.6,-2.6zM593.5,566.9l2.6,2.6l-2.6,2.6l-2.6,-2.6zM595.5,571.9l2.6,2.6l-2.6,2.6l-2.6,-2.6zM597.5,558.9l2.6,2.6l-2.6,2.6l-2.6,-2.6zM599.5,575.9l2.6,2.6l-2.6,2.6l-2.6,-2.6zM601.5,579.9l2.6,2.6l-2.6,2.6l-2.6,-2.6zM603.5,580.9l2.6,2.6l-2.6,2.6l-2.6,-2.6zM605.5,578.9l2.6,2.6l-2.6,2.6l-2.6,-2.6zM607.5,578.9l2.6,2.6l-2.6,2.6l-2.6,-2.6zM609.5,576.9l2.6,2.6l-2.6,2.6l-2.6,-2.6zM611.5,585.9l2.6,2.6l-2.6,2.6l-2.6,-2.6zM613.5,575.9l2.6,2.6l-2.6,2.6l-2.6,-2.6zM615.5,565.9l2.6,2.6l-2.6,2.6l-2.6,-2.6zM617.5,574.9l2.6,2.6l-2.6,2.6l-2.6,-2.6zM618.5,571.9l2.6,2.6l-2.6,2.6l-2.6,-2.6zM620.5,578.9l2.6,2.6l-2.6,2.6l-2.6,-2.6zM622.5,583.9l2.6,2.6l-2.6,2.6l-2.6,-2.6zM624.5,576.9l2.6,2.6l-2.6,2.6l-2.6,-2.6zM626.5,579.9l2.6,2.6l-2.6,2.6l-2.6,-2.6zM628.5,582.9l2.6,2.6l-2.6,2.6l-2.6,-2.6zM630.5,579.9l2.6,2.6l-2.6,2.6l-2.6,-2.6zM632.5,580.9l2.6,2.6l-2.6,2.6l-2.6,-2.6zM634.5,578.9l2.6,2.6l-2.6,2.6l-2.6,-2.6zM636.5,583.9l2.6,2.6l-2.6,2.6l-2.6,-2.6zM638.5,582.9l2.6,2.6l-2.6,2.6l-2.6,-2.6zM640.5,581.9l2.6,2.6l-2.6,2.6l-2.6,-2.6zM642.5,584.9l2.6,2.6l-2.6,2.6l-2.6,-2.6zM644.5,581.9l2.6,2.6l-2.6,2.6l-2.6,-2.6zM646.5,581.9l2.6,2.6l-2.6,2.6l-2.6,-2.6zM648.5,577.9l2.6,2.6l-2.6,2.6l-2.6,-2.6zM650.5,581.9l2.6,2.6l-2.6,2.6l-2.6,-2.6zM652.5,587.9l2.6,2.6l-2.6,2.6l-2.6,-2.6zM654.5,584.9l2.6,2.6l-2.6,2.6l-2.6,-2.6zM656.5,582.9l2.6,2.6l-2.6,2.6l-2.6,-2.6zM658.5,581.9l2.6,2.6l-2.6,2.6l-2.6,-2.6zM660.5,582.9l2.6,2.6l-2.6,2.6l-2.6,-2.6zM662.5,581.9l2.6,2.6l-2.6,2.6l-2.6,-2.6zM664.5,583.9l2.6,2.6l-2.6,2.6l-2.6,-2.6zM666.5,583.9l2.6,2.6l-2.6,2.6l-2.6,-2.6zM668.5,583.9l2.6,2.6l-2.6,2.6l-2.6,-2.6zM670.5,581.9l2.6,2.6l-2.6,2.6l-2.6,-2.6zM672.5,582.9l2.6,2.6l-2.6,2.6l-2.6,-2.6zM674.5,576.9l2.6,2.6l-2.6,2.6l-2.6,-2.6zM676.5,571.9l2.6,2.6l-2.6,2.6l-2.6,-2.6zM678.5,580.9l2.6,2.6l-2.6,2.6l-2.6,-2.6zM680.5,579.9l2.6,2.6l-2.6,2.6l-2.6,-2.6zM682.5,578.9l2.6,2.6l-2.6,2.6l-2.6,-2.6zM684.5,582.9l2.6,2.6l-2.6,2.6l-2.6,-2.6zM686.5,583.9l2.6,2.6l-2.6,2.6l-2.6,-2.6zM688.5,580.9l2.6,2.6l-2.6,2.6l-2.6,-2.6zM690.5,581.9l2.6,2.6l-2.6,2.6l-2.6,-2.6zM692.5,579.9l2.6,2.6l-2.6,2.6l-2.6,-2.6zM693.5,574.9l2.6,2.6l-2.6,2.6l-2.6,-2.6zM695.5,576.9l2.6,2.6l-2.6,2.6l-2.6,-2.6zM697.5,579.9l2.6,2.6l-2.6,2.6l-2.6,-2.6zM699.5,573.9l2.6,2.6l-2.6,2.6l-2.6,-2.6zM701.5,582.9l2.6,2.6l-2.6,2.6l-2.6,-2.6zM703.5,585.9l2.6,2.6l-2.6,2.6l-2.6,-2.6zM705.5,581.9l2.6,2.6l-2.6,2.6l-2.6,-2.6zM707.5,581.9l2.6,2.6l-2.6,2.6l-2.6,-2.6zM709.5,583.9l2.6,2.6l-2.6,2.6l-2.6,-2.6zM711.5,581.9l2.6,2.6l-2.6,2.6l-2.6,-2.6zM713.5,580.9l2.6,2.6l-2.6,2.6l-2.6,-2.6zM715.5,576.9l2.6,2.6l-2.6,2.6l-2.6,-2.6zM717.5,582.9l2.6,2.6l-2.6,2.6l-2.6,-2.6zM719.5,583.9l2.6,2.6l-2.6,2.6l-2.6,-2.6zM721.5,586.9l2.6,2.6l-2.6,2.6l-2.6,-2.6zM723.5,585.9l2.6,2.6l-2.6,2.6l-2.6,-2.6zM725.5,581.9l2.6,2.6l-2.6,2.6l-2.6,-2.6zM727.5,580.9l2.6,2.6l-2.6,2.6l-2.6,-2.6zM729.5,581.9l2.6,2.6l-2.6,2.6l-2.6,-2.6zM731.5,583.9l2.6,2.6l-2.6,2.6l-2.6,-2.6zM733.5,586.9l2.6,2.6l-2.6,2.6l-2.6,-2.6zM735.5,586.9l2.6,2.6l-2.6,2.6l-2.6,-2.6zM737.5,585.9l2.6,2.6l-2.6,2.6l-2.6,-2.6zM739.5,583.9l2.6,2.6l-2.6,2.6l-2.6,-2.6zM741.5,580.9l2.6,2.6l-2.6,2.6l-2.6,-2.6zM743.5,582.9l2.6,2.6l-2.6,2.6l-2.6,-2.6zM745.5,576.9l2.6,2.6l-2.6,2.6l-2.6,-2.6zM747.5,580.9l2.6,2.6l-2.6,2.6l-2.6,-2.6zM749.5,582.9l2.6,2.6l-2.6,2.6l-2.6,-2.6zM751.5,582.9l2.6,2.6l-2.6,2.6l-2.6,-2.6zM753.5,584.9l2.6,2.6l-2.6,2.6l-2.6,-2.6zM755.5,581.9l2.6,2.6l-2.6,2.6l-2.6,-2.6zM757.5,584.9l2.6,2.6l-2.6,2.6l-2.6,-2.6zM759.5,585.9l2.6,2.6l-2.6,2.6l-2.6,-2.6zM761.5,578.9l2.6,2.6l-2.6,2.6l-2.6,-2.6zM763.5,580.9l2.6,2.6l-2.6,2.6l-2.6,-2.6zM765.5,582.9l2.6,2.6l-2.6,2.6l-2.6,-2.6zM766.5,579.9l2.6,2.6l-2.6,2.6l-2.6,-2.6zM768.5,584.9l2.6,2.6l-2.6,2.6l-2.6,-2.6zM770.5,583.9l2.6,2.6l-2.6,2.6l-2.6,-2.6zM772.5,578.9l2.6,2.6l-2.6,2.6l-2.6,-2.6zM774.5,580.9l2.6,2.6l-2.6,2.6l-2.6,-2.6zM776.5,582.9l2.6,2.6l-2.6,2.6l-2.6,-2.6zM778.5,581.9l2.6,2.6l-2.6,2.6l-2.6,-2.6zM780.5,581.9l2.6,2.6l-2.6,2.6l-2.6,-2.6zM782.5,585.9l2.6,2.6l-2.6,2.6l-2.6,-2.6zM784.5,584.9l2.6,2.6l-2.6,2.6l-2.6,-2.6zM786.5,583.9l2.6,2.6l-2.6,2.6l-2.6,-2.6zM788.5,586.9l2.6,2.6l-2.6,2.6l-2.6,-2.6zM790.5,581.9l2.6,2.6l-2.6,2.6l-2.6,-2.6zM792.5,585.9l2.6,2.6l-2.6,2.6l-2.6,-2.6zM794.5,582.9l2.6,2.6l-2.6,2.6l-2.6,-2.6zM796.5,581.9l2.6,2.6l-2.6,2.6l-2.6,-2.6zM798.5,566.9l2.6,2.6l-2.6,2.6l-2.6,-2.6zM800.5,583.9l2.6,2.6l-2.6,2.6l-2.6,-2.6zM802.5,585.9l2.6,2.6l-2.6,2.6l-2.6,-2.6zM804.5,586.9l2.6,2.6l-2.6,2.6l-2.6,-2.6zM806.5,586.9l2.6,2.6l-2.6,2.6l-2.6,-2.6zM808.5,584.9l2.6,2.6l-2.6,2.6l-2.6,-2.6zM810.5,584.9l2.6,2.6l-2.6,2.6l-2.6,-2.6zM812.5,582.9l2.6,2.6l-2.6,2.6l-2.6,-2.6zM814.5,581.9l2.6,2.6l-2.6,2.6l-2.6,-2.6zM816.5,579.9l2.6,2.6l-2.6,2.6l-2.6,-2.6zM818.5,584.9l2.6,2.6l-2.6,2.6l-2.6,-2.6zM820.5,585.9l2.6,2.6l-2.6,2.6l-2.6,-2.6zM822.5,583.9l2.6,2.6l-2.6,2.6l-2.6,-2.6zM824.5,584.9l2.6,2.6l-2.6,2.6l-2.6,-2.6zM826.5,583.9l2.6,2.6l-2.6,2.6l-2.6,-2.6zM828.5,581.9l2.6,2.6l-2.6,2.6l-2.6,-2.6zM830.5,583.9l2.6,2.6l-2.6,2.6l-2.6,-2.6zM832.5,585.9l2.6,2.6l-2.6,2.6l-2.6,-2.6zM834.5,584.9l2.6,2.6l-2.6,2.6l-2.6,-2.6zM836.5,584.9l2.6,2.6l-2.6,2.6l-2.6,-2.6zM838.5,585.9l2.6,2.6l-2.6,2.6l-2.6,-2.6zM840.5,584.9l2.6,2.6l-2.6,2.6l-2.6,-2.6zM841.5,587.9l2.6,2.6l-2.6,2.6l-2.6,-2.6zM843.5,587.9l2.6,2.6l-2.6,2.6l-2.6,-2.6zM845.5,587.9l2.6,2.6l-2.6,2.6l-2.6,-2.6z"/>
<line x1="36" x2="491" y1="592.5" y2="592.5" stroke="#FFFF00" stroke-width="1" shape-rendering="crispEdges"/>
<polyline fill="none" stroke="#FFFF00" stroke-width="1" shape-rendering="crispEdges" points="490.5,592.5 491,585 492.4,560 495,541 496.6,563 498.4,549 500.6,582 502.4,548 504.4,546.6 506.4,564 508.6,512 510.6,553 512.6,551.6 514.6,573 516.6,547.6 518.6,567.6 522,539 524.4,555 526.4,556 528.4,566 530.4,546 532.4,559 534,560 536.6,529 538.6,552 540.6,528 542,561 543.6,523 546,555 548.4,555 550,517 552,551 553.4,530 555.4,514.4 558,583 559.6,496 561,478 563.4,504 565.4,528.4 567.4,513 569.4,516.4 571.4,501 573.4,500 575.4,511 578,501 579.6,402.4 581.6,459 583,498 585.4,524 587,478 589,507 591.6,447.4 593.6,500 595.6,481 596.6,476 599.4,515 601.4,518 603.4,549 605,499 607,528 609.6,555 611.4,529.6 613,482.4 615,463.6 616.6,487 618.6,474 621.4,542.4 623,528 625,495 627,506 628.4,527 631.4,553 633,539 634.4,481 638,536 641,554 642.4,510 643.6,553 646,546 648.4,515.6 651,557.4 653,545 655,545.6 657,533.6 659.6,517.6 662.4,555.6 664,543 666,515.6 668.4,490.6 670,513 672,501 674.4,499.6 676.4,393 678,515.6 680,527.6 682,521 684.4,538 687,521 689.6,539.6 691.6,501 694,470 696,533 698,497 700,532.4 701.6,522 704,556.4 706.4,513 709,518 711,518 713,515 715,513 716,486.4 718.4,537 720,528 721.6,545.6 723.6,528 726.4,533.6 729,529.6 731.6,511 733.6,535 735.6,526 737.4,522.4 739.4,532 741.6,505.6 743.2,539 745.6,402.4 748,527.6 749.6,521.6 751.6,494.4 753.6,508 755,482.4 757.6,533 759.4,537.6 761.4,494.4 763.4,529 765,542.4 767.4,521.6 769.4,551 771,565 772.6,479 775,497 777.6,520 779.6,537 781.4,512.4 783,557 785,556.4 786.6,533.6 789,530 791,557.6 792.4,517 794,487.6 796.6,537 799,402 801.3,539.4 802.6,546 804.3,502.6 806.3,514.8 808.7,532 810.7,545 812.4,503.8 814.4,528.3 816.6,473.1 818.5,502.6 820.5,491.5 822.7,521 824.7,513.6 825.9,517.3 827.9,469 829.6,497.7 832,500.1 834,492.8 835.7,485.4 837.7,506.3 840.1,495.2 842.6,522.9 844.3,523.4"/>
<path fill="#FFFF00" d="M491.5,582.5l2.6,5h-5.2zM492.5,557.5l2.6,5h-5.2zM495.5,538.5l2.6,5h-5.2zM497.5,560.5l2.6,5h-5.2zM498.5,546.5l2.6,5h-5.2zM501.5,579.5l2.6,5h-5.2zM502.5,545.5l2.6,5h-5.2zM504.5,544.5l2.6,5h-5.2zM506.5,561.5l2.6,5h-5.2zM509.5,509.5l2.6,5h-5.2zM511.5,550.5l2.6,5h-5.2zM513.5,549.5l2.6,5h-5.2zM515.5,570.5l2.6,5h-5.2zM517.5,545.5l2.6,5h-5.2zM519.5,565.5l2.6,5h-5.2zM522.5,536.5l2.6,5h-5.2zM524.5,552.5l2.6,5h-5.2zM526.5,553.5l2.6,5h-5.2zM528.5,563.5l2.6,5h-5.2zM530.5,543.5l2.6,5h-5.2zM532.5,556.5l2.6,5h-5.2zM534.5,557.5l2.6,5h-5.2zM537.5,526.5l2.6,5h-5.2zM539.5,549.5l2.6,5h-5.2zM541.5,525.5l2.6,5h-5.2zM542.5,558.5l2.6,5h-5.2zM544.5,520.5l2.6,5h-5.2zM546.5,552.5l2.6,5h-5.2zM548.5,552.5l2.6,5h-5.2zM550.5,514.5l2.6,5h-5.2zM552.5,548.5l2.6,5h-5.2zM553.5,527.5l2.6,5h-5.2zM555.5,511.5l2.6,5h-5.2zM558.5,580.5l2.6,5h-5.2zM560.5,493.5l2.6,5h-5.2zM561.5,475.5l2.6,5h-5.2zM563.5,501.5l2.6,5h-5.2zM565.5,525.5l2.6,5h-5.2zM567.5,510.5l2.6,5h-5.2zM569.5,513.5l2.6,5h-5.2zM571.5,498.5l2.6,5h-5.2zM573.5,497.5l2.6,5h-5.2zM575.5,508.5l2.6,5h-5.2zM578.5,498.5l2.6,5h-5.2zM580.5,399.5l2.6,5h-5.2zM582.5,456.5l2.6,5h-5.2zM583.5,495.5l2.6,5h-5.2zM585.5,521.5l2.6,5h-5.2zM587.5,475.5l2.6,5h-5.2zM589.5,504.5l2.6,5h-5.2zM592.5,444.5l2.6,5h-5.2zM594.5,497.5l2.6,5h-5.2zM596.5,478.5l2.6,5h-5.2zM597.5,473.5l2.6,5h-5.2zM599.5,512.5l2.6,5h-5.2zM601.5,515.5l2.6,5h-5.2zM603.5,546.5l2.6,5h-5.2zM605.5,496.5l2.6,5h-5.2zM607.5,525.5l2.6,5h-5.2zM610.5,552.5l2.6,5h-5.2zM611.5,527.5l2.6,5h-5.2zM613.5,479.5l2.6,5h-5.2zM615.5,461.5l2.6,5h-5.2zM617.5,484.5l2.6,5h-5.2zM619.5,471.5l2.6,5h-5.2zM621.5,539.5l2.6,5h-5.2zM623.5,525.5l2.6,5h-5.2zM625.5,492.5l2.6,5h-5.2zM627.5,503.5l2.6,5h-5.2zM628.5,524.5l2.6,5h-5.2zM631.5,550.5l2.6,5h-5.2zM633.5,536.5l2.6,5h-5.2zM634.5,478.5l2.6,5h-5.2zM638.5,533.5l2.6,5h-5.2zM641.5,551.5l2.6,5h-5.2zM642.5,507.5l2.6,5h-5.2zM644.5,550.5l2.6,5h-5.2zM646.5,543.5l2.6,5h-5.2zM648.5,513.5l2.6,5h-5.2zM651.5,554.5l2.6,5h-5.2zM653.5,542.5l2.6,5h-5.2zM655.5,543.5l2.6,5h-5.2zM657.5,531.5l2.6,5h-5.2zM660.5,515.5l2.6,5h-5.2zM662.5,553.5l2.6,5h-5.2zM664.5,540.5l2.6,5h-5.2zM666.5,513.5l2.6,5h-5.2zM668.5,488.5l2.6,5h-5.2zM670.5,510.5l2.6,5h-5.2zM672.5,498.5l2.6,5h-5.2zM674.5,497.5l2.6,5h-5.2zM676.5,390.5l2.6,5h-5.2zM678.5,513.5l2.6,5h-5.2zM680.5,525.5l2.6,5h-5.2zM682.5,518.5l2.6,5h-5.2zM684.5,535.5l2.6,5h-5.2zM687.5,518.5l2.6,5h-5.2zM690.5,537.5l2.6,5h-5.2zM692.5,498.5l2.6,5h-5.2zM694.5,467.5l2.6,5h-5.2zM696.5,530.5l2.6,5h-5.2zM698.5,494.5l2.6,5h-5.2zM700.5,529.5l2.6,5h-5.2zM702.5,519.5l2.6,5h-5.2zM704.5,553.5l2.6,5h-5.2zM706.5,510.5l2.6,5h-5.2zM709.5,515.5l2.6,5h-5.2zM711.5,515.5l2.6,5h-5.2zM713.5,512.5l2.6,5h-5.2zM715.5,510.5l2.6,5h-5.2zM716.5,483.5l2.6,5h-5.2zM718.5,534.5l2.6,5h-5.2zM720.5,525.5l2.6,5h-5.2zM722.5,543.5l2.6,5h-5.2zM724.5,525.5l2.6,5h-5.2zM726.5,531.5l2.6,5h-5.2zM729.5,527.5l2.6,5h-5.2zM732.5,508.5l2.6,5h-5.2zM734.5,532.5l2.6,5h-5.2zM736.5,523.5l2.6,5h-5.2zM737.5,519.5l2.6,5h-5.2zM739.5,529.5l2.6,5h-5.2zM742.5,503.5l2.6,5h-5.2zM743.5,536.5l2.6,5h-5.2zM746.5,399.5l2.6,5h-5.2zM748.5,525.5l2.6,5h-5.2zM750.5,519.5l2.6,5h-5.2zM752.5,491.5l2.6,5h-5.2zM754.5,505.5l2.6,5h-5.2zM755.5,479.5l2.6,5h-5.2zM758.5,530.5l2.6,5h-5.2zM759.5,535.5l2.6,5h-5.2zM761.5,491.5l2.6,5h-5.2zM763.5,526.5l2.6,5h-5.2zM765.5,539.5l2.6,5h-5.2zM767.5,519.5l2.6,5h-5.2zM769.5,548.5l2.6,5h-5.2zM771.5,562.5l2.6,5h-5.2zM773.5,476.5l2.6,5h-5.2zM775.5,494.5l2.6,5h-5.2zM778.5,517.5l2.6,5h-5.2zM780.5,534.5l2.6,5h-5.2zM781.5,509.5l2.6,5h-5.2zM783.5,554.5l2.6,5h-5.2zM785.5,553.5l2.6,5h-5.2zM787.5,531.5l2.6,5h-5.2zM789.5,527.5l2.6,5h-5.2zM791.5,555.5l2.6,5h-5.2zM792.5,514.5l2.6,5h-5.2zM794.5,485.5l2.6,5h-5.2zM797.5,534.5l2.6,5h-5.2zM799.5,399.5l2.6,5h-5.2zM801.5,536.5l2.6,5h-5.2zM803.5,543.5l2.6,5h-5.2zM804.5,500.5l2.6,5h-5.2zM806.5,512.5l2.6,5h-5.2zM809.5,529.5l2.6,5h-5.2zM811.5,542.5l2.6,5h-5.2zM812.5,501.5l2.6,5h-5.2zM814.5,525.5l2.6,5h-5.2zM817.5,470.5l2.6,5h-5.2zM819.5,500.5l2.6,5h-5.2zM820.5,489.5l2.6,5h-5.2zM823.5,518.5l2.6,5h-5.2zM825.5,511.5l2.6,5h-5.2zM826.5,514.5l2.6,5h-5.2zM828.5,466.5l2.6,5h-5.2zM830.5,495.5l2.6,5h-5.2zM832.5,497.5l2.6,5h-5.2zM834.5,490.5l2.6,5h-5.2zM836.5,482.5l2.6,5h-5.2zM838.5,503.5l2.6,5h-5.2zM840.5,492.5l2.6,5h-5.2zM843.5,520.5l2.6,5h-5.2zM844.5,520.5l2.6,5h-5.2z"/>
</g>
<rect x="393.5" y="346.5" width="382" height="19" fill="#fff" stroke="#000"/>
<g shape-rendering="crispEdges"><line x1="398" x2="421" y1="357.5" y2="357.5" stroke="#000080"/><path d="M409.5,354.7l2.6,2.8l-2.6,2.8l-2.6,-2.8z" fill="#000080"/>
<line x1="539" x2="562" y1="357.5" y2="357.5" stroke="#FFFF00"/><path d="M550.5,354.7l2.8,5h-5.6z" fill="#FFFF00"/></g>
<text y="361.5" font-size="11.5"><tspan x="421.5" font-size="12.5" textLength="68.5" lengthAdjust="spacingAndGlyphs">kabu.comPTS</tspan><tspan x="491" textLength="43" lengthAdjust="spacingAndGlyphs">(百万円)</tspan></text>
<text y="361.5" font-size="11.5"><tspan x="564" font-size="12.5" textLength="70" lengthAdjust="spacingAndGlyphs">JapanNextPTS</tspan><tspan x="635.5" textLength="91" lengthAdjust="spacingAndGlyphs">(ｾｯｼｮﾝ1+ｾｯｼｮﾝ2)</tspan><tspan x="727" textLength="42" lengthAdjust="spacingAndGlyphs">(百万円)</tspan></text>
</svg>
</body>
</html>
